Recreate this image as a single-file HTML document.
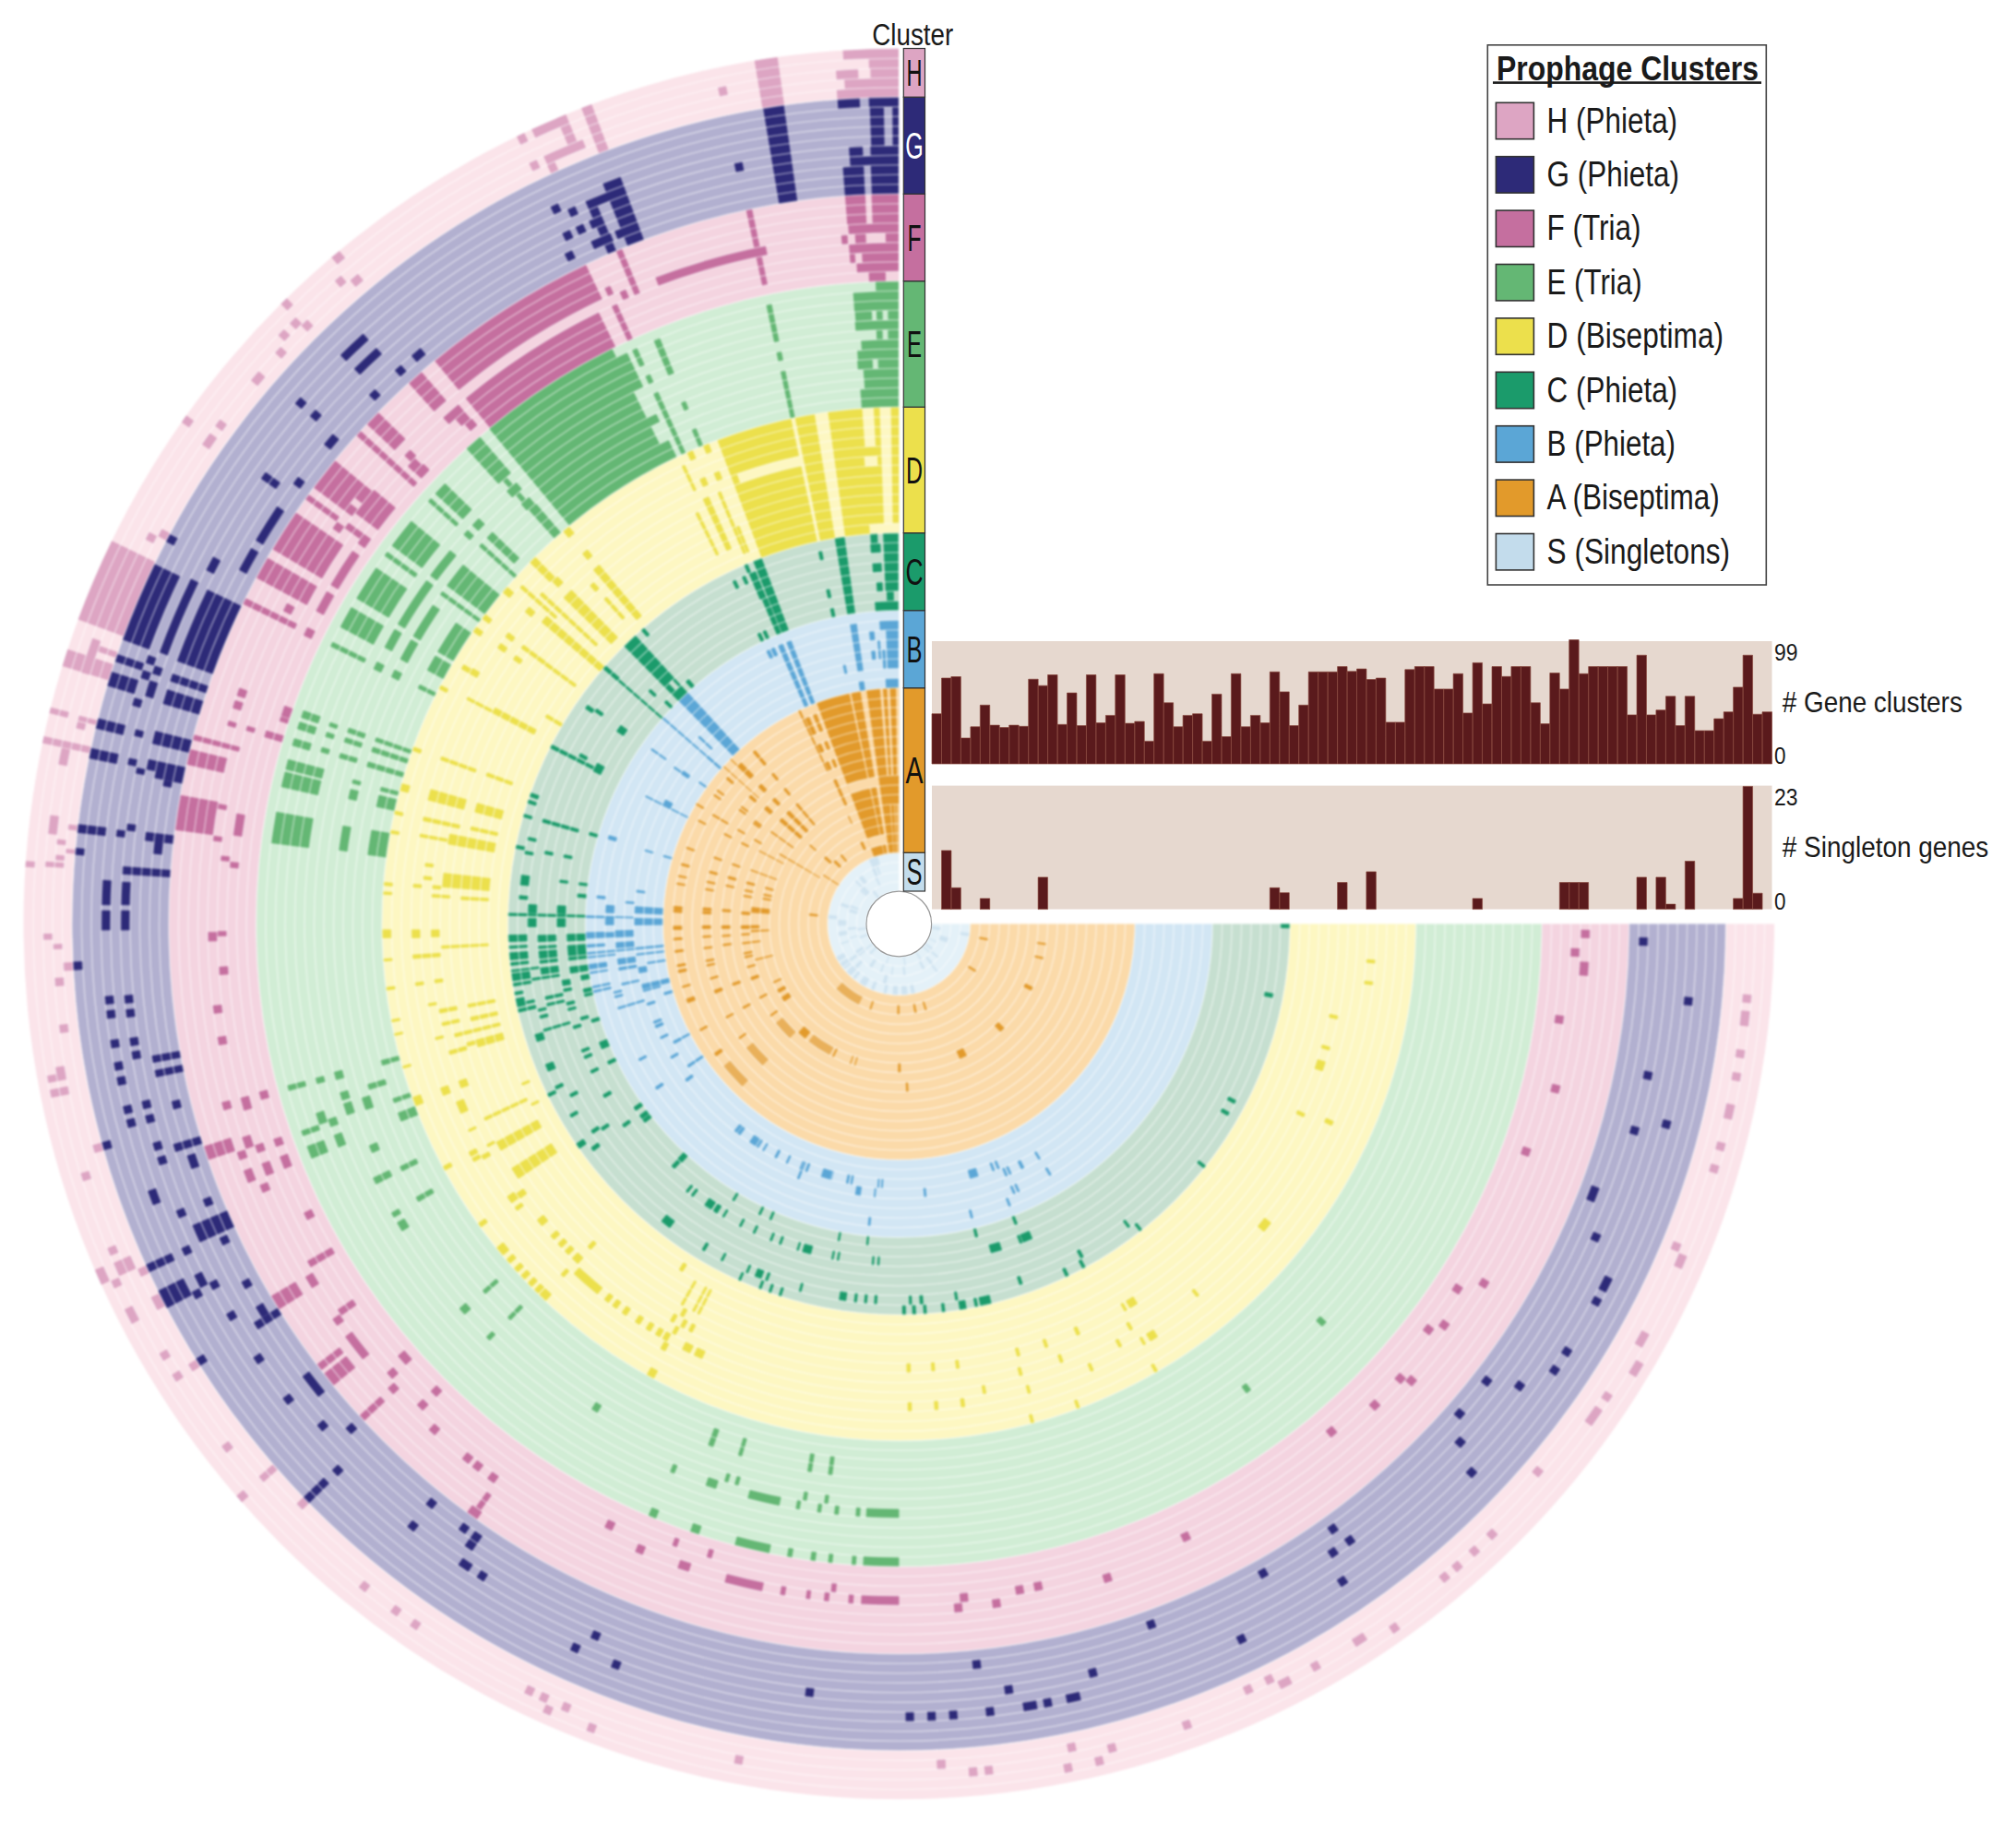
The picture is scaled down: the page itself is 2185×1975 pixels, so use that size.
<!DOCTYPE html>
<html><head><meta charset="utf-8"><title>Prophage Clusters</title>
<style>html,body{margin:0;padding:0;background:#fff}body{width:2185px;height:1975px;position:relative;overflow:hidden}svg text{font-family:"Liberation Sans",Arial,sans-serif}</style></head>
<body>
<svg width="2185" height="1975" viewBox="0 0 2185 1975" style="position:absolute;left:0;top:0">
<rect width="100%" height="100%" fill="#fff"/>
<defs><filter id="soft" x="0" y="0" width="100%" height="100%" filterUnits="userSpaceOnUse" color-interpolation-filters="sRGB"><feGaussianBlur stdDeviation="0.8"/></filter></defs>
<g filter="url(#soft)">
<rect width="100%" height="100%" fill="#fff"/>
<path d="M974.3 924.2A77.3 77.3 0 1 0 1051.6 1001.5L1009.6 1001.5A35.3 35.3 0 1 1 974.3 966.2Z" fill="#e4f1f8"/>
<path d="M974.3 745.7A255.8 255.8 0 1 0 1230.1 1001.5L1051.6 1001.5A77.3 77.3 0 1 1 974.3 924.2Z" fill="#fbdaa9"/>
<path d="M974.3 661.7A339.8 339.8 0 1 0 1314.1 1001.5L1230.1 1001.5A255.8 255.8 0 1 1 974.3 745.7Z" fill="#d2e6f4"/>
<path d="M974.3 577.7A423.8 423.8 0 1 0 1398.1 1001.5L1314.1 1001.5A339.8 339.8 0 1 1 974.3 661.7Z" fill="#c6dfd0"/>
<path d="M974.3 441.2A560.3 560.3 0 1 0 1534.6 1001.5L1398.1 1001.5A423.8 423.8 0 1 1 974.3 577.7Z" fill="#fdf7c2"/>
<path d="M974.3 304.7A696.8 696.8 0 1 0 1671.1 1001.5L1534.6 1001.5A560.3 560.3 0 1 1 974.3 441.2Z" fill="#d1edd5"/>
<path d="M974.3 210.2A791.3 791.3 0 1 0 1765.6 1001.5L1671.1 1001.5A696.8 696.8 0 1 1 974.3 304.7Z" fill="#f4d4e0"/>
<path d="M974.3 105.2A896.3 896.3 0 1 0 1870.6 1001.5L1765.6 1001.5A791.3 791.3 0 1 1 974.3 210.2Z" fill="#b2b0d0"/>
<path d="M974.3 52.7A948.8 948.8 0 1 0 1923.1 1001.5L1870.6 1001.5A896.3 896.3 0 1 1 974.3 105.2Z" fill="#fbe4ea"/>
<path d="M973.9 52.7A948.8 948.8 0 0 0 913.5 54.7L914.1 65.1A938.3 938.3 0 0 1 973.9 63.2ZM973.9 63.2A938.3 938.3 0 0 0 941.6 63.8L942.0 74.3A927.8 927.8 0 0 1 973.9 73.7ZM930.0 74.8A927.8 927.8 0 0 0 906.0 76.2L906.8 86.7A917.3 917.3 0 0 1 930.5 85.2ZM973.9 73.7A927.8 927.8 0 0 0 943.3 74.2L943.6 84.7A917.3 917.3 0 0 1 973.9 84.2ZM973.9 84.2A917.3 917.3 0 0 0 915.1 86.1L915.8 96.6A906.8 906.8 0 0 1 973.9 94.7ZM973.9 94.7A906.8 906.8 0 0 0 906.8 97.2L907.6 107.7A896.3 896.3 0 0 1 973.9 105.2ZM842.7 61.9A948.8 948.8 0 0 0 817.7 65.7L826.4 117.5A896.3 896.3 0 0 1 850.0 113.9Z" fill="#dda5c3"/>
<path d="M849.6 113.9A896.3 896.3 0 0 0 827.1 117.4L844.4 220.9A791.3 791.3 0 0 1 864.2 217.9Z" fill="#2d2a78"/>
<path d="M815.1 226.4A791.3 791.3 0 0 0 808.6 227.7L826.2 309.9A707.3 707.3 0 0 1 832.0 308.7ZM829.8 266.3A749.3 749.3 0 0 0 710.1 300.3L713.8 310.1A738.8 738.8 0 0 1 831.8 276.6Z" fill="#c56f9f"/>
<path d="M804.4 175.0A843.8 843.8 0 0 0 795.6 176.8L797.8 187.1A833.3 833.3 0 0 1 806.5 185.3Z" fill="#2d2a78"/>
<path d="M786.8 92.8A927.8 927.8 0 0 0 778.0 94.7L780.2 105.0A917.3 917.3 0 0 1 789.0 103.1Z" fill="#dda5c3"/>
<path d="M931.7 106.2A896.3 896.3 0 0 0 907.7 107.7L908.4 118.2A885.8 885.8 0 0 1 932.2 116.7ZM973.9 105.2A896.3 896.3 0 0 0 941.6 105.8L942.0 116.3A885.8 885.8 0 0 1 973.9 115.7ZM957.9 115.9A885.8 885.8 0 0 0 942.7 116.3L944.2 158.2A843.8 843.8 0 0 1 958.7 157.8ZM973.9 115.7A885.8 885.8 0 0 0 967.2 115.7L967.5 157.7A843.8 843.8 0 0 1 973.9 157.7ZM935.0 158.6A843.8 843.8 0 0 0 920.1 159.4L920.7 169.9A833.3 833.3 0 0 1 935.5 169.1ZM973.9 157.7A843.8 843.8 0 0 0 943.3 158.3L943.6 168.8A833.3 833.3 0 0 1 973.9 168.2ZM973.9 168.2A833.3 833.3 0 0 0 920.9 169.9L921.6 180.4A822.8 822.8 0 0 1 973.9 178.7ZM936.1 179.6A822.8 822.8 0 0 0 913.5 181.0L915.8 212.4A791.3 791.3 0 0 1 937.6 211.1ZM973.9 178.7A822.8 822.8 0 0 0 943.7 179.3L944.9 210.7A791.3 791.3 0 0 1 973.9 210.2Z" fill="#2d2a78"/>
<path d="M937.8 211.0A791.3 791.3 0 0 0 915.9 212.4L918.3 243.8A759.8 759.8 0 0 1 939.2 242.5ZM973.9 210.2A791.3 791.3 0 0 0 944.5 210.8L945.7 242.2A759.8 759.8 0 0 1 973.9 241.7ZM973.9 241.7A759.8 759.8 0 0 0 919.2 243.7L920.0 254.2A749.3 749.3 0 0 1 973.9 252.2ZM918.4 254.3A749.3 749.3 0 0 0 911.7 254.8L912.6 265.3A738.8 738.8 0 0 1 919.1 264.8ZM938.3 253.1A749.3 749.3 0 0 0 926.6 253.7L927.3 264.2A738.8 738.8 0 0 1 938.8 263.6ZM973.9 252.2A749.3 749.3 0 0 0 959.8 252.3L960.0 262.8A738.8 738.8 0 0 1 973.9 262.7ZM973.9 262.7A738.8 738.8 0 0 0 920.0 264.7L920.8 275.2A728.3 728.3 0 0 1 973.9 273.2ZM926.6 274.8A728.3 728.3 0 0 0 920.8 275.2L921.6 285.6A717.8 717.8 0 0 1 927.3 285.2ZM973.9 273.2A728.3 728.3 0 0 0 934.1 274.3L934.7 284.8A717.8 717.8 0 0 1 973.9 283.7ZM973.9 283.7A717.8 717.8 0 0 0 928.3 285.2L929.0 295.7A707.3 707.3 0 0 1 973.9 294.2ZM959.8 294.3A707.3 707.3 0 0 0 941.6 295.0L942.0 305.4A696.8 696.8 0 0 1 960.0 304.8Z" fill="#c56f9f"/>
<path d="M973.9 304.7A696.8 696.8 0 0 0 949.0 305.2L949.4 315.7A686.3 686.3 0 0 1 973.9 315.2ZM973.9 315.2A686.3 686.3 0 0 0 924.6 317.0L926.1 337.9A665.3 665.3 0 0 1 973.9 336.2ZM944.9 336.9A665.3 665.3 0 0 0 926.6 337.9L927.4 348.4A654.8 654.8 0 0 1 945.3 347.3ZM956.5 336.4A665.3 665.3 0 0 0 949.8 336.6L950.2 347.1A654.8 654.8 0 0 1 956.8 346.9ZM973.9 336.2A665.3 665.3 0 0 0 962.3 336.3L962.5 346.8A654.8 654.8 0 0 1 973.9 346.7ZM973.9 346.7A654.8 654.8 0 0 0 926.6 348.4L927.4 358.9A644.3 644.3 0 0 1 973.9 357.2ZM956.5 357.4A644.3 644.3 0 0 0 949.8 357.7L950.2 368.2A633.8 633.8 0 0 1 956.8 367.9ZM973.9 357.2A644.3 644.3 0 0 0 962.3 357.3L962.5 367.8A633.8 633.8 0 0 1 973.9 367.7ZM973.9 367.7A633.8 633.8 0 0 0 933.2 369.0L933.9 379.5A623.3 623.3 0 0 1 973.9 378.2ZM973.9 378.2A623.3 623.3 0 0 0 929.1 379.8L929.8 390.3A612.8 612.8 0 0 1 973.9 388.7ZM945.7 389.4A612.8 612.8 0 0 0 929.1 390.4L929.8 400.8A602.3 602.3 0 0 1 946.2 399.9ZM973.9 388.7A612.8 612.8 0 0 0 951.5 389.1L951.9 399.6A602.3 602.3 0 0 1 973.9 399.2ZM973.9 399.2A602.3 602.3 0 0 0 935.7 400.4L936.4 410.9A591.8 591.8 0 0 1 973.9 409.7ZM973.9 409.7A591.8 591.8 0 0 0 936.5 410.9L937.2 421.4A581.3 581.3 0 0 1 973.9 420.2ZM973.9 420.2A581.3 581.3 0 0 0 932.4 421.7L933.1 432.2A570.8 570.8 0 0 1 973.9 430.7ZM973.9 430.7A570.8 570.8 0 0 0 933.2 432.2L933.9 442.7A560.3 560.3 0 0 1 973.9 441.2ZM836.3 329.2A686.3 686.3 0 0 0 830.4 330.4L839.2 371.5A644.3 644.3 0 0 1 844.7 370.4ZM846.9 380.6A633.8 633.8 0 0 0 841.4 381.8L843.6 392.0A623.3 623.3 0 0 1 849.0 390.9ZM851.1 401.2A612.8 612.8 0 0 0 845.8 402.3L856.9 453.6A560.3 560.3 0 0 1 861.6 452.6Z" fill="#64b774"/>
<path d="M974.3 441.2A560.3 560.3 0 0 0 777.5 476.9L825.5 604.7A423.8 423.8 0 0 1 974.3 577.7Z" fill="#ece04c"/>
<path d="M897.3 446.5A560.3 560.3 0 0 0 882.8 448.7L905.1 583.4A423.8 423.8 0 0 1 916.1 581.7ZM861.6 452.6A560.3 560.3 0 0 0 857.3 453.5L885.8 587.0A423.8 423.8 0 0 1 889.1 586.4ZM867.4 494.3A518.3 518.3 0 0 0 798.7 513.8L802.3 523.7A507.8 507.8 0 0 1 869.6 504.6ZM946.9 441.9A560.3 560.3 0 0 0 934.4 442.6L937.4 484.5A518.3 518.3 0 0 1 949.0 483.8ZM951.0 494.2A507.8 507.8 0 0 0 936.6 495.1L937.4 505.6A497.3 497.3 0 0 1 951.5 504.7ZM965.6 441.3A560.3 560.3 0 0 0 953.3 441.6L958.0 567.5A434.3 434.3 0 0 1 967.6 567.3ZM974.3 567.2A434.3 434.3 0 0 0 942.1 568.4L942.8 578.9A423.8 423.8 0 0 1 974.3 577.7Z" fill="#fdf7c2"/>
<path d="M915.3 581.8A423.8 423.8 0 0 0 904.7 583.5L918.5 666.3A339.8 339.8 0 0 1 927.0 665.0ZM973.7 577.7A423.8 423.8 0 0 0 957.1 578.0L959.7 641.0A360.8 360.8 0 0 1 973.8 640.7ZM968.7 640.7A360.8 360.8 0 0 0 960.9 640.9L961.3 651.4A350.3 350.3 0 0 1 968.9 651.2ZM973.7 651.2A350.3 350.3 0 0 0 948.1 652.2L948.9 662.7A339.8 339.8 0 0 1 973.8 661.7ZM951.0 578.3A423.8 423.8 0 0 0 943.2 578.8L943.9 589.3A413.3 413.3 0 0 1 951.5 588.8ZM954.3 588.7A413.3 413.3 0 0 0 943.2 589.4L944.0 599.8A402.8 402.8 0 0 1 954.8 599.2ZM955.4 609.7A392.3 392.3 0 0 0 945.4 610.3L946.1 620.7A381.8 381.8 0 0 1 955.9 620.1ZM956.5 630.6A371.3 371.3 0 0 0 949.8 631.0L950.5 641.5A360.8 360.8 0 0 1 957.0 641.1ZM890.8 596.7A413.3 413.3 0 0 0 886.8 597.6L889.0 607.8A402.8 402.8 0 0 1 892.9 607.0ZM899.1 637.9A371.3 371.3 0 0 0 895.2 638.7L897.4 649.0A360.8 360.8 0 0 1 901.3 648.2ZM903.5 658.4A350.3 350.3 0 0 0 899.5 659.3L901.7 669.5A339.8 339.8 0 0 1 905.6 668.7ZM825.5 604.7A423.8 423.8 0 0 0 816.2 608.3L847.6 686.2A339.8 339.8 0 0 1 855.0 683.3ZM818.8 618.6A413.3 413.3 0 0 0 811.5 621.6L823.9 650.6A381.8 381.8 0 0 1 830.7 647.8ZM831.3 647.5A381.8 381.8 0 0 0 825.7 649.8L842.1 688.5A339.8 339.8 0 0 1 847.0 686.4ZM797.1 628.1A413.3 413.3 0 0 0 793.5 629.8L798.1 639.3A402.8 402.8 0 0 1 801.6 637.6ZM807.5 623.4A413.3 413.3 0 0 0 803.8 625.0L808.1 634.6A402.8 402.8 0 0 1 811.7 633.0ZM810.1 610.8A423.8 423.8 0 0 0 806.4 612.4L810.5 622.0A413.3 413.3 0 0 1 814.2 620.5ZM824.0 685.1A350.3 350.3 0 0 0 820.4 686.8L825.0 696.3A339.8 339.8 0 0 1 828.5 694.6ZM829.9 682.4A350.3 350.3 0 0 0 826.2 684.0L830.6 693.6A339.8 339.8 0 0 1 834.2 691.9Z" fill="#1b9b6b"/>
<path d="M928.5 675.4A329.3 329.3 0 0 0 921.1 676.5L929.6 728.3A276.8 276.8 0 0 1 935.8 727.4ZM973.7 672.2A329.3 329.3 0 0 0 953.1 672.9L953.8 683.4A318.8 318.8 0 0 1 973.8 682.7ZM973.7 682.7A318.8 318.8 0 0 0 960.2 683.0L962.0 725.0A276.8 276.8 0 0 1 973.8 724.7ZM947.5 683.8A318.8 318.8 0 0 0 941.9 684.3L943.0 694.8A308.3 308.3 0 0 1 948.4 694.3ZM948.6 704.8A297.8 297.8 0 0 0 944.1 705.2L945.2 715.7A287.3 287.3 0 0 1 949.5 715.3ZM953.8 693.9A308.3 308.3 0 0 0 951.0 694.1L952.6 715.0A287.3 287.3 0 0 1 955.2 714.8ZM959.5 704.1A297.8 297.8 0 0 0 956.1 704.3L957.4 725.2A276.8 276.8 0 0 1 960.5 725.0ZM936.2 737.9A266.3 266.3 0 0 0 930.6 738.8L932.3 749.2A255.8 255.8 0 0 1 937.7 748.3ZM973.7 735.2A266.3 266.3 0 0 0 959.7 735.6L960.3 746.1A255.8 255.8 0 0 1 973.8 745.7ZM857.4 693.7A329.3 329.3 0 0 0 852.0 695.7L875.4 754.2A266.3 266.3 0 0 1 879.7 752.6ZM848.3 697.3A329.3 329.3 0 0 0 843.0 699.5L868.1 757.3A266.3 266.3 0 0 1 872.4 755.5ZM833.8 703.7A329.3 329.3 0 0 0 830.2 705.4L834.8 714.8A318.8 318.8 0 0 1 838.3 713.2ZM838.8 701.4A329.3 329.3 0 0 0 835.1 703.1L839.6 712.6A318.8 318.8 0 0 1 843.1 710.9ZM916.4 720.1A287.3 287.3 0 0 0 913.4 720.7L915.6 731.0A276.8 276.8 0 0 1 918.5 730.4Z" fill="#5ba6d6"/>
<path d="M568.2 144.0A948.8 948.8 0 0 0 560.0 147.9L564.6 157.4A938.3 938.3 0 0 1 572.7 153.5ZM581.3 172.7A917.3 917.3 0 0 0 573.1 176.6L577.7 186.0A906.8 906.8 0 0 1 585.8 182.2ZM641.2 113.1A948.8 948.8 0 0 0 630.1 117.3L649.2 166.2A896.3 896.3 0 0 1 659.7 162.2ZM613.3 124.1A948.8 948.8 0 0 0 603.2 128.3L615.5 157.3A917.3 917.3 0 0 1 625.3 153.2ZM608.9 125.9A948.8 948.8 0 0 0 576.1 140.3L580.5 149.8A938.3 938.3 0 0 1 613.0 135.6ZM631.2 150.8A917.3 917.3 0 0 0 588.9 169.1L593.3 178.6A906.8 906.8 0 0 1 635.2 160.5ZM601.1 175.1A906.8 906.8 0 0 0 592.9 178.8L597.3 188.3A896.3 896.3 0 0 1 605.4 184.6Z" fill="#dda5c3"/>
<path d="M672.3 191.2A864.8 864.8 0 0 0 653.0 198.6L680.3 266.8A791.3 791.3 0 0 1 697.9 260.0ZM643.6 213.8A854.3 854.3 0 0 0 634.2 217.8L659.3 275.6A791.3 791.3 0 0 1 668.0 271.9ZM659.8 207.2A854.3 854.3 0 0 0 637.7 216.3L641.9 225.9A843.8 843.8 0 0 1 663.7 217.0ZM661.1 252.0A812.3 812.3 0 0 0 640.0 261.2L644.3 270.8A801.8 801.8 0 0 1 665.2 261.7ZM604.4 219.8A864.8 864.8 0 0 0 596.3 223.7L600.8 233.1A854.3 854.3 0 0 1 608.9 229.3ZM622.9 222.8A854.3 854.3 0 0 0 614.7 226.6L619.1 236.1A843.8 843.8 0 0 1 627.2 232.4ZM631.6 241.9A833.3 833.3 0 0 0 623.4 245.7L627.8 255.2A822.8 822.8 0 0 1 636.0 251.5ZM617.2 248.6A833.3 833.3 0 0 0 609.0 252.5L613.6 262.0A822.8 822.8 0 0 1 621.7 258.1ZM619.6 270.7A812.3 812.3 0 0 0 611.4 274.8L616.1 284.1A801.8 801.8 0 0 1 624.2 280.2ZM646.2 235.5A833.3 833.3 0 0 0 637.9 239.1L642.1 248.7A822.8 822.8 0 0 1 650.3 245.2ZM674.2 246.7A812.3 812.3 0 0 0 665.8 250.1L669.7 259.8A801.8 801.8 0 0 1 678.0 256.4Z" fill="#2d2a78"/>
<path d="M634.9 286.7A791.3 791.3 0 0 0 471.0 390.9L497.7 423.3A749.3 749.3 0 0 1 652.9 324.6ZM648.7 338.3A738.8 738.8 0 0 0 504.4 431.4L531.1 463.8A696.8 696.8 0 0 1 667.2 376.0Z" fill="#c56f9f"/>
<path d="M663.4 377.9A696.8 696.8 0 0 0 530.1 464.6L617.2 569.8A560.3 560.3 0 0 1 724.3 500.1ZM679.4 381.8A686.3 686.3 0 0 0 668.1 387.3L672.8 396.7A675.8 675.8 0 0 1 683.9 391.3ZM683.9 391.3A675.8 675.8 0 0 0 672.8 396.7L677.4 406.1A665.3 665.3 0 0 1 688.4 400.8ZM688.4 400.8A665.3 665.3 0 0 0 677.4 406.1L682.1 415.5A654.8 654.8 0 0 1 692.9 410.2ZM692.9 410.2A654.8 654.8 0 0 0 682.1 415.5L686.8 424.9A644.3 644.3 0 0 1 697.4 419.7ZM711.0 448.2A612.8 612.8 0 0 0 700.9 453.1L705.6 462.5A602.3 602.3 0 0 1 715.5 457.6ZM724.5 476.6A581.3 581.3 0 0 0 714.9 481.3L719.6 490.7A570.8 570.8 0 0 1 729.0 486.1ZM729.0 486.1A570.8 570.8 0 0 0 719.6 490.7L724.3 500.1A560.3 560.3 0 0 1 733.5 495.6ZM715.0 366.1A686.3 686.3 0 0 0 708.3 368.8L724.6 407.5A644.3 644.3 0 0 1 730.9 405.0ZM742.8 434.1A612.8 612.8 0 0 0 737.8 436.2L741.9 445.9A602.3 602.3 0 0 1 746.7 443.8ZM754.2 463.5A581.3 581.3 0 0 0 749.5 465.4L757.6 484.8A560.3 560.3 0 0 1 762.1 482.9ZM690.2 376.7A686.3 686.3 0 0 0 684.8 379.2L693.7 398.3A665.3 665.3 0 0 1 698.9 395.9ZM704.3 404.9A654.8 654.8 0 0 0 699.1 407.3L703.5 416.9A644.3 644.3 0 0 1 708.6 414.5ZM713.0 424.1A633.8 633.8 0 0 0 707.9 426.4L738.8 493.1A560.3 560.3 0 0 1 743.3 491.0Z" fill="#64b774"/>
<path d="M674.0 269.4A791.3 791.3 0 0 0 667.7 272.0L688.0 320.4A738.8 738.8 0 0 1 694.0 318.0ZM668.5 329.0A738.8 738.8 0 0 0 662.7 331.6L680.4 369.7A696.8 696.8 0 0 1 685.9 367.2ZM661.0 309.3A759.8 759.8 0 0 0 655.0 312.0L659.4 321.6A749.3 749.3 0 0 1 665.4 318.9ZM677.9 313.3A749.3 749.3 0 0 0 671.3 316.2L675.6 325.8A738.8 738.8 0 0 1 682.1 323.0ZM456.7 402.9A791.3 791.3 0 0 0 442.8 415.3L471.0 446.4A749.3 749.3 0 0 1 484.2 434.7ZM496.5 438.0A738.8 738.8 0 0 0 479.9 452.5L487.0 460.3A728.3 728.3 0 0 1 503.2 446.0ZM503.2 446.0A728.3 728.3 0 0 0 493.6 454.4L500.6 462.2A717.8 717.8 0 0 1 510.0 454.1ZM511.0 453.2A717.8 717.8 0 0 0 503.4 459.8L510.3 467.7A707.3 707.3 0 0 1 517.8 461.3ZM409.9 446.9A791.3 791.3 0 0 0 397.5 459.8L428.1 488.6A749.3 749.3 0 0 1 439.9 476.3ZM390.0 467.9A791.3 791.3 0 0 0 386.2 472.0L448.7 528.2A707.3 707.3 0 0 1 452.0 524.6ZM442.9 488.3A738.8 738.8 0 0 0 438.4 492.9L446.0 500.2A728.3 728.3 0 0 1 450.4 495.6ZM449.5 496.5A728.3 728.3 0 0 0 445.1 501.1L452.8 508.3A717.8 717.8 0 0 1 457.1 503.8ZM457.1 503.8A717.8 717.8 0 0 0 449.3 512.0L457.0 519.1A707.3 707.3 0 0 1 464.7 511.1Z" fill="#c56f9f"/>
<path d="M519.9 473.2A696.8 696.8 0 0 0 505.3 486.1L540.7 525.0A644.3 644.3 0 0 1 554.2 513.0ZM549.1 517.5A644.3 644.3 0 0 0 544.9 521.2L551.9 529.0A633.8 633.8 0 0 1 556.0 525.3ZM559.3 522.4A633.8 633.8 0 0 0 548.6 532.0L555.6 539.8A623.3 623.3 0 0 1 566.2 530.4ZM562.9 533.2A623.3 623.3 0 0 0 558.9 536.8L565.8 544.7A612.8 612.8 0 0 1 569.9 541.1ZM573.1 538.3A612.8 612.8 0 0 0 564.3 546.1L571.3 553.9A602.3 602.3 0 0 1 579.9 546.2ZM580.7 545.6A602.3 602.3 0 0 0 572.8 552.5L600.8 583.8A560.3 560.3 0 0 1 608.2 577.4ZM481.9 523.5A686.3 686.3 0 0 0 471.1 534.8L501.9 563.3A644.3 644.3 0 0 1 512.0 552.7ZM466.7 539.6A686.3 686.3 0 0 0 463.5 543.2L494.7 571.2A644.3 644.3 0 0 1 497.8 567.9Z" fill="#64b774"/>
<path d="M741.9 503.2A549.8 549.8 0 0 0 738.5 504.8L752.0 533.3A518.3 518.3 0 0 1 755.2 531.8ZM756.7 554.3A497.3 497.3 0 0 0 753.3 556.0L776.6 603.1A444.8 444.8 0 0 1 779.7 601.5ZM767.8 537.6A507.8 507.8 0 0 0 761.4 540.5L787.8 597.7A444.8 444.8 0 0 1 793.4 595.2ZM781.1 531.9A507.8 507.8 0 0 0 777.5 533.4L805.9 601.2A434.3 434.3 0 0 1 809.0 599.9ZM801.0 569.2A465.8 465.8 0 0 0 797.5 570.6L809.5 599.7A434.3 434.3 0 0 1 812.7 598.4ZM750.6 487.8A560.3 560.3 0 0 0 744.5 490.5L748.8 500.1A549.8 549.8 0 0 1 754.8 497.4ZM768.1 480.5A560.3 560.3 0 0 0 761.9 483.0L765.9 492.7A549.8 549.8 0 0 1 771.9 490.3ZM764.0 516.3A528.8 528.8 0 0 0 757.9 519.0L762.2 528.6A518.3 518.3 0 0 1 768.2 526.0ZM779.5 509.9A528.8 528.8 0 0 0 773.3 512.4L777.3 522.1A518.3 518.3 0 0 1 783.4 519.7ZM616.4 570.4A560.3 560.3 0 0 0 610.1 575.7L616.9 583.7A549.8 549.8 0 0 1 623.2 578.4ZM636.2 594.9A528.8 528.8 0 0 0 630.5 599.7L637.3 607.7A518.3 518.3 0 0 1 642.9 603.0ZM579.9 603.6A560.3 560.3 0 0 0 573.9 609.6L596.4 631.6A528.8 528.8 0 0 1 602.0 625.9ZM603.8 624.2A528.8 528.8 0 0 0 597.9 630.1L605.4 637.5A518.3 518.3 0 0 1 611.2 631.7ZM649.1 611.5A507.8 507.8 0 0 0 642.4 617.2L690.4 672.8A434.3 434.3 0 0 1 696.2 667.9ZM618.9 638.8A507.8 507.8 0 0 0 610.1 647.6L662.8 698.8A434.3 434.3 0 0 1 670.3 691.3ZM657.0 646.2A476.3 476.3 0 0 0 653.9 649.1L675.1 672.4A444.8 444.8 0 0 1 678.0 669.7ZM643.1 630.5A497.3 497.3 0 0 0 638.8 634.4L645.9 642.2A486.8 486.8 0 0 1 650.1 638.3ZM587.2 641.3A528.8 528.8 0 0 0 584.2 644.6L646.1 701.3A444.8 444.8 0 0 1 648.7 698.5ZM565.8 633.5A549.8 549.8 0 0 0 562.9 636.7L602.2 671.6A497.3 497.3 0 0 1 604.8 668.7ZM592.1 667.1A507.8 507.8 0 0 0 586.3 673.9L650.5 728.1A423.8 423.8 0 0 1 655.3 722.4ZM573.0 657.1A528.8 528.8 0 0 0 568.2 662.8L576.2 669.6A518.3 518.3 0 0 1 581.0 664.0ZM566.9 698.4A507.8 507.8 0 0 0 564.3 701.8L589.8 720.4A476.3 476.3 0 0 1 592.1 717.2Z" fill="#ece04c"/>
<path d="M697.8 680.4A423.8 423.8 0 0 0 694.6 683.1L701.6 691.0A413.3 413.3 0 0 1 704.6 688.3Z" fill="#1b9b6b"/>
<path d="M974.3 745.7A255.8 255.8 0 0 0 885.1 761.7L947.4 929.0A77.3 77.3 0 0 1 974.3 924.2Z" fill="#e29a2b"/>
<path d="M922.4 751.0A255.8 255.8 0 0 0 920.5 751.4L958.0 925.9A77.3 77.3 0 0 1 958.6 925.8ZM939.1 748.1A255.8 255.8 0 0 0 932.5 749.1L961.7 925.2A77.3 77.3 0 0 1 963.7 924.9ZM956.9 746.3A255.8 255.8 0 0 0 953.8 746.5L961.4 840.7A161.3 161.3 0 0 1 963.3 840.6ZM964.5 745.9A255.8 255.8 0 0 0 961.4 746.0L966.1 840.4A161.3 161.3 0 0 1 968.1 840.3ZM974.3 745.7A255.8 255.8 0 0 0 971.2 745.7L972.3 840.2A161.3 161.3 0 0 1 974.3 840.2ZM965.5 872.0A129.8 129.8 0 0 0 964.6 872.1L968.5 924.4A77.3 77.3 0 0 1 969.0 924.4ZM970.2 871.8A129.8 129.8 0 0 0 969.3 871.8L971.3 924.3A77.3 77.3 0 0 1 971.9 924.2ZM973.6 871.7A129.8 129.8 0 0 0 972.3 871.7L973.1 924.2A77.3 77.3 0 0 1 973.9 924.2ZM948.0 842.4A161.3 161.3 0 0 0 918.1 850.3L921.7 860.2A150.8 150.8 0 0 1 949.7 852.7ZM958.2 904.5A98.3 98.3 0 0 0 940.0 909.4L943.7 919.2A87.8 87.8 0 0 1 960.0 914.9Z" fill="#fbdaa9"/>
<path d="M867.2 769.2A255.8 255.8 0 0 0 865.0 770.2L896.4 836.7A182.3 182.3 0 0 1 898.0 835.9ZM876.9 776.4A245.3 245.3 0 0 0 872.2 778.5L876.6 788.0A234.8 234.8 0 0 1 881.0 786.0ZM881.0 786.0A234.8 234.8 0 0 0 876.6 788.0L880.9 797.6A224.3 224.3 0 0 1 885.2 795.6ZM889.4 805.3A213.8 213.8 0 0 0 885.3 807.1L889.7 816.7A203.3 203.3 0 0 1 893.6 814.9ZM897.7 824.6A192.8 192.8 0 0 0 894.0 826.2L898.4 835.7A182.3 182.3 0 0 1 901.9 834.2ZM906.1 843.8A171.8 171.8 0 0 0 902.8 845.3L907.2 854.8A161.3 161.3 0 0 1 910.2 853.5ZM910.2 853.5A161.3 161.3 0 0 0 907.2 854.8L911.5 864.4A150.8 150.8 0 0 1 914.4 863.1ZM914.4 863.1A150.8 150.8 0 0 0 911.5 864.4L915.9 873.9A140.3 140.3 0 0 1 918.6 872.7ZM884.8 773.1A245.3 245.3 0 0 0 880.8 774.7L884.8 784.4A234.8 234.8 0 0 1 888.6 782.9ZM888.6 782.9A234.8 234.8 0 0 0 884.8 784.4L888.8 794.1A224.3 224.3 0 0 1 892.5 792.7ZM896.3 802.4A213.8 213.8 0 0 0 892.8 803.8L896.8 813.5A203.3 203.3 0 0 1 900.1 812.2ZM904.0 822.0A192.8 192.8 0 0 0 900.8 823.2L904.8 833.0A182.3 182.3 0 0 1 907.8 831.8Z" fill="#e29a2b"/>
<path d="M745.4 750.4A339.8 339.8 0 0 0 735.5 759.8L794.5 819.5A255.8 255.8 0 0 1 802.0 812.5Z" fill="#5ba6d6"/>
<path d="M688.5 688.5A423.8 423.8 0 0 0 676.2 700.3L735.3 760.0A339.8 339.8 0 0 1 745.2 750.6Z" fill="#1b9b6b"/>
<path d="M728.8 737.1A360.8 360.8 0 0 0 724.9 740.8L732.1 748.4A350.3 350.3 0 0 1 736.0 744.8Z" fill="#c6dfd0"/>
<path d="M719.0 777.2A339.8 339.8 0 0 0 717.5 779.0L765.1 820.3A276.8 276.8 0 0 1 766.4 818.8ZM766.7 818.4A276.8 276.8 0 0 0 764.8 820.6L780.7 834.4A255.8 255.8 0 0 1 782.4 832.3Z" fill="#5ba6d6"/>
<path d="M655.4 722.3A423.8 423.8 0 0 0 653.5 724.6L717.1 779.5A339.8 339.8 0 0 1 718.6 777.7Z" fill="#1b9b6b"/>
<path d="M706.0 810.6A329.3 329.3 0 0 0 704.7 812.5L721.9 824.5A308.3 308.3 0 0 1 723.1 822.8ZM730.6 830.3A297.8 297.8 0 0 0 729.3 832.2L746.6 844.1A276.8 276.8 0 0 1 747.8 842.4ZM740.3 834.8A287.3 287.3 0 0 0 737.6 838.7L746.2 844.6A276.8 276.8 0 0 1 748.8 840.9ZM757.8 797.1A297.8 297.8 0 0 0 756.0 798.9L771.4 813.2A276.8 276.8 0 0 1 773.0 811.5ZM757.8 846.4A266.3 266.3 0 0 0 756.5 848.2L765.1 854.3A255.8 255.8 0 0 1 766.3 852.5ZM699.5 861.8A308.3 308.3 0 0 0 698.6 863.6L745.5 887.1A255.8 255.8 0 0 1 746.3 885.6ZM720.8 866.3A287.3 287.3 0 0 0 718.3 871.2L727.6 875.9A276.8 276.8 0 0 1 730.1 871.3ZM698.7 920.4A287.3 287.3 0 0 0 698.1 922.5L708.2 925.4A276.8 276.8 0 0 1 708.8 923.4ZM718.8 926.6A266.3 266.3 0 0 0 718.1 928.7L728.2 931.6A255.8 255.8 0 0 1 728.8 929.6ZM833.8 703.7A329.3 329.3 0 0 0 831.8 704.6L836.4 714.1A318.8 318.8 0 0 1 838.3 713.2ZM839.2 701.2A329.3 329.3 0 0 0 837.2 702.1L841.5 711.7A318.8 318.8 0 0 1 843.5 710.8ZM879.7 752.6A266.3 266.3 0 0 0 875.4 754.2L879.3 764.0A255.8 255.8 0 0 1 883.5 762.4ZM872.4 755.5A266.3 266.3 0 0 0 868.1 757.3L872.3 766.9A255.8 255.8 0 0 1 876.4 765.2ZM935.9 738.0A266.3 266.3 0 0 0 930.8 738.8L932.5 749.1A255.8 255.8 0 0 1 937.4 748.4Z" fill="#5ba6d6"/>
<path d="M704.1 746.9A371.3 371.3 0 0 0 702.2 748.9L709.9 756.0A360.8 360.8 0 0 1 711.7 754.1ZM722.0 758.5A350.3 350.3 0 0 0 720.0 760.5L727.7 767.8A339.8 339.8 0 0 1 729.5 765.8ZM745.2 736.5A350.3 350.3 0 0 0 742.8 738.6L749.8 746.4A339.8 339.8 0 0 1 752.0 744.5Z" fill="#1b9b6b"/>
<path d="M818.1 812.4A245.3 245.3 0 0 0 815.2 814.8L828.8 830.8A224.3 224.3 0 0 1 831.4 828.6ZM784.5 830.0A255.8 255.8 0 0 0 783.6 831.0L822.7 866.0A203.3 203.3 0 0 1 823.4 865.2ZM792.0 822.0A255.8 255.8 0 0 0 791.1 822.9L813.7 844.9A224.3 224.3 0 0 1 814.5 844.1ZM803.0 825.9A245.3 245.3 0 0 0 799.5 829.5L814.4 844.2A224.3 224.3 0 0 1 817.7 840.9ZM824.6 848.9A213.8 213.8 0 0 0 821.1 852.4L828.6 859.7A203.3 203.3 0 0 1 832.0 856.4ZM813.1 861.0A213.8 213.8 0 0 0 810.7 863.8L818.8 870.6A203.3 203.3 0 0 1 821.0 867.9ZM788.3 841.6A245.3 245.3 0 0 0 786.3 844.0L794.3 850.7A234.8 234.8 0 0 1 796.2 848.4ZM837.9 836.9A213.8 213.8 0 0 0 835.5 838.9L842.3 846.9A203.3 203.3 0 0 1 844.6 845.0ZM851.0 853.3A192.8 192.8 0 0 0 848.6 855.3L855.5 863.2A182.3 182.3 0 0 1 857.7 861.4ZM839.2 863.9A192.8 192.8 0 0 0 836.2 867.0L843.7 874.3A182.3 182.3 0 0 1 846.6 871.4ZM830.7 872.9A192.8 192.8 0 0 0 827.4 876.6L835.4 883.4A182.3 182.3 0 0 1 838.5 879.9ZM773.8 860.2A245.3 245.3 0 0 0 772.5 862.0L781.2 868.0A234.8 234.8 0 0 1 782.4 866.2ZM777.4 855.2A245.3 245.3 0 0 0 776.1 857.0L784.5 863.2A234.8 234.8 0 0 1 785.8 861.5ZM754.8 870.2A255.8 255.8 0 0 0 753.6 872.1L762.7 877.4A245.3 245.3 0 0 1 763.8 875.6ZM801.1 876.1A213.8 213.8 0 0 0 799.8 877.9L808.4 884.0A203.3 203.3 0 0 1 809.6 882.3ZM803.5 873.0A213.8 213.8 0 0 0 802.1 874.7L810.6 881.0A203.3 203.3 0 0 1 811.8 879.3ZM772.3 881.8A234.8 234.8 0 0 0 771.2 883.7L789.3 894.3A213.8 213.8 0 0 1 790.4 892.5ZM756.8 888.0A245.3 245.3 0 0 0 755.8 890.0L765.2 894.8A234.8 234.8 0 0 1 766.1 892.9ZM818.0 888.6A192.8 192.8 0 0 0 816.7 890.4L825.3 896.5A182.3 182.3 0 0 1 826.5 894.8ZM816.5 890.7A192.8 192.8 0 0 0 815.2 892.5L823.9 898.5A182.3 182.3 0 0 1 825.1 896.7ZM799.4 897.9A203.3 203.3 0 0 0 798.3 899.8L807.4 905.0A192.8 192.8 0 0 1 808.4 903.2ZM784.8 902.6A213.8 213.8 0 0 0 783.7 904.6L793.1 909.3A203.3 203.3 0 0 1 794.1 907.4ZM803.4 912.2A192.8 192.8 0 0 0 802.4 914.2L811.8 918.9A182.3 182.3 0 0 1 812.7 917.1ZM817.4 908.7A182.3 182.3 0 0 0 816.3 910.6L825.4 915.8A171.8 171.8 0 0 1 826.4 914.0ZM863.9 869.8A171.8 171.8 0 0 0 861.7 871.7L882.4 895.5A140.3 140.3 0 0 1 884.2 894.0ZM854.9 878.0A171.8 171.8 0 0 0 851.6 881.2L874.1 903.3A140.3 140.3 0 0 1 876.8 900.6ZM847.0 886.1A171.8 171.8 0 0 0 844.0 889.6L867.9 910.1A140.3 140.3 0 0 1 870.4 907.3ZM835.6 900.2A171.8 171.8 0 0 0 834.4 901.8L860.0 920.1A140.3 140.3 0 0 1 861.0 918.8ZM822.4 921.3A171.8 171.8 0 0 0 821.8 922.5L849.7 937.0A140.3 140.3 0 0 1 850.2 936.0ZM844.6 924.6A150.8 150.8 0 0 0 843.8 925.9L889.2 952.2A98.3 98.3 0 0 1 889.7 951.4ZM813.1 942.1A171.8 171.8 0 0 0 812.6 943.6L842.2 954.2A140.3 140.3 0 0 1 842.7 953.0ZM892.1 947.6A98.3 98.3 0 0 0 891.4 948.7L909.1 960.0A77.3 77.3 0 0 1 909.7 959.1ZM877.7 914.8A129.8 129.8 0 0 0 876.5 916.2L884.4 923.1A119.3 119.3 0 0 1 885.5 921.8ZM894.5 927.6A108.8 108.8 0 0 0 892.4 929.9L900.3 936.8A98.3 98.3 0 0 1 902.2 934.7ZM905.0 931.8A98.3 98.3 0 0 0 902.8 934.0L910.4 941.2A87.8 87.8 0 0 1 912.4 939.2ZM912.0 925.5A98.3 98.3 0 0 0 910.2 927.0L917.1 934.9A87.8 87.8 0 0 1 918.6 933.6ZM919.9 883.6A129.8 129.8 0 0 0 918.6 884.3L923.1 893.8A119.3 119.3 0 0 1 924.3 893.2ZM934.8 911.5A98.3 98.3 0 0 0 931.9 912.8L936.5 922.3A87.8 87.8 0 0 1 939.0 921.1ZM743.8 917.6A245.3 245.3 0 0 0 743.1 919.7L753.0 923.2A234.8 234.8 0 0 1 753.7 921.2ZM738.1 935.2A245.3 245.3 0 0 0 737.3 938.1L747.5 940.8A234.8 234.8 0 0 1 748.2 938.0ZM734.9 948.2A245.3 245.3 0 0 0 734.4 950.4L744.7 952.5A234.8 234.8 0 0 1 745.1 950.5ZM733.2 956.5A245.3 245.3 0 0 0 732.8 958.7L743.1 960.5A234.8 234.8 0 0 1 743.5 958.4ZM773.5 928.1A213.8 213.8 0 0 0 772.7 930.2L782.6 933.7A203.3 203.3 0 0 1 783.4 931.7ZM768.6 943.4A213.8 213.8 0 0 0 767.7 946.3L777.9 949.1A203.3 203.3 0 0 1 778.7 946.2ZM765.7 954.5A213.8 213.8 0 0 0 765.2 956.7L775.5 958.9A203.3 203.3 0 0 1 776.0 956.8ZM764.1 962.5A213.8 213.8 0 0 0 763.7 964.7L774.0 966.5A203.3 203.3 0 0 1 774.4 964.4ZM793.2 935.3A192.8 192.8 0 0 0 792.5 937.4L802.4 940.9A182.3 182.3 0 0 1 803.1 938.9ZM788.7 949.3A192.8 192.8 0 0 0 787.9 952.3L798.0 955.0A182.3 182.3 0 0 1 798.8 952.1ZM786.3 958.6A192.8 192.8 0 0 0 785.8 960.8L796.1 963.0A182.3 182.3 0 0 1 796.6 961.0ZM808.8 955.3A171.8 171.8 0 0 0 808.1 957.9L818.3 960.6A161.3 161.3 0 0 1 818.9 958.1ZM806.7 963.7A171.8 171.8 0 0 0 806.2 965.9L816.5 968.1A161.3 161.3 0 0 1 817.0 966.0ZM805.5 969.8A171.8 171.8 0 0 0 805.1 972.0L815.4 973.8A161.3 161.3 0 0 1 815.8 971.7ZM829.0 961.0A150.8 150.8 0 0 0 828.4 963.2L838.6 965.9A140.3 140.3 0 0 1 839.1 963.9ZM827.2 968.5A150.8 150.8 0 0 0 826.7 970.7L837.0 972.8A140.3 140.3 0 0 1 837.4 970.8ZM826.3 972.7A150.8 150.8 0 0 0 825.9 974.9L836.2 976.8A140.3 140.3 0 0 1 836.6 974.7ZM813.9 984.8A161.3 161.3 0 0 0 813.5 988.7L834.4 990.3A140.3 140.3 0 0 1 834.8 987.0ZM803.0 988.2A171.8 171.8 0 0 0 802.8 991.3L813.3 991.9A161.3 161.3 0 0 1 813.5 989.0ZM729.7 982.3A245.3 245.3 0 0 0 729.6 984.6L740.1 985.3A234.8 234.8 0 0 1 740.2 983.2ZM729.5 986.6A245.3 245.3 0 0 0 729.3 988.9L739.8 989.4A234.8 234.8 0 0 1 739.9 987.3ZM761.2 984.8A213.8 213.8 0 0 0 761.0 987.0L771.5 987.7A203.3 203.3 0 0 1 771.6 985.6ZM760.9 988.5A213.8 213.8 0 0 0 760.8 990.7L771.3 991.2A203.3 203.3 0 0 1 771.4 989.1ZM782.1 985.9A192.8 192.8 0 0 0 782.0 988.2L792.4 988.9A182.3 182.3 0 0 1 792.6 986.8ZM729.0 1004.4A245.3 245.3 0 0 0 729.1 1008.1L739.6 1007.8A234.8 234.8 0 0 1 739.5 1004.3ZM760.5 1003.8A213.8 213.8 0 0 0 760.6 1006.9L771.1 1006.6A203.3 203.3 0 0 1 771.0 1003.7ZM781.5 1003.8A192.8 192.8 0 0 0 781.6 1006.9L792.1 1006.6A182.3 182.3 0 0 1 792.0 1003.7ZM802.5 1003.9A171.8 171.8 0 0 0 802.6 1007.0L813.1 1006.7A161.3 161.3 0 0 1 813.0 1003.7ZM876.7 990.0A98.3 98.3 0 0 0 876.4 992.5L886.9 993.4A87.8 87.8 0 0 1 887.1 991.2Z" fill="#e29a2b"/>
<path d="M121.2 586.3A948.8 948.8 0 0 0 84.7 671.5L133.9 689.8A896.3 896.3 0 0 1 168.4 609.3ZM73.4 703.8A948.8 948.8 0 0 0 67.6 722.1L117.7 737.6A896.3 896.3 0 0 1 123.3 720.3ZM99.8 691.6A927.8 927.8 0 0 0 87.5 728.7L97.6 731.8A917.3 917.3 0 0 1 109.7 695.1ZM98.1 696.5A927.8 927.8 0 0 0 95.9 702.8L125.7 713.0A896.3 896.3 0 0 1 127.8 706.9ZM202.0 450.3A948.8 948.8 0 0 0 196.8 457.7L205.4 463.8A938.3 938.3 0 0 1 210.6 456.4ZM238.1 454.3A917.3 917.3 0 0 0 232.7 461.6L241.2 467.8A906.8 906.8 0 0 1 246.5 460.6ZM227.3 469.2A917.3 917.3 0 0 0 222.1 476.6L230.7 482.6A906.8 906.8 0 0 1 235.8 475.3ZM223.7 474.2A917.3 917.3 0 0 0 218.5 481.6L227.2 487.6A906.8 906.8 0 0 1 232.3 480.2ZM161.4 576.5A917.3 917.3 0 0 0 157.2 584.6L166.6 589.3A906.8 906.8 0 0 1 170.7 581.4ZM175.1 573.1A906.8 906.8 0 0 0 170.9 581.1L180.2 585.9A896.3 896.3 0 0 1 184.3 578.0Z" fill="#dda5c3"/>
<path d="M341.2 443.7A843.8 843.8 0 0 0 335.2 450.5L343.2 457.4A833.3 833.3 0 0 1 349.0 450.7ZM360.1 469.9A812.3 812.3 0 0 0 354.2 476.8L362.3 483.5A801.8 801.8 0 0 1 368.0 476.8ZM356.4 474.2A812.3 812.3 0 0 0 350.5 481.2L358.6 487.9A801.8 801.8 0 0 1 364.4 481.0ZM322.7 516.4A812.3 812.3 0 0 0 317.4 523.7L325.8 529.9A801.8 801.8 0 0 1 331.1 522.7ZM183.9 578.9A896.3 896.3 0 0 0 179.7 586.9L189.0 591.7A885.8 885.8 0 0 1 193.2 583.8ZM230.5 603.1A843.8 843.8 0 0 0 226.2 611.1L235.5 616.0A833.3 833.3 0 0 1 239.7 608.1ZM227.0 609.7A843.8 843.8 0 0 0 222.8 617.8L232.1 622.6A833.3 833.3 0 0 1 236.3 614.6ZM287.3 511.6A843.8 843.8 0 0 0 282.4 518.5L299.6 530.6A822.8 822.8 0 0 1 304.4 523.8ZM300.0 548.6A812.3 812.3 0 0 0 276.6 585.5L285.6 590.9A801.8 801.8 0 0 1 308.7 554.5ZM271.8 593.7A812.3 812.3 0 0 0 258.7 617.1L268.0 622.0A801.8 801.8 0 0 1 280.9 598.9ZM167.4 611.3A896.3 896.3 0 0 0 132.6 693.3L162.2 704.2A864.8 864.8 0 0 1 195.8 625.0ZM206.4 627.1A854.3 854.3 0 0 0 172.3 707.0L182.2 710.7A843.8 843.8 0 0 1 215.9 631.7ZM224.1 638.7A833.3 833.3 0 0 0 191.3 716.4L230.8 730.8A791.3 791.3 0 0 1 261.9 657.0ZM127.1 708.9A896.3 896.3 0 0 0 124.4 717.0L154.2 727.0A864.8 864.8 0 0 1 156.9 719.2ZM120.8 727.9A896.3 896.3 0 0 0 116.0 743.3L146.1 752.4A864.8 864.8 0 0 1 150.8 737.5ZM186.5 730.0A833.3 833.3 0 0 0 183.7 738.2L223.5 751.4A791.3 791.3 0 0 1 226.2 743.7ZM180.8 747.1A833.3 833.3 0 0 0 175.9 762.7L216.2 774.8A791.3 791.3 0 0 1 220.8 760.0ZM160.2 709.8A864.8 864.8 0 0 0 157.2 718.4L167.1 721.8A854.3 854.3 0 0 1 170.0 713.4ZM167.3 721.3A854.3 854.3 0 0 0 164.3 729.9L174.3 733.2A843.8 843.8 0 0 1 177.2 724.7ZM154.5 726.1A864.8 864.8 0 0 0 151.7 734.7L161.7 738.0A854.3 854.3 0 0 1 164.5 729.5ZM161.1 739.6A854.3 854.3 0 0 0 158.4 748.3L168.4 751.4A843.8 843.8 0 0 1 171.1 742.8ZM145.1 755.9A864.8 864.8 0 0 0 142.6 764.6L152.7 767.5A854.3 854.3 0 0 1 155.2 758.9Z" fill="#2d2a78"/>
<path d="M266.2 648.3A791.3 791.3 0 0 0 263.2 654.4L319.8 682.0A728.3 728.3 0 0 1 322.6 676.4ZM310.7 653.5A749.3 749.3 0 0 0 306.5 661.6L315.9 666.3A738.8 738.8 0 0 1 320.0 658.4ZM332.7 679.6A717.8 717.8 0 0 0 328.7 687.7L338.2 692.3A707.3 707.3 0 0 1 342.1 684.3ZM353.8 640.6A717.8 717.8 0 0 0 342.3 661.2L351.5 666.2A707.3 707.3 0 0 1 362.9 645.9ZM379.3 600.0A717.8 717.8 0 0 0 358.1 633.4L367.1 638.8A707.3 707.3 0 0 1 388.0 605.9ZM259.0 745.3A759.8 759.8 0 0 0 256.0 753.9L265.9 757.3A749.3 749.3 0 0 1 268.9 748.9ZM254.3 758.8A759.8 759.8 0 0 0 251.5 767.4L261.5 770.6A749.3 749.3 0 0 1 264.3 762.1ZM306.9 767.2A707.3 707.3 0 0 0 304.0 775.8L313.9 779.1A696.8 696.8 0 0 1 316.8 770.7ZM401.8 455.3A791.3 791.3 0 0 0 401.1 456.0L431.5 485.0A749.3 749.3 0 0 1 432.1 484.3ZM390.8 467.0A791.3 791.3 0 0 0 387.1 471.1L449.4 527.4A707.3 707.3 0 0 1 452.8 523.7ZM444.1 487.0A738.8 738.8 0 0 0 437.9 493.5L445.5 500.7A728.3 728.3 0 0 1 451.6 494.3ZM447.6 498.5A728.3 728.3 0 0 0 441.4 505.1L449.1 512.3A717.8 717.8 0 0 1 455.2 505.8ZM458.5 502.3A717.8 717.8 0 0 0 452.2 508.9L459.9 516.1A707.3 707.3 0 0 1 466.0 509.6ZM363.0 499.1A791.3 791.3 0 0 0 339.9 528.5L382.0 559.9A738.8 738.8 0 0 1 403.5 532.4Z" fill="#c56f9f"/>
<path d="M384.5 539.4A749.3 749.3 0 0 0 379.6 545.7L387.9 552.1A738.8 738.8 0 0 1 392.7 545.9Z" fill="#f4d4e0"/>
<path d="M405.0 530.6A738.8 738.8 0 0 0 384.8 556.1L410.0 575.1A707.3 707.3 0 0 1 429.3 550.7ZM334.5 535.9A791.3 791.3 0 0 0 330.8 541.0L364.9 565.5A749.3 749.3 0 0 1 368.4 560.6ZM365.1 565.2A749.3 749.3 0 0 0 359.9 572.6L368.5 578.6A738.8 738.8 0 0 1 373.7 571.3ZM377.3 566.3A738.8 738.8 0 0 0 373.1 572.1L398.7 590.4A707.3 707.3 0 0 1 402.8 584.8ZM392.4 581.2A717.8 717.8 0 0 0 387.1 588.6L395.7 594.7A707.3 707.3 0 0 1 400.9 587.4ZM320.6 555.6A791.3 791.3 0 0 0 295.3 595.2L349.4 627.5A728.3 728.3 0 0 1 372.6 591.1ZM381.6 596.6A717.8 717.8 0 0 0 357.8 633.8L366.8 639.2A707.3 707.3 0 0 1 390.3 602.5ZM289.8 604.5A791.3 791.3 0 0 0 277.6 626.3L333.1 656.2A728.3 728.3 0 0 1 344.3 636.1ZM353.3 641.4A717.8 717.8 0 0 0 341.8 662.1L351.0 667.1A707.3 707.3 0 0 1 362.4 646.7ZM266.0 648.7A791.3 791.3 0 0 0 263.1 654.5L319.8 682.1A728.3 728.3 0 0 1 322.4 676.8ZM310.5 653.8A749.3 749.3 0 0 0 306.4 661.9L315.7 666.7A738.8 738.8 0 0 1 319.8 658.7ZM332.4 680.3A717.8 717.8 0 0 0 328.4 688.4L337.8 693.0A707.3 707.3 0 0 1 341.8 685.0Z" fill="#c56f9f"/>
<path d="M405.8 421.3A812.3 812.3 0 0 0 399.4 427.7L406.8 435.1A801.8 801.8 0 0 1 413.1 428.8ZM325.2 430.0A864.8 864.8 0 0 0 319.3 436.9L327.2 443.7A854.3 854.3 0 0 1 333.1 437.0ZM341.3 443.5A843.8 843.8 0 0 0 335.4 450.3L343.3 457.2A833.3 833.3 0 0 1 349.2 450.4ZM360.1 469.9A812.3 812.3 0 0 0 354.2 476.8L362.2 483.6A801.8 801.8 0 0 1 368.0 476.8ZM357.0 473.5A812.3 812.3 0 0 0 351.2 480.4L359.2 487.2A801.8 801.8 0 0 1 365.0 480.3ZM322.5 516.7A812.3 812.3 0 0 0 317.2 524.0L325.7 530.2A801.8 801.8 0 0 1 331.0 523.0ZM287.3 511.6A843.8 843.8 0 0 0 282.6 518.2L299.9 530.2A822.8 822.8 0 0 1 304.4 523.8ZM299.8 548.8A812.3 812.3 0 0 0 277.7 583.7L286.7 589.1A801.8 801.8 0 0 1 308.5 554.7ZM271.7 593.9A812.3 812.3 0 0 0 258.5 617.4L267.8 622.4A801.8 801.8 0 0 1 280.8 599.1Z" fill="#2d2a78"/>
<path d="M518.5 561.2A633.8 633.8 0 0 0 511.1 568.9L518.8 576.0A623.3 623.3 0 0 1 526.0 568.5ZM506.5 573.9A633.8 633.8 0 0 0 501.8 579.1L509.6 586.1A623.3 623.3 0 0 1 514.3 580.9ZM533.2 576.1A612.8 612.8 0 0 0 527.0 582.7L557.6 611.4A570.8 570.8 0 0 1 563.5 605.2ZM521.8 588.3A612.8 612.8 0 0 0 518.7 591.7L557.7 626.8A560.3 560.3 0 0 1 560.6 623.7ZM445.4 564.2A686.3 686.3 0 0 0 424.2 591.2L457.8 616.3A644.3 644.3 0 0 1 477.7 591.0ZM419.4 597.7A686.3 686.3 0 0 0 416.2 602.1L450.3 626.6A644.3 644.3 0 0 1 453.3 622.4ZM487.3 595.9A633.8 633.8 0 0 0 465.6 623.5L474.0 629.7A623.3 623.3 0 0 1 495.3 602.6ZM407.2 614.9A686.3 686.3 0 0 0 385.8 648.4L421.8 670.0A644.3 644.3 0 0 1 441.9 638.6ZM461.8 628.6A633.8 633.8 0 0 0 430.3 676.3L439.3 681.7A623.3 623.3 0 0 1 470.3 634.8ZM501.5 611.6A612.8 612.8 0 0 0 483.6 634.4L525.7 665.9A560.3 560.3 0 0 1 542.0 645.0ZM479.1 640.5A612.8 612.8 0 0 0 476.4 644.2L519.1 674.8A560.3 560.3 0 0 1 521.5 671.4ZM468.7 655.2A612.8 612.8 0 0 0 447.0 689.3L456.0 694.7A602.3 602.3 0 0 1 477.4 661.1ZM493.8 674.4A581.3 581.3 0 0 0 473.6 706.2L491.7 716.8A560.3 560.3 0 0 1 511.1 686.2ZM471.3 710.2A581.3 581.3 0 0 0 462.3 726.3L480.8 736.2A560.3 560.3 0 0 1 489.4 720.7ZM380.3 657.7A686.3 686.3 0 0 0 368.2 679.6L405.2 699.3A644.3 644.3 0 0 1 416.7 678.8ZM427.3 681.4A633.8 633.8 0 0 0 416.0 701.5L425.3 706.5A623.3 623.3 0 0 1 436.3 686.7ZM445.0 692.7A612.8 612.8 0 0 0 433.0 714.3L442.2 719.2A602.3 602.3 0 0 1 454.0 698.0ZM360.0 695.5A686.3 686.3 0 0 0 357.6 700.4L395.3 718.8A644.3 644.3 0 0 1 397.6 714.3ZM408.1 716.8A633.8 633.8 0 0 0 404.0 724.9L413.5 729.5A623.3 623.3 0 0 1 417.4 721.5ZM427.2 725.5A612.8 612.8 0 0 0 423.2 733.6L432.6 738.2A602.3 602.3 0 0 1 436.6 730.2Z" fill="#64b774"/>
<path d="M549.5 636.1A560.3 560.3 0 0 0 545.5 640.8L553.6 647.6A549.8 549.8 0 0 1 557.5 642.9ZM525.8 665.6A560.3 560.3 0 0 0 522.1 670.6L530.6 676.8A549.8 549.8 0 0 1 534.2 671.9ZM516.0 679.2A560.3 560.3 0 0 0 512.5 684.3L521.1 690.2A549.8 549.8 0 0 1 524.6 685.2ZM550.6 685.1A528.8 528.8 0 0 0 546.9 690.1L555.4 696.3A518.3 518.3 0 0 1 559.0 691.4ZM542.2 696.6A528.8 528.8 0 0 0 538.7 701.7L547.3 707.7A518.3 518.3 0 0 1 550.8 702.7ZM512.0 723.8A539.3 539.3 0 0 0 508.9 729.1L517.9 734.4A528.8 528.8 0 0 1 521.0 729.2Z" fill="#ece04c"/>
<path d="M55.0 766.7A948.8 948.8 0 0 0 53.4 773.1L73.8 778.2A927.8 927.8 0 0 1 75.4 771.9ZM85.3 775.6A917.3 917.3 0 0 0 83.9 781.1L104.3 786.1A896.3 896.3 0 0 1 105.6 780.8ZM83.6 782.0A917.3 917.3 0 0 0 81.9 789.3L92.1 791.7A906.8 906.8 0 0 1 93.8 784.5ZM47.6 798.1A948.8 948.8 0 0 0 45.9 805.6L97.3 816.5A896.3 896.3 0 0 1 98.8 809.4ZM73.9 893.6A906.8 906.8 0 0 0 73.3 899.2L83.7 900.4A896.3 896.3 0 0 1 84.4 894.8ZM61.6 909.6A917.3 917.3 0 0 0 61.1 915.2L71.5 916.2A906.8 906.8 0 0 1 72.1 910.7ZM71.2 920.0A906.8 906.8 0 0 0 70.8 924.7L81.2 925.6A896.3 896.3 0 0 1 81.6 920.9ZM60.1 926.5A917.3 917.3 0 0 0 59.6 932.2L70.1 933.0A906.8 906.8 0 0 1 70.5 927.4ZM28.0 933.2A948.8 948.8 0 0 0 27.5 939.7L38.0 940.4A938.3 938.3 0 0 1 38.4 933.9ZM49.0 933.7A927.8 927.8 0 0 0 48.6 939.4L69.5 940.8A906.8 906.8 0 0 1 69.9 935.2ZM46.6 1012.1A927.8 927.8 0 0 0 46.7 1018.7L57.2 1018.5A917.3 917.3 0 0 1 57.1 1012.0ZM57.3 1023.4A917.3 917.3 0 0 0 57.4 1029.0L67.9 1028.7A906.8 906.8 0 0 1 67.8 1023.1ZM68.5 1044.1A906.8 906.8 0 0 0 68.8 1050.7L79.3 1050.1A896.3 896.3 0 0 1 79.0 1043.6ZM66.4 810.6A927.8 927.8 0 0 0 62.7 828.6L73.1 830.6A917.3 917.3 0 0 1 76.6 812.8ZM54.0 883.4A927.8 927.8 0 0 0 51.7 903.8L62.1 905.0A917.3 917.3 0 0 1 64.5 884.8Z" fill="#dda5c3"/>
<path d="M161.9 737.2A854.3 854.3 0 0 0 156.5 754.3L166.6 757.4A843.8 843.8 0 0 1 171.9 740.4ZM106.2 778.4A896.3 896.3 0 0 0 103.4 789.5L134.0 796.9A864.8 864.8 0 0 1 136.7 786.3ZM146.5 790.3A854.3 854.3 0 0 0 144.7 797.6L154.9 800.1A843.8 843.8 0 0 1 156.7 792.9ZM167.7 792.1A833.3 833.3 0 0 0 164.3 806.0L205.1 815.9A791.3 791.3 0 0 1 208.4 802.6ZM98.5 810.7A896.3 896.3 0 0 0 96.2 821.9L127.0 828.2A864.8 864.8 0 0 1 129.3 817.4ZM139.2 821.4A854.3 854.3 0 0 0 137.6 828.7L147.9 830.9A843.8 843.8 0 0 1 149.5 823.6ZM147.7 831.8A843.8 843.8 0 0 0 146.5 838.2L156.8 840.2A833.3 833.3 0 0 1 158.0 833.9ZM160.4 822.7A833.3 833.3 0 0 0 158.0 833.9L199.2 842.4A791.3 791.3 0 0 1 201.4 831.7ZM168.5 834.9A822.8 822.8 0 0 0 166.8 843.3L197.8 849.4A791.3 791.3 0 0 1 199.4 841.3ZM177.1 845.6A812.3 812.3 0 0 0 175.9 852.1L186.2 854.0A801.8 801.8 0 0 1 187.4 847.6ZM84.6 893.3A896.3 896.3 0 0 0 83.5 902.7L114.8 906.2A864.8 864.8 0 0 1 115.8 897.1ZM126.1 899.3A854.3 854.3 0 0 0 125.3 906.8L135.7 907.9A843.8 843.8 0 0 1 136.6 900.5ZM137.5 892.7A843.8 843.8 0 0 0 136.6 900.2L147.0 901.4A833.3 833.3 0 0 1 148.0 894.1ZM157.6 901.8A822.8 822.8 0 0 0 156.5 911.3L187.8 914.7A791.3 791.3 0 0 1 188.8 905.6ZM81.8 919.1A896.3 896.3 0 0 0 81.1 926.6L91.6 927.5A885.8 885.8 0 0 1 92.3 920.1ZM132.8 939.1A843.8 843.8 0 0 0 132.2 947.7L184.6 951.1A791.3 791.3 0 0 1 185.2 942.9ZM79.0 1044.1A896.3 896.3 0 0 0 79.4 1051.6L89.9 1051.0A885.8 885.8 0 0 1 89.5 1043.6ZM166.9 912.4A812.3 812.3 0 0 0 165.6 925.5L176.0 926.4A801.8 801.8 0 0 1 177.3 913.6ZM110.8 953.8A864.8 864.8 0 0 0 109.7 981.1L120.2 981.3A854.3 854.3 0 0 1 121.3 954.4ZM109.6 986.7A864.8 864.8 0 0 0 109.5 1008.4L120.0 1008.3A854.3 854.3 0 0 1 120.1 986.9ZM131.7 955.7A843.8 843.8 0 0 0 130.7 981.1L141.2 981.3A833.3 833.3 0 0 1 142.2 956.3ZM130.6 986.7A843.8 843.8 0 0 0 130.5 1008.4L141.0 1008.3A833.3 833.3 0 0 1 141.1 986.9Z" fill="#2d2a78"/>
<path d="M258.5 746.8A759.8 759.8 0 0 0 256.6 752.1L266.5 755.6A749.3 749.3 0 0 1 268.4 750.3ZM253.8 760.3A759.8 759.8 0 0 0 252.0 765.6L262.0 768.9A749.3 749.3 0 0 1 263.8 763.6ZM247.2 780.8A759.8 759.8 0 0 0 245.6 786.2L255.7 789.2A749.3 749.3 0 0 1 257.3 783.9ZM267.5 786.4A738.8 738.8 0 0 0 265.9 791.8L276.0 794.7A728.3 728.3 0 0 1 277.6 789.4ZM287.9 791.5A717.8 717.8 0 0 0 285.7 798.7L305.9 804.7A696.8 696.8 0 0 1 308.0 797.6ZM307.8 764.6A707.3 707.3 0 0 0 306.0 770.0L315.9 773.4A696.8 696.8 0 0 1 317.7 768.2ZM303.8 776.2A707.3 707.3 0 0 0 302.1 781.5L312.0 784.8A696.8 696.8 0 0 1 313.8 779.5ZM210.1 796.3A791.3 791.3 0 0 0 208.6 801.9L259.4 815.1A738.8 738.8 0 0 1 260.8 809.9ZM206.0 811.9A791.3 791.3 0 0 0 202.1 828.7L243.1 837.9A749.3 749.3 0 0 1 246.8 822.0ZM195.4 861.8A791.3 791.3 0 0 0 189.6 899.8L231.2 905.2A749.3 749.3 0 0 1 236.8 869.2ZM236.4 871.0A749.3 749.3 0 0 0 235.5 876.6L245.8 878.4A738.8 738.8 0 0 1 246.8 872.9ZM231.1 905.8A749.3 749.3 0 0 0 230.4 911.4L240.9 912.7A738.8 738.8 0 0 1 241.5 907.2ZM239.2 927.5A738.8 738.8 0 0 0 238.7 933.1L249.1 934.1A728.3 728.3 0 0 1 249.7 928.5ZM249.1 934.0A728.3 728.3 0 0 0 248.6 940.6L259.0 941.5A717.8 717.8 0 0 1 259.6 935.0ZM225.1 1010.3A749.3 749.3 0 0 0 225.2 1020.6L235.7 1020.3A738.8 738.8 0 0 1 235.6 1010.1ZM235.5 1009.3A738.8 738.8 0 0 0 235.6 1014.9L246.1 1014.8A728.3 728.3 0 0 1 246.0 1009.2ZM237.1 1049.8A738.8 738.8 0 0 0 237.5 1056.3L248.0 1055.6A728.3 728.3 0 0 1 247.6 1049.1ZM255.9 881.6A728.3 728.3 0 0 0 252.3 905.6L262.8 906.9A717.8 717.8 0 0 1 266.3 883.4Z" fill="#c56f9f"/>
<path d="M328.3 769.7A686.3 686.3 0 0 0 325.5 777.7L345.4 784.6A665.3 665.3 0 0 1 348.1 776.8ZM324.1 781.9A686.3 686.3 0 0 0 321.4 790.0L341.4 796.4A665.3 665.3 0 0 1 344.0 788.6ZM353.6 793.0A654.8 654.8 0 0 0 351.8 798.4L361.8 801.6A644.3 644.3 0 0 1 363.5 796.4ZM318.3 799.9A686.3 686.3 0 0 0 315.8 808.0L336.0 814.0A665.3 665.3 0 0 1 338.4 806.0ZM348.3 809.5A654.8 654.8 0 0 0 346.7 814.9L356.7 817.9A644.3 644.3 0 0 1 358.3 812.6ZM311.7 822.8A686.3 686.3 0 0 0 308.8 833.9L349.5 844.2A644.3 644.3 0 0 1 352.2 833.7ZM308.2 836.3A686.3 686.3 0 0 0 304.2 853.1L345.2 862.2A644.3 644.3 0 0 1 349.0 846.4ZM298.9 879.7A686.3 686.3 0 0 0 293.6 913.9L335.3 919.3A644.3 644.3 0 0 1 340.2 887.2ZM454.3 741.6A581.3 581.3 0 0 0 452.2 745.9L471.1 755.1A560.3 560.3 0 0 1 473.1 751.0ZM327.8 771.0A686.3 686.3 0 0 0 325.6 777.3L345.5 784.2A665.3 665.3 0 0 1 347.6 778.1ZM333.4 787.1A675.8 675.8 0 0 0 331.9 791.5L341.9 794.8A665.3 665.3 0 0 1 343.4 790.4ZM327.8 804.5A675.8 675.8 0 0 0 326.5 809.0L336.5 812.0A665.3 665.3 0 0 1 337.9 807.6ZM331.2 831.0A665.3 665.3 0 0 0 329.6 837.4L349.9 842.6A644.3 644.3 0 0 1 351.5 836.4ZM328.1 843.3A665.3 665.3 0 0 0 325.5 854.4L345.9 859.1A644.3 644.3 0 0 1 348.5 848.3ZM357.2 782.6A654.8 654.8 0 0 0 355.6 787.0L365.5 790.5A644.3 644.3 0 0 1 367.1 786.1ZM353.3 793.9A654.8 654.8 0 0 0 351.8 798.3L361.8 801.6A644.3 644.3 0 0 1 363.3 797.2ZM348.0 810.4A654.8 654.8 0 0 0 346.6 815.0L356.7 817.9A644.3 644.3 0 0 1 358.0 813.5ZM377.4 788.4A633.8 633.8 0 0 0 375.5 793.8L395.3 800.7A612.8 612.8 0 0 1 397.2 795.5ZM373.8 798.9A633.8 633.8 0 0 0 372.0 804.3L391.9 810.8A612.8 612.8 0 0 1 393.7 805.6ZM368.3 815.9A633.8 633.8 0 0 0 366.6 821.4L386.8 827.3A612.8 612.8 0 0 1 388.4 822.1ZM407.1 798.9A602.3 602.3 0 0 0 405.5 803.4L445.2 817.2A560.3 560.3 0 0 1 446.7 813.0ZM403.5 809.3A602.3 602.3 0 0 0 401.7 814.8L441.6 827.8A560.3 560.3 0 0 1 443.3 822.7ZM398.4 825.3A602.3 602.3 0 0 0 396.7 830.9L437.0 842.8A560.3 560.3 0 0 1 438.5 837.6ZM381.9 844.6A612.8 612.8 0 0 0 380.7 849.1L390.9 851.7A602.3 602.3 0 0 1 392.1 847.3ZM379.3 855.0A612.8 612.8 0 0 0 376.7 866.0L386.9 868.3A602.3 602.3 0 0 1 389.5 857.5ZM412.4 852.7A581.3 581.3 0 0 0 411.2 857.3L431.5 862.5A560.3 560.3 0 0 1 432.7 858.1ZM410.1 861.4A581.3 581.3 0 0 0 407.1 874.4L427.6 879.0A560.3 560.3 0 0 1 430.5 866.5ZM329.6 887.0A654.8 654.8 0 0 0 325.0 916.8L335.4 918.2A644.3 644.3 0 0 1 339.9 888.8ZM370.9 894.8A612.8 612.8 0 0 0 366.7 921.8L377.1 923.2A602.3 602.3 0 0 1 381.2 896.6ZM402.0 899.4A581.3 581.3 0 0 0 397.8 926.7L418.7 929.4A560.3 560.3 0 0 1 422.7 903.1Z" fill="#64b774"/>
<path d="M566.7 698.7A507.8 507.8 0 0 0 564.1 702.2L623.4 745.5A434.3 434.3 0 0 1 625.7 742.5ZM514.9 680.7A560.3 560.3 0 0 0 512.2 684.6L520.9 690.5A549.8 549.8 0 0 1 523.5 686.7ZM550.1 685.8A528.8 528.8 0 0 0 547.3 689.6L555.8 695.8A518.3 518.3 0 0 1 558.5 692.0ZM541.2 698.1A528.8 528.8 0 0 0 538.5 702.0L547.2 707.9A518.3 518.3 0 0 1 549.8 704.1ZM558.1 710.6A507.8 507.8 0 0 0 555.4 714.5L564.1 720.4A497.3 497.3 0 0 1 566.7 716.6ZM502.1 719.8A549.8 549.8 0 0 0 499.2 724.8L517.4 735.3A528.8 528.8 0 0 1 520.2 730.6ZM477.5 742.4A560.3 560.3 0 0 0 475.3 746.6L484.7 751.4A549.8 549.8 0 0 1 486.8 747.3ZM506.5 754.9A528.8 528.8 0 0 0 504.8 758.1L579.4 796.8A444.8 444.8 0 0 1 580.8 794.1ZM536.1 766.4A497.3 497.3 0 0 0 533.5 771.3L580.0 795.6A444.8 444.8 0 0 1 582.3 791.3ZM592.3 773.7A444.8 444.8 0 0 0 590.1 777.3L608.3 787.9A423.8 423.8 0 0 1 610.3 784.4ZM448.0 809.2A560.3 560.3 0 0 0 446.4 813.6L456.3 817.2A549.8 549.8 0 0 1 457.9 812.8ZM477.8 819.6A528.8 528.8 0 0 0 476.3 823.6L515.9 837.8A486.8 486.8 0 0 1 517.2 834.1ZM527.3 837.1A476.3 476.3 0 0 0 525.8 841.1L555.5 851.7A444.8 444.8 0 0 1 556.8 848.0ZM435.2 848.9A560.3 560.3 0 0 0 432.9 857.0L443.1 859.8A549.8 549.8 0 0 1 445.3 851.7ZM466.2 855.1A528.8 528.8 0 0 0 462.8 867.3L503.4 878.0A486.8 486.8 0 0 1 506.5 866.8ZM516.5 870.1A476.3 476.3 0 0 0 513.7 880.3L544.1 888.4A444.8 444.8 0 0 1 546.8 878.8ZM427.7 878.6A560.3 560.3 0 0 0 426.8 882.6L437.0 884.9A549.8 549.8 0 0 1 437.9 880.9ZM458.5 885.0A528.8 528.8 0 0 0 457.5 889.7L498.5 898.6A486.8 486.8 0 0 1 499.5 894.2ZM509.9 895.6A476.3 476.3 0 0 0 509.0 899.7L539.8 906.5A444.8 444.8 0 0 1 540.6 902.6ZM423.3 899.7A560.3 560.3 0 0 0 422.7 903.4L433.0 905.2A549.8 549.8 0 0 1 433.7 901.6ZM454.7 903.4A528.8 528.8 0 0 0 454.0 907.2L485.0 912.8A497.3 497.3 0 0 1 485.6 909.3ZM486.7 903.5A497.3 497.3 0 0 0 484.6 915.1L536.3 924.3A444.8 444.8 0 0 1 538.2 913.9ZM460.3 935.2A518.3 518.3 0 0 0 459.7 939.3L470.2 940.5A507.8 507.8 0 0 1 470.7 936.5ZM458.6 949.3A518.3 518.3 0 0 0 458.2 953.5L468.7 954.5A507.8 507.8 0 0 1 469.1 950.4ZM480.1 946.0A497.3 497.3 0 0 0 478.6 961.7L530.9 965.9A444.8 444.8 0 0 1 532.3 951.9ZM415.8 956.0A560.3 560.3 0 0 0 415.5 960.1L426.0 960.9A549.8 549.8 0 0 1 426.3 956.9ZM415.1 966.3A560.3 560.3 0 0 0 414.9 969.7L425.4 970.2A549.8 549.8 0 0 1 425.6 966.9ZM447.3 957.9A528.8 528.8 0 0 0 447.0 962.0L457.4 962.8A518.3 518.3 0 0 1 457.8 958.7ZM468.3 959.3A507.8 507.8 0 0 0 467.9 963.4L478.4 964.2A497.3 497.3 0 0 1 478.7 960.2ZM467.5 969.0A507.8 507.8 0 0 0 467.3 972.8L488.3 974.0A486.8 486.8 0 0 1 488.5 970.4ZM498.9 971.5A476.3 476.3 0 0 0 498.7 975.4L530.2 977.1A444.8 444.8 0 0 1 530.4 973.5ZM414.0 1007.5A560.3 560.3 0 0 0 414.2 1017.0L424.7 1016.7A549.8 549.8 0 0 1 424.5 1007.4ZM445.5 1007.6A528.8 528.8 0 0 0 445.7 1017.0L456.2 1016.7A518.3 518.3 0 0 1 456.0 1007.4ZM466.5 1007.7A507.8 507.8 0 0 0 466.7 1016.1L477.2 1015.8A497.3 497.3 0 0 1 477.0 1007.5Z" fill="#ece04c"/>
<path d="M656.4 721.2A423.8 423.8 0 0 0 653.3 724.8L669.2 738.5A402.8 402.8 0 0 1 672.2 735.1ZM636.4 763.6A413.3 413.3 0 0 0 634.0 767.0L642.6 772.9A402.8 402.8 0 0 1 644.9 769.6ZM646.4 767.6A402.8 402.8 0 0 0 644.0 771.0L652.6 777.0A392.3 392.3 0 0 1 654.9 773.7ZM597.8 806.8A423.8 423.8 0 0 0 595.8 810.8L652.1 839.1A360.8 360.8 0 0 1 653.8 835.8ZM628.4 816.5A392.3 392.3 0 0 0 626.6 819.8L635.9 824.7A381.8 381.8 0 0 1 637.6 821.4ZM646.9 826.4A371.3 371.3 0 0 0 642.1 835.7L651.5 840.4A360.8 360.8 0 0 1 656.1 831.4ZM575.2 859.0A423.8 423.8 0 0 0 573.6 863.4L583.5 866.9A413.3 413.3 0 0 1 585.1 862.5ZM572.5 866.6A423.8 423.8 0 0 0 571.2 870.5L581.2 873.8A413.3 413.3 0 0 1 582.5 869.9ZM567.7 881.9A423.8 423.8 0 0 0 566.7 885.5L576.8 888.4A413.3 413.3 0 0 1 577.8 884.9ZM588.1 887.2A402.8 402.8 0 0 0 586.9 891.3L627.3 902.8A360.8 360.8 0 0 1 628.3 899.1ZM638.6 901.6A350.3 350.3 0 0 0 637.5 905.2L647.6 908.1A339.8 339.8 0 0 1 648.6 904.6ZM572.0 906.9A413.3 413.3 0 0 0 571.1 910.6L581.4 912.9A402.8 402.8 0 0 1 582.2 909.3ZM559.3 915.7A423.8 423.8 0 0 0 558.5 919.7L568.8 921.8A413.3 413.3 0 0 1 569.6 917.8ZM568.7 922.0A413.3 413.3 0 0 0 568.0 925.7L578.3 927.6A402.8 402.8 0 0 1 579.0 924.0ZM590.1 922.0A392.3 392.3 0 0 0 589.4 925.7L599.7 927.8A381.8 381.8 0 0 1 600.4 924.1ZM610.8 925.9A371.3 371.3 0 0 0 610.0 929.6L620.3 931.6A360.8 360.8 0 0 1 621.1 928.0ZM564.5 948.1A413.3 413.3 0 0 0 563.2 959.4L573.6 960.4A402.8 402.8 0 0 1 574.9 949.4ZM606.1 953.4A371.3 371.3 0 0 0 605.7 956.7L616.1 958.0A360.8 360.8 0 0 1 616.5 954.7ZM626.9 956.2A350.3 350.3 0 0 0 626.5 959.6L636.9 960.8A339.8 339.8 0 0 1 637.4 957.5ZM562.2 970.5A413.3 413.3 0 0 0 561.9 974.7L572.3 975.4A402.8 402.8 0 0 1 572.6 971.3ZM625.6 968.6A350.3 350.3 0 0 0 625.2 972.7L635.6 973.6A339.8 339.8 0 0 1 636.0 969.5ZM572.1 980.2A402.8 402.8 0 0 0 571.7 987.7L582.2 988.1A392.3 392.3 0 0 1 582.6 980.7ZM603.5 982.0A371.3 371.3 0 0 0 603.2 989.6L613.7 989.9A360.8 360.8 0 0 1 614.0 982.6ZM550.7 989.4A423.8 423.8 0 0 0 550.6 992.3L634.6 994.1A339.8 339.8 0 0 1 634.6 991.8ZM571.5 995.3A402.8 402.8 0 0 0 571.5 1004.7L582.0 1004.7A392.3 392.3 0 0 1 582.0 995.4ZM603.1 995.3A371.3 371.3 0 0 0 603.0 1004.8L613.5 1004.7A360.8 360.8 0 0 1 613.6 995.4ZM550.7 1013.4A423.8 423.8 0 0 0 551.0 1021.1L571.9 1020.1A402.8 402.8 0 0 1 571.7 1012.8ZM582.2 1014.5A392.3 392.3 0 0 0 582.5 1021.2L603.5 1020.1A371.3 371.3 0 0 1 603.2 1013.8ZM613.7 1012.9A360.8 360.8 0 0 0 614.0 1020.5L635.0 1019.4A339.8 339.8 0 0 1 634.7 1012.2Z" fill="#1b9b6b"/>
<path d="M659.4 905.0A329.3 329.3 0 0 0 658.1 909.6L668.2 912.5A318.8 318.8 0 0 1 669.5 908.1ZM646.5 970.4A329.3 329.3 0 0 0 646.2 973.8L656.6 974.6A318.8 318.8 0 0 1 656.9 971.4ZM656.0 983.9A318.8 318.8 0 0 0 655.7 989.6L666.2 990.0A308.3 308.3 0 0 1 666.5 984.5ZM634.6 993.1A339.8 339.8 0 0 0 634.6 995.0L666.1 995.6A308.3 308.3 0 0 1 666.1 993.8ZM655.5 996.1A318.8 318.8 0 0 0 655.5 1002.8L666.0 1002.7A308.3 308.3 0 0 1 666.0 996.3ZM634.6 1011.3A339.8 339.8 0 0 0 634.8 1016.7L655.8 1015.8A318.8 318.8 0 0 1 655.6 1010.7ZM655.6 1010.6A318.8 318.8 0 0 0 655.9 1016.5L666.3 1016.0A308.3 308.3 0 0 1 666.1 1010.3Z" fill="#5ba6d6"/>
<path d="M549.5 636.1A560.3 560.3 0 0 0 544.5 642.0L552.6 648.8A549.8 549.8 0 0 1 557.5 643.0ZM550.4 685.3A528.8 528.8 0 0 0 547.2 689.7L555.7 695.9A518.3 518.3 0 0 1 558.9 691.6ZM541.7 697.4A528.8 528.8 0 0 0 538.6 701.8L547.3 707.8A518.3 518.3 0 0 1 550.3 703.4ZM558.7 709.7A507.8 507.8 0 0 0 555.6 714.2L564.3 720.1A497.3 497.3 0 0 1 567.3 715.8Z" fill="#ece04c"/>
<path d="M672.4 785.4A371.3 371.3 0 0 0 667.5 792.4L676.2 798.3A360.8 360.8 0 0 1 680.9 791.5ZM697.7 680.4A423.8 423.8 0 0 0 695.3 682.5L702.3 690.4A413.3 413.3 0 0 1 704.5 688.4ZM746.2 735.6A350.3 350.3 0 0 0 742.7 738.7L749.7 746.5A339.8 339.8 0 0 1 753.1 743.6ZM704.6 746.3A371.3 371.3 0 0 0 702.3 748.7L710.0 755.9A360.8 360.8 0 0 1 712.3 753.5ZM721.8 758.7A350.3 350.3 0 0 0 719.4 761.2L727.1 768.4A339.8 339.8 0 0 1 729.3 766.0ZM635.4 764.9A413.3 413.3 0 0 0 633.5 767.7L642.1 773.6A402.8 402.8 0 0 1 644.0 770.9ZM646.1 768.0A402.8 402.8 0 0 0 644.1 770.9L652.7 776.9A392.3 392.3 0 0 1 654.6 774.1ZM628.7 815.9A392.3 392.3 0 0 0 627.1 818.9L636.4 823.8A381.8 381.8 0 0 1 637.9 820.9Z" fill="#1b9b6b"/>
<path d="M78.9 1042.4A896.3 896.3 0 0 0 79.4 1051.5L89.9 1050.9A885.8 885.8 0 0 1 89.4 1041.9ZM113.1 1080.0A864.8 864.8 0 0 0 113.9 1089.0L124.4 1088.0A854.3 854.3 0 0 1 123.5 1079.1ZM134.1 1078.9A843.8 843.8 0 0 0 134.9 1087.9L145.4 1086.9A833.3 833.3 0 0 1 144.5 1077.9ZM114.6 1095.4A864.8 864.8 0 0 0 115.6 1104.4L126.1 1103.2A854.3 854.3 0 0 1 125.1 1094.3ZM135.6 1094.3A843.8 843.8 0 0 0 136.7 1103.3L147.1 1102.1A833.3 833.3 0 0 1 146.1 1093.2ZM118.7 1127.5A864.8 864.8 0 0 0 120.1 1136.5L130.5 1134.9A854.3 854.3 0 0 1 129.1 1126.0ZM139.6 1125.3A843.8 843.8 0 0 0 141.0 1134.3L151.4 1132.6A833.3 833.3 0 0 1 150.0 1123.8ZM141.9 1139.9A843.8 843.8 0 0 0 143.5 1148.8L153.8 1147.0A833.3 833.3 0 0 1 152.3 1138.2ZM122.7 1151.9A864.8 864.8 0 0 0 124.3 1160.9L134.6 1158.9A854.3 854.3 0 0 1 133.0 1150.1ZM125.7 1168.1A864.8 864.8 0 0 0 127.5 1177.0L137.8 1174.9A854.3 854.3 0 0 1 136.0 1166.1ZM132.5 1199.5A864.8 864.8 0 0 0 134.6 1208.3L144.8 1205.8A854.3 854.3 0 0 1 142.7 1197.1ZM152.7 1193.9A843.8 843.8 0 0 0 154.8 1202.7L165.0 1200.2A833.3 833.3 0 0 1 163.0 1191.5ZM185.2 1194.1A812.3 812.3 0 0 0 187.4 1202.9L197.5 1200.3A801.8 801.8 0 0 1 195.4 1191.6ZM136.0 1214.1A864.8 864.8 0 0 0 138.3 1222.9L148.5 1220.2A854.3 854.3 0 0 1 146.2 1211.5ZM156.5 1209.5A843.8 843.8 0 0 0 158.8 1218.3L169.0 1215.6A833.3 833.3 0 0 1 166.7 1207.0ZM109.9 1238.4A896.3 896.3 0 0 0 112.3 1247.1L122.4 1244.2A885.8 885.8 0 0 1 120.0 1235.6ZM164.7 1239.3A843.8 843.8 0 0 0 167.3 1248.0L177.3 1244.9A833.3 833.3 0 0 1 174.8 1236.3ZM169.5 1255.0A843.8 843.8 0 0 0 172.2 1263.6L182.2 1260.4A833.3 833.3 0 0 1 179.5 1251.8ZM219.0 1300.4A812.3 812.3 0 0 0 222.4 1308.8L232.1 1304.9A801.8 801.8 0 0 1 228.8 1296.6ZM190.0 1312.7A843.8 843.8 0 0 0 193.4 1321.1L203.1 1317.1A833.3 833.3 0 0 1 199.7 1308.8ZM237.0 1342.3A812.3 812.3 0 0 0 240.8 1350.5L250.3 1346.0A801.8 801.8 0 0 1 246.5 1337.9ZM195.9 1353.5A854.3 854.3 0 0 0 199.7 1361.7L209.2 1357.3A843.8 843.8 0 0 1 205.4 1349.1ZM225.8 1391.0A843.8 843.8 0 0 0 230.0 1399.0L239.3 1394.1A833.3 833.3 0 0 1 235.1 1386.2ZM260.9 1390.0A812.3 812.3 0 0 0 265.3 1398.0L274.5 1392.8A801.8 801.8 0 0 1 270.2 1385.0ZM207.2 1400.8A864.8 864.8 0 0 0 211.5 1408.9L220.7 1403.9A854.3 854.3 0 0 1 216.5 1396.0ZM244.4 1424.9A843.8 843.8 0 0 0 249.0 1432.7L258.0 1427.4A833.3 833.3 0 0 1 253.5 1419.6Z" fill="#2d2a78"/>
<path d="M68.5 1043.5A906.8 906.8 0 0 0 68.9 1052.5L79.4 1051.9A896.3 896.3 0 0 1 79.0 1043.0ZM58.9 1060.1A917.3 917.3 0 0 0 59.5 1069.2L70.0 1068.4A906.8 906.8 0 0 1 69.4 1059.4ZM63.6 1111.1A917.3 917.3 0 0 0 64.7 1120.1L75.1 1118.7A906.8 906.8 0 0 1 74.0 1109.8ZM99.8 1241.4A906.8 906.8 0 0 0 102.2 1250.1L112.3 1247.2A896.3 896.3 0 0 1 109.9 1238.6ZM86.9 1272.1A927.8 927.8 0 0 0 89.5 1280.8L99.6 1277.6A917.3 917.3 0 0 1 96.9 1269.1ZM115.8 1353.2A927.8 927.8 0 0 0 119.2 1361.6L128.9 1357.5A917.3 917.3 0 0 1 125.5 1349.2ZM119.7 1388.8A938.3 938.3 0 0 0 123.4 1397.0L133.0 1392.6A927.8 927.8 0 0 1 129.2 1384.5ZM148.5 1376.1A906.8 906.8 0 0 0 152.3 1384.3L161.8 1379.9A896.3 896.3 0 0 1 158.1 1371.8Z" fill="#dda5c3"/>
<path d="M237.0 1048.0A738.8 738.8 0 0 0 237.6 1057.0L248.1 1056.2A728.3 728.3 0 0 1 247.4 1047.3ZM230.3 1090.1A749.3 749.3 0 0 0 231.4 1099.1L241.8 1097.7A738.8 738.8 0 0 1 240.7 1088.9ZM235.1 1124.3A749.3 749.3 0 0 0 236.7 1133.3L247.0 1131.4A738.8 738.8 0 0 1 245.5 1122.6ZM239.6 1195.1A759.8 759.8 0 0 0 242.0 1203.9L252.1 1201.1A749.3 749.3 0 0 1 249.7 1192.5ZM280.0 1183.8A717.8 717.8 0 0 0 282.4 1192.5L292.5 1189.7A707.3 707.3 0 0 1 290.2 1181.1ZM256.1 1249.3A759.8 759.8 0 0 0 259.1 1257.9L269.0 1254.4A749.3 749.3 0 0 1 266.0 1245.9ZM275.6 1241.7A738.8 738.8 0 0 0 278.6 1250.3L288.5 1246.7A728.3 728.3 0 0 1 285.6 1238.3ZM295.6 1235.1A717.8 717.8 0 0 0 298.6 1243.6L308.5 1240.1A707.3 707.3 0 0 1 305.5 1231.7ZM280.7 1285.0A749.3 749.3 0 0 0 284.2 1293.4L293.9 1289.3A738.8 738.8 0 0 1 290.4 1281.1ZM328.5 1314.9A717.8 717.8 0 0 0 332.5 1323.0L341.9 1318.3A707.3 707.3 0 0 1 338.0 1310.3ZM359.8 1430.2A749.3 749.3 0 0 0 365.0 1437.6L373.6 1431.5A738.8 738.8 0 0 1 368.4 1424.2Z" fill="#c56f9f"/>
<path d="M361.2 1162.3A633.8 633.8 0 0 0 363.6 1171.0L373.7 1168.2A623.3 623.3 0 0 1 371.4 1159.6ZM367.5 1184.5A633.8 633.8 0 0 0 370.2 1193.2L380.2 1190.0A623.3 623.3 0 0 1 377.6 1181.5ZM354.8 1213.5A654.8 654.8 0 0 0 357.8 1222.1L367.7 1218.6A644.3 644.3 0 0 1 364.7 1210.1ZM399.2 1241.9A623.3 623.3 0 0 0 402.8 1250.2L412.4 1246.0A612.8 612.8 0 0 1 408.9 1237.8Z" fill="#64b774"/>
<path d="M201.9 1253.0A812.3 812.3 0 0 0 206.8 1267.6L216.8 1264.2A801.8 801.8 0 0 1 211.9 1249.7ZM159.5 1291.2A864.8 864.8 0 0 0 165.2 1306.8L175.0 1303.1A854.3 854.3 0 0 1 169.4 1287.7ZM209.8 1382.7A854.3 854.3 0 0 0 216.8 1396.5L226.1 1391.7A843.8 843.8 0 0 1 219.2 1378.0ZM276.4 1417.2A812.3 812.3 0 0 0 283.3 1428.6L292.3 1423.0A801.8 801.8 0 0 1 285.4 1411.8Z" fill="#2d2a78"/>
<path d="M59.6 1157.0A927.8 927.8 0 0 0 61.3 1166.8L71.7 1165.0A917.3 917.3 0 0 1 70.0 1155.3ZM102.8 1376.5A948.8 948.8 0 0 0 109.9 1392.7L119.5 1388.3A938.3 938.3 0 0 1 112.4 1372.4ZM163.0 1406.6A906.8 906.8 0 0 0 170.1 1420.4L179.4 1415.6A896.3 896.3 0 0 1 172.4 1402.0ZM134.4 1419.7A938.3 938.3 0 0 0 142.4 1435.5L151.7 1430.6A927.8 927.8 0 0 1 143.8 1415.1Z" fill="#dda5c3"/>
<path d="M260.0 1190.3A738.8 738.8 0 0 0 263.8 1204.2L273.9 1201.3A728.3 728.3 0 0 1 270.2 1187.6ZM261.7 1233.1A749.3 749.3 0 0 0 265.9 1245.7L275.8 1242.3A738.8 738.8 0 0 1 271.7 1229.8ZM302.4 1254.0A717.8 717.8 0 0 0 307.6 1267.4L317.3 1263.6A707.3 707.3 0 0 1 312.2 1250.3ZM282.8 1261.6A738.8 738.8 0 0 0 288.0 1275.1L297.8 1271.2A728.3 728.3 0 0 1 292.6 1257.9ZM263.2 1269.2A759.8 759.8 0 0 0 268.4 1282.7L278.2 1278.8A749.3 749.3 0 0 1 273.1 1265.5ZM330.3 1384.5A749.3 749.3 0 0 0 337.7 1396.7L346.6 1391.2A738.8 738.8 0 0 1 339.3 1379.1Z" fill="#c56f9f"/>
<path d="M341.2 1168.8A654.8 654.8 0 0 0 343.0 1175.2L353.1 1172.4A644.3 644.3 0 0 1 351.4 1166.1ZM371.3 1196.6A633.8 633.8 0 0 0 375.5 1209.2L385.4 1205.7A623.3 623.3 0 0 1 381.3 1193.3ZM391.3 1190.3A612.8 612.8 0 0 0 394.8 1200.8L404.7 1197.4A602.3 602.3 0 0 1 401.3 1187.1ZM341.5 1206.9A665.3 665.3 0 0 0 345.7 1219.5L355.6 1216.0A654.8 654.8 0 0 1 351.5 1203.6ZM361.0 1230.8A654.8 654.8 0 0 0 366.2 1244.2L375.9 1240.3A644.3 644.3 0 0 1 370.8 1227.1Z" fill="#64b774"/>
<path d="M164.0 1144.5A822.8 822.8 0 0 0 165.4 1152.3L196.4 1146.5A791.3 791.3 0 0 1 195.0 1139.1ZM167.0 1160.2A822.8 822.8 0 0 0 168.5 1167.9L199.4 1161.5A791.3 791.3 0 0 1 197.9 1154.1ZM187.0 1240.5A822.8 822.8 0 0 0 189.6 1249.1L219.7 1239.6A791.3 791.3 0 0 1 217.1 1231.4ZM207.8 1328.5A833.3 833.3 0 0 0 216.0 1347.1L254.3 1329.7A791.3 791.3 0 0 1 246.5 1312.0ZM157.8 1371.1A896.3 896.3 0 0 0 161.5 1379.2L190.1 1366.0A864.8 864.8 0 0 1 186.5 1358.1ZM171.1 1399.2A896.3 896.3 0 0 0 180.7 1418.2L208.6 1403.5A864.8 864.8 0 0 1 199.3 1385.3ZM274.4 1434.0A822.8 822.8 0 0 0 279.1 1441.6L305.7 1424.8A791.3 791.3 0 0 1 301.2 1417.5Z" fill="#2d2a78"/>
<path d="M50.6 1166.3A938.3 938.3 0 0 0 52.0 1173.9L72.6 1170.1A917.3 917.3 0 0 1 71.3 1162.6ZM53.4 1181.4A938.3 938.3 0 0 0 55.1 1190.1L75.7 1185.9A917.3 917.3 0 0 1 74.0 1177.3ZM122.5 1369.2A927.8 927.8 0 0 0 128.7 1383.4L147.9 1374.8A906.8 906.8 0 0 1 141.7 1360.8Z" fill="#dda5c3"/>
<path d="M220.7 1242.7A791.3 791.3 0 0 0 225.6 1257.6L255.4 1247.4A759.8 759.8 0 0 1 250.7 1233.1ZM332.4 1367.3A738.8 738.8 0 0 0 336.4 1374.1L363.6 1358.2A707.3 707.3 0 0 1 359.8 1351.7ZM293.6 1405.0A791.3 791.3 0 0 0 302.3 1419.4L329.1 1402.7A759.8 759.8 0 0 1 320.7 1388.9ZM365.4 1419.9A738.8 738.8 0 0 0 369.8 1426.3L387.0 1414.2A717.8 717.8 0 0 1 382.7 1408.0Z" fill="#c56f9f"/>
<path d="M310.8 1176.8A686.3 686.3 0 0 0 312.4 1182.8L332.6 1177.3A665.3 665.3 0 0 1 331.1 1171.4ZM397.7 1175.6A602.3 602.3 0 0 0 399.6 1181.6L419.6 1175.4A581.3 581.3 0 0 1 417.8 1169.6ZM412.3 1150.0A581.3 581.3 0 0 0 413.7 1155.3L423.8 1152.5A570.8 570.8 0 0 1 422.4 1147.3ZM325.7 1225.9A686.3 686.3 0 0 0 327.8 1231.8L347.6 1224.7A665.3 665.3 0 0 1 345.6 1219.0ZM331.8 1242.8A686.3 686.3 0 0 0 337.1 1256.3L356.6 1248.5A665.3 665.3 0 0 1 351.5 1235.4ZM403.5 1277.0A633.8 633.8 0 0 0 406.5 1283.0L425.3 1273.7A612.8 612.8 0 0 1 422.4 1267.9Z" fill="#64b774"/>
<path d="M562.2 970.5A413.3 413.3 0 0 0 561.9 974.3L572.4 975.0A402.8 402.8 0 0 1 572.6 971.3ZM625.5 968.9A350.3 350.3 0 0 0 625.2 972.6L635.7 973.5A339.8 339.8 0 0 1 636.0 969.8ZM572.1 980.2A402.8 402.8 0 0 0 571.7 989.7L582.2 990.0A392.3 392.3 0 0 1 582.5 980.8ZM603.6 981.2A371.3 371.3 0 0 0 603.2 990.6L613.7 990.9A360.8 360.8 0 0 1 614.0 981.7ZM550.6 990.3A423.8 423.8 0 0 0 550.6 992.8L634.6 994.5A339.8 339.8 0 0 1 634.6 992.6ZM571.5 995.4A402.8 402.8 0 0 0 571.5 1004.8L582.0 1004.7A392.3 392.3 0 0 1 582.0 995.5ZM603.1 995.4A371.3 371.3 0 0 0 603.0 1004.8L613.5 1004.7A360.8 360.8 0 0 1 613.5 995.5ZM550.7 1013.5A423.8 423.8 0 0 0 551.0 1021.1L571.9 1020.2A402.8 402.8 0 0 1 571.7 1012.9ZM582.2 1013.5A392.3 392.3 0 0 0 582.5 1021.2L603.5 1020.1A371.3 371.3 0 0 1 603.2 1012.9ZM613.7 1012.6A360.8 360.8 0 0 0 614.0 1020.2L635.0 1019.2A339.8 339.8 0 0 1 634.7 1011.9ZM551.2 1025.2A423.8 423.8 0 0 0 551.4 1028.6L572.3 1027.3A402.8 402.8 0 0 1 572.1 1024.0ZM582.7 1025.2A392.3 392.3 0 0 0 582.9 1028.7L603.9 1027.2A371.3 371.3 0 0 1 603.7 1023.9ZM614.2 1024.7A360.8 360.8 0 0 0 614.5 1028.1L635.4 1026.6A339.8 339.8 0 0 1 635.2 1023.3ZM551.6 1032.4A423.8 423.8 0 0 0 552.3 1041.0L573.3 1039.1A402.8 402.8 0 0 1 572.6 1030.9ZM583.1 1030.8A392.3 392.3 0 0 0 583.8 1039.4L604.7 1037.3A371.3 371.3 0 0 1 604.0 1029.2ZM614.5 1027.9A360.8 360.8 0 0 0 615.2 1036.5L636.1 1034.5A339.8 339.8 0 0 1 635.4 1026.4ZM552.6 1043.3A423.8 423.8 0 0 0 553.0 1047.1L573.8 1044.8A402.8 402.8 0 0 1 573.5 1041.2ZM584.0 1040.9A392.3 392.3 0 0 0 584.4 1044.7L605.3 1042.4A371.3 371.3 0 0 1 604.9 1038.8ZM615.3 1037.6A360.8 360.8 0 0 0 615.7 1041.4L636.6 1039.1A339.8 339.8 0 0 1 636.2 1035.5ZM553.4 1051.2A423.8 423.8 0 0 0 553.8 1053.9L585.0 1050.0A392.3 392.3 0 0 1 584.7 1047.5ZM584.9 1049.1A392.3 392.3 0 0 0 585.9 1056.7L606.7 1053.7A371.3 371.3 0 0 1 605.7 1046.5ZM616.5 1048.1A360.8 360.8 0 0 0 617.5 1055.4L638.3 1052.2A339.8 339.8 0 0 1 637.4 1045.4ZM553.9 1055.2A423.8 423.8 0 0 0 555.1 1063.7L575.9 1060.6A402.8 402.8 0 0 1 574.7 1052.5ZM575.8 1060.2A402.8 402.8 0 0 0 576.3 1063.2L607.4 1058.4A371.3 371.3 0 0 1 607.0 1055.6ZM608.1 1062.6A371.3 371.3 0 0 0 609.2 1069.1L619.5 1067.2A360.8 360.8 0 0 1 618.4 1060.9ZM628.5 1057.3A350.3 350.3 0 0 0 629.4 1062.9L639.8 1061.0A339.8 339.8 0 0 1 638.8 1055.6ZM555.4 1065.7A423.8 423.8 0 0 0 556.0 1069.5L576.7 1066.1A402.8 402.8 0 0 1 576.2 1062.5ZM609.7 1071.8A371.3 371.3 0 0 0 610.5 1075.6L620.7 1073.5A360.8 360.8 0 0 1 620.0 1069.9ZM631.1 1071.9A350.3 350.3 0 0 0 632.1 1076.6L642.4 1074.3A339.8 339.8 0 0 1 641.4 1069.8ZM632.3 1077.5A350.3 350.3 0 0 0 633.1 1080.8L643.3 1078.4A339.8 339.8 0 0 1 642.6 1075.2ZM557.0 1075.3A423.8 423.8 0 0 0 557.7 1079.0L568.0 1077.1A413.3 413.3 0 0 1 567.3 1073.5ZM590.0 1080.2A392.3 392.3 0 0 0 590.8 1083.9L611.3 1079.5A371.3 371.3 0 0 1 610.5 1076.0ZM558.3 1082.6A423.8 423.8 0 0 0 560.3 1091.9L570.5 1089.7A413.3 413.3 0 0 1 568.6 1080.6ZM569.6 1085.3A413.3 413.3 0 0 0 570.3 1088.6L580.5 1086.4A402.8 402.8 0 0 1 579.9 1083.1ZM591.6 1087.8A392.3 392.3 0 0 0 592.4 1091.1L612.8 1086.3A371.3 371.3 0 0 1 612.1 1083.2ZM612.9 1086.5A371.3 371.3 0 0 0 613.8 1090.2L624.0 1087.7A360.8 360.8 0 0 1 623.1 1084.1ZM560.6 1093.7A423.8 423.8 0 0 0 561.6 1097.8L582.0 1093.0A402.8 402.8 0 0 1 581.1 1089.1ZM582.2 1093.8A402.8 402.8 0 0 0 583.0 1097.1L593.2 1094.6A392.3 392.3 0 0 1 592.4 1091.4ZM614.4 1093.0A371.3 371.3 0 0 0 615.3 1096.3L625.5 1093.6A360.8 360.8 0 0 1 624.6 1090.4ZM584.0 1100.9A402.8 402.8 0 0 0 584.9 1104.6L595.1 1101.9A392.3 392.3 0 0 1 594.1 1098.3ZM628.0 1102.8A360.8 360.8 0 0 0 629.1 1106.4L639.1 1103.4A350.3 350.3 0 0 1 638.1 1099.9ZM639.7 1105.2A350.3 350.3 0 0 0 641.0 1109.1L650.9 1105.9A339.8 339.8 0 0 1 649.7 1102.1ZM588.0 1115.7A402.8 402.8 0 0 0 588.9 1118.7L619.1 1109.5A371.3 371.3 0 0 1 618.2 1106.8ZM619.9 1112.3A371.3 371.3 0 0 0 621.1 1115.9L631.1 1112.7A360.8 360.8 0 0 1 629.9 1109.2ZM578.8 1121.6A413.3 413.3 0 0 0 581.4 1129.7L591.4 1126.5A402.8 402.8 0 0 1 588.9 1118.6ZM648.4 1129.9A350.3 350.3 0 0 0 651.6 1137.8L661.3 1133.7A339.8 339.8 0 0 1 658.1 1126.0ZM629.0 1138.1A371.3 371.3 0 0 0 630.4 1141.6L640.2 1137.6A360.8 360.8 0 0 1 638.8 1134.2ZM631.8 1144.9A371.3 371.3 0 0 0 633.3 1148.4L642.9 1144.2A360.8 360.8 0 0 1 641.5 1140.8ZM657.4 1150.8A350.3 350.3 0 0 0 659.2 1154.6L668.7 1150.0A339.8 339.8 0 0 1 666.9 1146.3ZM590.2 1154.1A413.3 413.3 0 0 0 593.4 1162.0L603.1 1157.9A402.8 402.8 0 0 1 600.0 1150.2ZM638.9 1160.8A371.3 371.3 0 0 0 640.6 1164.2L650.0 1159.6A360.8 360.8 0 0 1 648.4 1156.3ZM592.7 1185.8A423.8 423.8 0 0 0 594.5 1189.5L603.9 1184.8A413.3 413.3 0 0 1 602.1 1181.2ZM600.5 1177.8A413.3 413.3 0 0 0 602.3 1181.6L611.7 1177.0A402.8 402.8 0 0 1 610.0 1173.3ZM616.4 1186.4A402.8 402.8 0 0 0 618.4 1190.1L627.7 1185.2A392.3 392.3 0 0 1 625.8 1181.6ZM652.6 1187.0A371.3 371.3 0 0 0 654.7 1190.6L663.8 1185.2A360.8 360.8 0 0 1 661.7 1181.7ZM616.6 1208.5A413.3 413.3 0 0 0 618.7 1212.1L627.7 1206.8A402.8 402.8 0 0 1 625.7 1203.3ZM686.1 1200.6A350.3 350.3 0 0 0 688.8 1204.5L697.4 1198.4A339.8 339.8 0 0 1 694.7 1194.6ZM692.7 1209.8A350.3 350.3 0 0 0 695.5 1213.6L703.9 1207.2A339.8 339.8 0 0 1 701.1 1203.6ZM695.7 1213.9A350.3 350.3 0 0 0 698.6 1217.6L706.9 1211.2A339.8 339.8 0 0 1 704.1 1207.5ZM673.6 1219.3A371.3 371.3 0 0 0 676.1 1222.7L684.5 1216.4A360.8 360.8 0 0 1 682.1 1213.2ZM639.8 1225.8A402.8 402.8 0 0 0 642.1 1229.3L650.7 1223.3A392.3 392.3 0 0 1 648.5 1220.0ZM650.4 1222.8A392.3 392.3 0 0 0 652.8 1226.3L661.4 1220.2A381.8 381.8 0 0 1 659.1 1216.9ZM624.0 1240.0A423.8 423.8 0 0 0 626.6 1243.8L635.2 1237.8A413.3 413.3 0 0 1 632.6 1234.1ZM639.9 1244.4A413.3 413.3 0 0 0 642.4 1247.8L650.8 1241.5A402.8 402.8 0 0 1 648.4 1238.3ZM727.1 1264.3A360.8 360.8 0 0 0 730.7 1267.6L737.8 1259.9A350.3 350.3 0 0 1 734.3 1256.7Z" fill="#1b9b6b"/>
<path d="M689.4 964.6A287.3 287.3 0 0 0 689.1 967.2L699.5 968.5A276.8 276.8 0 0 1 699.8 965.9ZM646.4 971.1A329.3 329.3 0 0 0 646.2 973.8L656.6 974.7A318.8 318.8 0 0 1 656.9 972.1ZM677.5 976.7A297.8 297.8 0 0 0 677.3 979.3L687.8 980.1A287.3 287.3 0 0 1 688.0 977.6ZM656.2 980.7A318.8 318.8 0 0 0 655.7 989.2L666.2 989.6A308.3 308.3 0 0 1 666.7 981.4ZM687.6 982.3A287.3 287.3 0 0 0 687.2 990.1L718.7 991.4A255.8 255.8 0 0 1 719.1 984.4ZM634.6 992.3A339.8 339.8 0 0 0 634.6 994.3L687.1 995.4A287.3 287.3 0 0 1 687.1 993.7ZM655.6 993.9A318.8 318.8 0 0 0 655.5 1002.5L666.0 1002.4A308.3 308.3 0 0 1 666.1 994.2ZM687.1 995.1A287.3 287.3 0 0 0 687.0 1003.0L718.5 1002.8A255.8 255.8 0 0 1 718.6 995.8ZM634.6 1010.6A339.8 339.8 0 0 0 634.9 1017.4L655.8 1016.4A318.8 318.8 0 0 1 655.6 1010.1ZM666.1 1008.6A308.3 308.3 0 0 0 666.4 1016.3L687.3 1015.3A287.3 287.3 0 0 1 687.1 1008.1ZM635.2 1023.8A339.8 339.8 0 0 0 635.5 1027.3L656.4 1025.7A318.8 318.8 0 0 1 656.2 1022.4ZM666.6 1021.4A308.3 308.3 0 0 0 667.1 1028.1L688.1 1026.3A287.3 287.3 0 0 1 687.6 1020.0ZM688.1 1026.9A287.3 287.3 0 0 0 688.3 1029.3L719.7 1026.2A255.8 255.8 0 0 1 719.5 1024.1ZM635.9 1032.3A339.8 339.8 0 0 0 636.1 1034.8L719.7 1026.6A255.8 255.8 0 0 1 719.6 1024.7ZM636.3 1036.7A339.8 339.8 0 0 0 636.6 1039.0L667.9 1035.5A308.3 308.3 0 0 1 667.7 1033.4ZM668.3 1039.3A308.3 308.3 0 0 0 669.2 1046.0L690.0 1042.9A287.3 287.3 0 0 1 689.2 1036.7ZM688.8 1033.8A287.3 287.3 0 0 0 689.1 1036.1L720.4 1032.3A255.8 255.8 0 0 1 720.1 1030.2ZM637.3 1045.2A339.8 339.8 0 0 0 638.1 1051.0L658.9 1047.9A318.8 318.8 0 0 1 658.2 1042.5ZM669.6 1048.8A308.3 308.3 0 0 0 670.2 1052.2L690.9 1048.8A287.3 287.3 0 0 1 690.4 1045.6ZM690.9 1048.6A287.3 287.3 0 0 0 692.1 1055.2L702.4 1053.2A276.8 276.8 0 0 1 701.2 1046.9ZM700.6 1043.0A276.8 276.8 0 0 0 701.0 1045.3L721.7 1042.0A255.8 255.8 0 0 1 721.4 1039.8ZM638.5 1053.6A339.8 339.8 0 0 0 638.9 1055.9L659.6 1052.6A318.8 318.8 0 0 1 659.3 1050.4ZM641.2 1068.9A339.8 339.8 0 0 0 641.8 1071.5L662.3 1067.2A318.8 318.8 0 0 1 661.8 1064.7ZM642.3 1073.8A339.8 339.8 0 0 0 642.9 1076.4L663.3 1071.7A318.8 318.8 0 0 1 662.8 1069.3ZM672.8 1065.8A308.3 308.3 0 0 0 673.3 1068.4L693.8 1063.8A287.3 287.3 0 0 1 693.3 1061.4ZM694.6 1067.1A287.3 287.3 0 0 0 696.0 1072.8L726.5 1065.0A255.8 255.8 0 0 1 725.3 1059.9ZM696.1 1073.2A287.3 287.3 0 0 0 696.7 1075.4L717.0 1070.0A266.3 266.3 0 0 1 716.4 1068.0ZM664.1 1074.9A318.8 318.8 0 0 0 664.7 1077.5L674.9 1075.0A308.3 308.3 0 0 1 674.3 1072.5ZM665.2 1079.6A318.8 318.8 0 0 0 665.9 1082.2L676.0 1079.5A308.3 308.3 0 0 1 675.4 1077.1ZM718.7 1076.2A266.3 266.3 0 0 0 719.6 1079.1L729.6 1076.1A255.8 255.8 0 0 1 728.8 1073.3ZM668.6 1091.9A318.8 318.8 0 0 0 669.4 1094.5L699.5 1085.3A287.3 287.3 0 0 1 698.8 1083.0ZM700.1 1087.4A287.3 287.3 0 0 0 701.1 1090.3L711.0 1087.0A276.8 276.8 0 0 1 710.1 1084.2ZM707.2 1107.2A287.3 287.3 0 0 0 708.3 1110.0L718.0 1106.1A276.8 276.8 0 0 1 716.9 1103.4ZM708.9 1111.6A287.3 287.3 0 0 0 710.1 1114.4L719.8 1110.3A276.8 276.8 0 0 1 718.6 1107.6ZM714.5 1124.2A287.3 287.3 0 0 0 715.7 1126.6L725.1 1122.0A276.8 276.8 0 0 1 724.0 1119.7ZM728.8 1129.3A276.8 276.8 0 0 0 730.2 1132.0L739.5 1127.1A266.3 266.3 0 0 1 738.1 1124.5ZM691.2 1148.0A318.8 318.8 0 0 0 692.6 1150.7L701.9 1145.8A308.3 308.3 0 0 1 700.5 1143.2ZM725.8 1145.6A287.3 287.3 0 0 0 727.3 1148.3L736.3 1142.9A276.8 276.8 0 0 1 734.9 1140.4ZM709.3 1178.7A318.8 318.8 0 0 0 711.2 1181.5L719.9 1175.6A308.3 308.3 0 0 1 718.0 1172.9Z" fill="#5ba6d6"/>
<path d="M729.8 982.0A245.3 245.3 0 0 0 729.5 985.8L740.0 986.5A234.8 234.8 0 0 1 740.2 982.8ZM729.5 986.4A245.3 245.3 0 0 0 729.3 989.0L739.8 989.6A234.8 234.8 0 0 1 739.9 987.0ZM729.0 1003.7A245.3 245.3 0 0 0 729.1 1007.9L739.6 1007.6A234.8 234.8 0 0 1 739.5 1003.6ZM729.5 1016.7A245.3 245.3 0 0 0 729.6 1019.3L740.1 1018.6A234.8 234.8 0 0 1 739.9 1016.0ZM730.7 1029.9A245.3 245.3 0 0 0 731.0 1032.6L741.4 1031.2A234.8 234.8 0 0 1 741.1 1028.7ZM733.1 1045.9A245.3 245.3 0 0 0 733.5 1048.5L743.9 1046.5A234.8 234.8 0 0 1 743.4 1044.0ZM734.3 1052.4A245.3 245.3 0 0 0 734.9 1054.9L745.1 1052.7A234.8 234.8 0 0 1 744.6 1050.2Z" fill="#e29a2b"/>
<path d="M477.6 1024.9A497.3 497.3 0 0 0 477.7 1028.5L530.2 1025.6A444.8 444.8 0 0 1 530.0 1022.5ZM446.5 1034.7A528.8 528.8 0 0 0 446.9 1039.5L478.3 1037.3A497.3 497.3 0 0 1 478.0 1032.7ZM415.3 1039.2A560.3 560.3 0 0 0 415.5 1042.2L426.0 1041.4A549.8 549.8 0 0 1 425.7 1038.5ZM449.3 1065.1A528.8 528.8 0 0 0 449.8 1068.9L460.2 1067.5A518.3 518.3 0 0 1 459.8 1063.8ZM470.1 1061.8A507.8 507.8 0 0 0 470.6 1065.9L481.0 1064.6A497.3 497.3 0 0 1 480.5 1060.6ZM418.2 1070.0A560.3 560.3 0 0 0 418.7 1073.7L429.1 1072.3A549.8 549.8 0 0 1 428.6 1068.7ZM463.2 1087.7A518.3 518.3 0 0 0 463.8 1091.0L474.1 1089.2A507.8 507.8 0 0 1 473.6 1086.0ZM475.0 1094.1A507.8 507.8 0 0 0 475.9 1098.8L496.5 1094.8A486.8 486.8 0 0 1 495.7 1090.3ZM506.0 1088.6A476.3 476.3 0 0 0 506.8 1092.4L537.7 1086.4A444.8 444.8 0 0 1 537.0 1082.8ZM423.7 1105.3A560.3 560.3 0 0 0 424.3 1108.2L434.6 1106.2A549.8 549.8 0 0 1 434.0 1103.3ZM477.9 1108.4A507.8 507.8 0 0 0 478.8 1112.5L499.3 1107.9A486.8 486.8 0 0 1 498.4 1104.0ZM508.9 1102.6A476.3 476.3 0 0 0 509.9 1107.3L540.6 1100.3A444.8 444.8 0 0 1 539.6 1095.9ZM426.7 1120.2A560.3 560.3 0 0 0 427.4 1123.1L437.6 1120.8A549.8 549.8 0 0 1 437.0 1117.9ZM470.8 1124.4A518.3 518.3 0 0 0 471.6 1127.7L481.8 1125.1A507.8 507.8 0 0 1 481.0 1121.9ZM491.5 1120.5A497.3 497.3 0 0 0 492.5 1124.7L543.4 1111.7A444.8 444.8 0 0 1 542.4 1108.0ZM485.5 1139.2A507.8 507.8 0 0 0 486.8 1143.8L507.0 1137.9A486.8 486.8 0 0 1 505.7 1133.5ZM504.8 1130.2A486.8 486.8 0 0 0 506.1 1134.8L516.2 1131.9A476.3 476.3 0 0 1 515.0 1127.5ZM514.9 1127.2A476.3 476.3 0 0 0 517.3 1135.6L547.5 1126.7A444.8 444.8 0 0 1 545.3 1118.9ZM435.6 1155.7A560.3 560.3 0 0 0 436.5 1158.6L446.6 1155.7A549.8 549.8 0 0 1 445.7 1152.8ZM476.3 1179.4A528.8 528.8 0 0 0 479.6 1188.3L489.4 1184.5A518.3 518.3 0 0 1 486.2 1175.9ZM496.0 1172.1A507.8 507.8 0 0 0 498.9 1180.1L508.8 1176.4A497.3 497.3 0 0 1 505.9 1168.6ZM446.5 1189.5A560.3 560.3 0 0 0 450.1 1199.2L459.9 1195.5A549.8 549.8 0 0 1 456.4 1185.9ZM493.3 1194.7A518.3 518.3 0 0 0 498.8 1207.7L508.4 1203.6A507.8 507.8 0 0 1 503.1 1190.8ZM564.4 1174.3A444.8 444.8 0 0 0 565.6 1177.1L575.3 1173.0A434.3 434.3 0 0 1 574.1 1170.2ZM574.6 1196.6A444.8 444.8 0 0 0 575.9 1199.3L585.3 1194.7A434.3 434.3 0 0 1 584.0 1192.0ZM523.6 1211.7A497.3 497.3 0 0 0 525.3 1215.2L572.7 1192.7A444.8 444.8 0 0 1 571.2 1189.5ZM506.5 1224.7A518.3 518.3 0 0 0 507.8 1227.5L517.3 1222.9A507.8 507.8 0 0 1 516.0 1220.2ZM537.0 1238.3A497.3 497.3 0 0 0 542.3 1247.8L587.9 1221.8A444.8 444.8 0 0 1 583.2 1213.3ZM526.6 1241.1A507.8 507.8 0 0 0 528.2 1244.1L537.4 1239.1A497.3 497.3 0 0 1 535.8 1236.1ZM553.7 1266.8A497.3 497.3 0 0 0 561.2 1278.3L604.8 1249.1A444.8 444.8 0 0 1 598.1 1238.8ZM508.2 1251.3A528.8 528.8 0 0 0 509.9 1254.3L519.1 1249.3A518.3 518.3 0 0 1 517.5 1246.4ZM522.0 1254.6A518.3 518.3 0 0 0 523.7 1257.5L532.8 1252.3A507.8 507.8 0 0 1 531.1 1249.4ZM480.3 1266.0A560.3 560.3 0 0 0 482.0 1268.9L491.2 1263.9A549.8 549.8 0 0 1 489.6 1261.0ZM550.7 1300.1A518.3 518.3 0 0 0 554.0 1304.8L571.0 1292.5A497.3 497.3 0 0 1 567.8 1288.0Z" fill="#ece04c"/>
<path d="M412.2 1149.6A581.3 581.3 0 0 0 413.6 1154.8L433.8 1149.2A560.3 560.3 0 0 1 432.5 1144.3ZM398.0 1176.7A602.3 602.3 0 0 0 399.4 1181.2L419.5 1175.0A581.3 581.3 0 0 1 418.1 1170.6ZM424.8 1191.1A581.3 581.3 0 0 0 426.5 1196.1L446.3 1189.1A560.3 560.3 0 0 1 444.6 1184.2ZM392.2 1192.9A612.8 612.8 0 0 0 395.8 1203.6L405.7 1200.2A602.3 602.3 0 0 1 402.1 1189.6ZM430.3 1206.4A581.3 581.3 0 0 0 434.1 1216.1L453.6 1208.4A560.3 560.3 0 0 1 449.9 1199.0ZM399.7 1243.1A623.3 623.3 0 0 0 401.6 1247.4L411.2 1243.2A612.8 612.8 0 0 1 409.4 1239.0ZM432.8 1265.3A602.3 602.3 0 0 0 435.2 1270.0L454.0 1260.7A581.3 581.3 0 0 1 451.7 1256.1ZM404.5 1279.0A633.8 633.8 0 0 0 407.0 1284.1L425.8 1274.7A612.8 612.8 0 0 1 423.4 1269.8ZM450.1 1298.1A602.3 602.3 0 0 0 452.4 1302.2L470.6 1291.7A581.3 581.3 0 0 1 468.4 1287.7Z" fill="#64b774"/>
<path d="M729.7 982.6A245.3 245.3 0 0 0 729.6 984.9L740.0 985.6A234.8 234.8 0 0 1 740.2 983.4ZM729.5 985.9A245.3 245.3 0 0 0 729.4 988.3L739.8 988.8A234.8 234.8 0 0 1 740.0 986.6ZM761.3 983.4A213.8 213.8 0 0 0 761.1 985.7L771.6 986.5A203.3 203.3 0 0 1 771.7 984.3ZM761.0 987.6A213.8 213.8 0 0 0 760.8 989.9L771.3 990.5A203.3 203.3 0 0 1 771.4 988.3ZM782.2 985.3A192.8 192.8 0 0 0 782.0 987.3L792.5 988.0A182.3 182.3 0 0 1 792.6 986.1ZM803.0 987.9A171.8 171.8 0 0 0 802.8 990.9L813.3 991.5A161.3 161.3 0 0 1 813.5 988.7ZM814.1 983.1A161.3 161.3 0 0 0 813.5 989.2L834.4 990.8A140.3 140.3 0 0 1 834.9 985.5ZM729.0 1003.8A245.3 245.3 0 0 0 729.1 1008.0L739.6 1007.8A234.8 234.8 0 0 1 739.5 1003.7ZM760.5 1003.1A213.8 213.8 0 0 0 760.6 1006.8L771.1 1006.5A203.3 203.3 0 0 1 771.0 1003.0ZM781.5 1003.1A192.8 192.8 0 0 0 781.6 1006.8L792.1 1006.5A182.3 182.3 0 0 1 792.0 1003.0ZM802.5 1003.0A171.8 171.8 0 0 0 802.6 1006.8L823.6 1006.2A150.8 150.8 0 0 1 823.5 1002.8ZM813.1 1008.3A161.3 161.3 0 0 0 813.2 1010.4L834.2 1009.2A140.3 140.3 0 0 1 834.1 1007.4ZM729.5 1017.0A245.3 245.3 0 0 0 729.7 1019.4L740.1 1018.6A234.8 234.8 0 0 1 740.0 1016.3ZM760.9 1014.3A213.8 213.8 0 0 0 761.0 1016.7L771.5 1015.9A203.3 203.3 0 0 1 771.4 1013.7ZM781.9 1013.5A192.8 192.8 0 0 0 782.0 1015.8L792.5 1015.0A182.3 182.3 0 0 1 792.4 1012.8ZM802.8 1011.9A171.8 171.8 0 0 0 803.0 1014.2L813.4 1013.5A161.3 161.3 0 0 1 813.3 1011.2ZM762.0 1026.7A213.8 213.8 0 0 0 762.3 1029.0L772.7 1027.7A203.3 203.3 0 0 1 772.4 1025.4ZM782.7 1023.3A192.8 192.8 0 0 0 783.0 1025.7L793.4 1024.3A182.3 182.3 0 0 1 793.2 1022.1ZM803.7 1021.6A171.8 171.8 0 0 0 803.9 1023.7L824.8 1021.0A150.8 150.8 0 0 1 824.5 1019.2ZM730.7 1030.7A245.3 245.3 0 0 0 731.0 1033.0L741.4 1031.6A234.8 234.8 0 0 1 741.2 1029.4ZM805.3 1032.5A171.8 171.8 0 0 0 805.8 1034.9L816.1 1032.8A161.3 161.3 0 0 1 815.7 1030.6ZM806.1 1036.6A171.8 171.8 0 0 0 806.6 1038.9L816.9 1036.6A161.3 161.3 0 0 1 816.4 1034.4ZM817.6 1039.8A161.3 161.3 0 0 0 818.1 1041.6L838.4 1036.3A140.3 140.3 0 0 1 838.0 1034.8ZM764.1 1040.6A213.8 213.8 0 0 0 764.6 1042.9L774.9 1040.9A203.3 203.3 0 0 1 774.4 1038.7ZM765.1 1045.6A213.8 213.8 0 0 0 765.6 1047.9L775.9 1045.6A203.3 203.3 0 0 1 775.4 1043.5ZM733.0 1045.7A245.3 245.3 0 0 0 733.4 1048.0L743.8 1046.0A234.8 234.8 0 0 1 743.3 1043.8ZM734.2 1051.6A245.3 245.3 0 0 0 734.7 1053.9L744.9 1051.6A234.8 234.8 0 0 1 744.4 1049.4ZM808.8 1047.5A171.8 171.8 0 0 0 809.4 1049.8L819.5 1046.8A161.3 161.3 0 0 1 818.9 1044.7ZM768.6 1059.9A213.8 213.8 0 0 0 769.3 1062.2L779.4 1059.2A203.3 203.3 0 0 1 778.7 1057.1ZM812.6 1059.5A171.8 171.8 0 0 0 813.9 1063.0L823.7 1059.3A161.3 161.3 0 0 1 822.5 1056.0ZM837.2 1064.3A150.8 150.8 0 0 0 838.1 1066.2L847.6 1061.7A140.3 140.3 0 0 1 846.8 1060.0ZM738.4 1068.9A245.3 245.3 0 0 0 739.1 1071.2L749.2 1068.2A234.8 234.8 0 0 1 748.5 1066.0ZM792.6 1065.9A192.8 192.8 0 0 0 793.7 1069.1L803.6 1065.4A182.3 182.3 0 0 1 802.5 1062.4ZM773.0 1073.4A213.8 213.8 0 0 0 774.4 1077.4L784.2 1073.6A203.3 203.3 0 0 1 782.8 1069.9ZM841.5 1073.0A150.8 150.8 0 0 0 843.6 1076.7L852.7 1071.5A140.3 140.3 0 0 1 850.8 1068.0ZM822.0 1081.1A171.8 171.8 0 0 0 823.1 1083.2L832.4 1078.2A161.3 161.3 0 0 1 831.3 1076.2ZM846.3 1081.2A150.8 150.8 0 0 0 849.5 1086.1L858.2 1080.2A140.3 140.3 0 0 1 855.2 1075.6ZM742.9 1083.0A245.3 245.3 0 0 0 744.6 1087.7L754.5 1084.0A234.8 234.8 0 0 1 752.8 1079.5ZM803.9 1091.8A192.8 192.8 0 0 0 805.2 1094.2L814.4 1089.1A182.3 182.3 0 0 1 813.2 1086.9ZM785.8 1102.3A213.8 213.8 0 0 0 786.9 1104.4L796.1 1099.3A203.3 203.3 0 0 1 795.0 1097.4ZM833.9 1100.5A171.8 171.8 0 0 0 835.2 1102.4L843.7 1096.2A161.3 161.3 0 0 1 842.4 1094.4ZM757.3 1115.9A245.3 245.3 0 0 0 758.6 1118.2L767.8 1113.2A234.8 234.8 0 0 1 766.6 1111.0ZM799.8 1125.1A213.8 213.8 0 0 0 801.2 1127.0L809.7 1120.8A203.3 203.3 0 0 1 808.4 1119.0ZM773.3 1142.1A245.3 245.3 0 0 0 775.7 1145.5L784.2 1139.3A234.8 234.8 0 0 1 781.9 1136.1ZM901.6 1145.5A161.3 161.3 0 0 0 903.4 1146.4L908.1 1137.0A150.8 150.8 0 0 1 906.3 1136.1ZM920.7 1153.6A161.3 161.3 0 0 0 922.0 1154.1L925.4 1144.2A150.8 150.8 0 0 1 924.2 1143.7ZM925.6 1155.3A161.3 161.3 0 0 0 926.9 1155.7L930.0 1145.6A150.8 150.8 0 0 1 928.7 1145.3ZM942.1 1094.4A98.3 98.3 0 0 0 944.0 1095.0L947.3 1085.0A87.8 87.8 0 0 1 945.5 1084.4ZM973.1 1099.8A98.3 98.3 0 0 0 974.5 1099.8L974.5 1089.3A87.8 87.8 0 0 1 973.2 1089.3ZM991.4 1098.3A98.3 98.3 0 0 0 992.8 1098.0L990.8 1087.7A87.8 87.8 0 0 1 989.6 1088.0ZM973.3 1162.8A161.3 161.3 0 0 0 974.7 1162.8L974.6 1152.3A150.8 150.8 0 0 1 973.4 1152.3ZM982.7 1183.6A182.3 182.3 0 0 0 984.1 1183.5L983.5 1173.1A171.8 171.8 0 0 1 982.3 1173.1Z" fill="#e29a2b"/>
<path d="M718.7 1076.1A266.3 266.3 0 0 0 719.3 1078.4L729.4 1075.3A255.8 255.8 0 0 1 728.7 1073.2ZM700.3 1087.9A287.3 287.3 0 0 0 701.0 1090.2L711.0 1086.9A276.8 276.8 0 0 1 710.3 1084.8ZM707.4 1107.8A287.3 287.3 0 0 0 708.3 1110.0L718.0 1106.1A276.8 276.8 0 0 1 717.2 1104.0ZM709.4 1112.7A287.3 287.3 0 0 0 710.3 1114.9L720.0 1110.8A276.8 276.8 0 0 1 719.1 1108.7ZM714.8 1124.7A287.3 287.3 0 0 0 715.8 1126.8L725.2 1122.3A276.8 276.8 0 0 1 724.3 1120.2ZM728.6 1129.0A276.8 276.8 0 0 0 729.9 1131.4L748.4 1121.6A255.8 255.8 0 0 1 747.3 1119.4ZM725.9 1145.8A287.3 287.3 0 0 0 727.1 1147.8L736.1 1142.5A276.8 276.8 0 0 1 735.0 1140.5ZM744.0 1155.1A276.8 276.8 0 0 0 745.8 1157.7L763.1 1145.8A255.8 255.8 0 0 1 761.5 1143.5ZM741.8 1170.3A287.3 287.3 0 0 0 743.4 1172.5L751.9 1166.2A276.8 276.8 0 0 1 750.3 1164.1ZM709.8 1179.4A318.8 318.8 0 0 0 711.3 1181.6L719.9 1175.7A308.3 308.3 0 0 1 718.5 1173.5ZM796.7 1227.4A287.3 287.3 0 0 0 798.3 1228.6L804.8 1220.3A276.8 276.8 0 0 1 803.2 1219.1ZM800.2 1230.0A287.3 287.3 0 0 0 801.8 1231.2L808.1 1222.8A276.8 276.8 0 0 1 806.5 1221.7ZM825.9 1247.5A287.3 287.3 0 0 0 827.4 1248.4L832.7 1239.4A276.8 276.8 0 0 1 831.3 1238.5ZM840.1 1255.6A287.3 287.3 0 0 0 841.6 1256.3L846.5 1247.0A276.8 276.8 0 0 1 845.0 1246.3ZM851.9 1261.4A287.3 287.3 0 0 0 853.4 1262.1L857.8 1252.6A276.8 276.8 0 0 1 856.4 1251.9ZM864.6 1278.3A297.8 297.8 0 0 0 866.1 1279.0L873.8 1259.4A276.8 276.8 0 0 1 872.3 1258.8ZM873.4 1270.5A287.3 287.3 0 0 0 874.9 1271.1L878.6 1261.2A276.8 276.8 0 0 1 877.1 1260.7ZM917.5 1283.1A287.3 287.3 0 0 0 919.5 1283.5L921.5 1273.2A276.8 276.8 0 0 1 919.6 1272.8ZM921.4 1283.9A287.3 287.3 0 0 0 923.4 1284.3L925.2 1273.9A276.8 276.8 0 0 1 923.3 1273.6Z" fill="#5ba6d6"/>
<path d="M733.9 1256.3A350.3 350.3 0 0 0 737.0 1259.2L744.1 1251.5A339.8 339.8 0 0 1 741.1 1248.7Z" fill="#1b9b6b"/>
<path d="M840.4 1109.2A171.8 171.8 0 0 0 855.7 1125.8L862.9 1118.2A161.3 161.3 0 0 1 848.6 1102.6Z" fill="#e9b05a"/>
<path d="M864.7 1119.8A161.3 161.3 0 0 0 872.3 1126.5L878.9 1118.3A150.8 150.8 0 0 1 871.8 1112.1Z" fill="#e29a2b"/>
<path d="M875.9 1129.3A161.3 161.3 0 0 0 898.9 1144.1L903.8 1134.8A150.8 150.8 0 0 1 882.3 1121.0ZM808.4 1136.3A213.8 213.8 0 0 0 826.0 1155.5L833.3 1147.9A203.3 203.3 0 0 1 816.5 1129.7ZM783.8 1156.0A245.3 245.3 0 0 0 804.1 1178.2L811.4 1170.6A234.8 234.8 0 0 1 791.9 1149.4ZM906.0 1072.2A98.3 98.3 0 0 0 930.5 1089.5L935.2 1080.1A87.8 87.8 0 0 1 913.3 1064.6Z" fill="#e9b05a"/>
<path d="M811.5 1238.2A287.3 287.3 0 0 0 821.4 1244.7L826.9 1235.8A276.8 276.8 0 0 1 817.5 1229.6ZM889.3 1276.0A287.3 287.3 0 0 0 901.5 1279.4L904.2 1269.3A276.8 276.8 0 0 1 892.5 1265.9Z" fill="#8fc2e3"/>
<path d="M212.0 1473.0A896.3 896.3 0 0 0 216.8 1480.7L225.7 1475.1A885.8 885.8 0 0 1 221.0 1467.5ZM273.8 1472.0A843.8 843.8 0 0 0 278.9 1479.5L287.6 1473.5A833.3 833.3 0 0 1 282.5 1466.1ZM305.7 1516.3A843.8 843.8 0 0 0 311.3 1523.5L319.6 1517.0A833.3 833.3 0 0 1 314.1 1509.9ZM343.0 1545.4A833.3 833.3 0 0 0 348.9 1552.2L356.8 1545.3A822.8 822.8 0 0 1 350.9 1538.5ZM373.9 1548.7A812.3 812.3 0 0 0 380.1 1555.3L387.8 1548.2A801.8 801.8 0 0 1 381.7 1541.6ZM359.2 1594.3A854.3 854.3 0 0 0 365.5 1600.8L373.0 1593.5A843.8 843.8 0 0 1 366.7 1587.1ZM460.8 1630.9A812.3 812.3 0 0 0 467.9 1636.6L474.4 1628.4A801.8 801.8 0 0 1 467.5 1622.8ZM440.9 1655.3A843.8 843.8 0 0 0 447.9 1661.0L454.5 1652.8A833.3 833.3 0 0 1 447.5 1647.2ZM496.4 1658.3A812.3 812.3 0 0 0 503.7 1663.6L509.8 1655.1A801.8 801.8 0 0 1 502.6 1649.8Z" fill="#2d2a78"/>
<path d="M172.1 1467.6A927.8 927.8 0 0 0 176.7 1475.4L185.7 1470.0A917.3 917.3 0 0 1 181.1 1462.3ZM203.5 1479.2A906.8 906.8 0 0 0 208.3 1486.9L217.2 1481.2A896.3 896.3 0 0 1 212.4 1473.7ZM185.8 1490.5A927.8 927.8 0 0 0 190.6 1498.2L199.5 1492.6A917.3 917.3 0 0 1 194.7 1485.0ZM239.6 1568.1A927.8 927.8 0 0 0 245.2 1575.3L253.4 1568.8A917.3 917.3 0 0 1 247.9 1561.7ZM256.2 1621.6A948.8 948.8 0 0 0 262.1 1628.4L270.0 1621.5A938.3 938.3 0 0 1 264.1 1614.7ZM321.0 1630.4A906.8 906.8 0 0 0 327.3 1636.9L334.8 1629.5A896.3 896.3 0 0 1 328.6 1623.1Z" fill="#dda5c3"/>
<path d="M418.7 1488.5A738.8 738.8 0 0 0 424.7 1495.2L432.5 1488.2A728.3 728.3 0 0 1 426.6 1481.6ZM419.6 1505.2A749.3 749.3 0 0 0 425.7 1511.9L433.4 1504.8A738.8 738.8 0 0 1 427.4 1498.2ZM466.1 1508.4A717.8 717.8 0 0 0 472.6 1514.8L479.9 1507.3A707.3 707.3 0 0 1 473.5 1501.0ZM451.3 1523.3A738.8 738.8 0 0 0 457.7 1529.7L465.0 1522.2A728.3 728.3 0 0 1 458.7 1515.9ZM464.1 1550.3A749.3 749.3 0 0 0 470.8 1556.4L477.8 1548.6A738.8 738.8 0 0 1 471.3 1542.6ZM500.2 1581.7A749.3 749.3 0 0 0 507.2 1587.4L513.8 1579.2A738.8 738.8 0 0 1 506.8 1573.6ZM511.1 1590.5A749.3 749.3 0 0 0 518.2 1596.0L524.6 1587.7A738.8 738.8 0 0 1 517.6 1582.2Z" fill="#c56f9f"/>
<path d="M497.2 1418.7A633.8 633.8 0 0 0 503.2 1425.5L511.0 1418.5A623.3 623.3 0 0 1 505.1 1411.8Z" fill="#64b774"/>
<path d="M496.2 1696.8A843.8 843.8 0 0 0 507.2 1704.2L513.0 1695.5A833.3 833.3 0 0 1 502.1 1688.1Z" fill="#2d2a78"/>
<path d="M430.6 1470.2A717.8 717.8 0 0 0 439.4 1480.1L447.2 1473.1A707.3 707.3 0 0 1 438.6 1463.3ZM506.0 1639.4A791.3 791.3 0 0 0 516.8 1647.2L522.9 1638.6A780.8 780.8 0 0 1 512.3 1630.9Z" fill="#c56f9f"/>
<path d="M423.8 1315.5A633.8 633.8 0 0 0 426.5 1320.3L435.6 1315.0A623.3 623.3 0 0 1 432.9 1310.3ZM429.6 1325.6A633.8 633.8 0 0 0 435.4 1335.1L444.3 1329.5A623.3 623.3 0 0 1 438.6 1320.2Z" fill="#64b774"/>
<path d="M327.1 1492.4A812.3 812.3 0 0 0 344.6 1514.7L352.8 1508.0A801.8 801.8 0 0 1 335.5 1486.1ZM503.2 1676.1A822.8 822.8 0 0 0 511.4 1681.8L523.3 1664.4A801.8 801.8 0 0 1 515.2 1658.9Z" fill="#2d2a78"/>
<path d="M373.5 1449.3A749.3 749.3 0 0 0 392.8 1474.1L401.0 1467.5A738.8 738.8 0 0 1 381.9 1443.0Z" fill="#c56f9f"/>
<path d="M328.6 1623.2A896.3 896.3 0 0 0 334.9 1629.6L357.4 1607.5A864.8 864.8 0 0 1 351.3 1601.3Z" fill="#2d2a78"/>
<path d="M280.1 1601.0A917.3 917.3 0 0 0 285.2 1606.9L300.9 1593.1A896.3 896.3 0 0 1 295.9 1587.3Z" fill="#dda5c3"/>
<path d="M343.4 1479.1A791.3 791.3 0 0 0 348.2 1485.4L373.1 1466.1A759.8 759.8 0 0 1 368.5 1460.1ZM351.0 1488.9A791.3 791.3 0 0 0 361.4 1502.1L385.8 1482.1A759.8 759.8 0 0 1 375.8 1469.5ZM389.5 1534.5A791.3 791.3 0 0 0 394.8 1540.3L417.8 1518.8A759.8 759.8 0 0 1 412.7 1513.3Z" fill="#c56f9f"/>
<path d="M432.6 1264.8A602.3 602.3 0 0 0 435.1 1269.8L453.9 1260.5A581.3 581.3 0 0 1 451.5 1255.6ZM404.4 1278.9A633.8 633.8 0 0 0 406.9 1283.9L425.7 1274.6A612.8 612.8 0 0 1 423.3 1269.7ZM450.6 1299.0A602.3 602.3 0 0 0 453.1 1303.3L471.2 1292.8A581.3 581.3 0 0 1 468.9 1288.6ZM522.3 1399.5A602.3 602.3 0 0 0 525.6 1403.2L541.2 1389.2A581.3 581.3 0 0 1 538.0 1385.7ZM549.4 1428.4A602.3 602.3 0 0 0 552.9 1431.8L567.6 1416.8A581.3 581.3 0 0 1 564.2 1413.5ZM767.1 1567.0A602.3 602.3 0 0 0 772.3 1568.9L779.4 1549.1A581.3 581.3 0 0 1 774.3 1547.3ZM726.0 1596.0A644.3 644.3 0 0 0 730.5 1597.9L734.5 1588.2A633.8 633.8 0 0 1 730.1 1586.3Z" fill="#64b774"/>
<path d="M737.2 1414.6A476.3 476.3 0 0 0 740.0 1416.2L755.5 1388.8A444.8 444.8 0 0 1 752.9 1387.3ZM749.7 1421.5A476.3 476.3 0 0 0 752.5 1423.0L767.2 1395.1A444.8 444.8 0 0 1 764.6 1393.7ZM755.1 1424.4A476.3 476.3 0 0 0 757.9 1425.8L772.2 1397.7A444.8 444.8 0 0 1 769.6 1396.4Z" fill="#ece04c"/>
<path d="M736.4 1258.7A350.3 350.3 0 0 0 738.7 1260.8L745.8 1253.0A339.8 339.8 0 0 1 743.6 1251.0ZM742.7 1291.7A371.3 371.3 0 0 0 744.8 1293.4L751.3 1285.1A360.8 360.8 0 0 1 749.3 1283.5ZM748.4 1296.1A371.3 371.3 0 0 0 750.5 1297.8L756.8 1289.4A360.8 360.8 0 0 1 754.7 1287.8ZM760.3 1355.1A413.3 413.3 0 0 0 763.3 1356.9L768.7 1347.9A402.8 402.8 0 0 1 765.7 1346.1Z" fill="#1b9b6b"/>
<path d="M628.6 1387.7A518.3 518.3 0 0 0 636.1 1394.3L643.0 1386.3A507.8 507.8 0 0 1 635.6 1379.9Z" fill="#ece04c"/>
<path d="M399.9 1243.6A623.3 623.3 0 0 0 401.7 1247.7L411.3 1243.5A612.8 612.8 0 0 1 409.6 1239.5ZM423.4 1314.9A633.8 633.8 0 0 0 426.2 1319.7L435.2 1314.4A623.3 623.3 0 0 1 432.5 1309.7ZM430.0 1326.3A633.8 633.8 0 0 0 435.2 1334.8L444.1 1329.3A623.3 623.3 0 0 1 439.0 1320.9ZM498.5 1420.2A633.8 633.8 0 0 0 502.1 1424.3L510.0 1417.3A623.3 623.3 0 0 1 506.4 1413.2ZM526.3 1449.8A633.8 633.8 0 0 0 530.3 1453.7L537.6 1446.3A623.3 623.3 0 0 1 533.7 1442.4ZM640.6 1527.9A623.3 623.3 0 0 0 647.2 1532.0L652.7 1523.1A612.8 612.8 0 0 1 646.2 1519.1ZM765.4 1611.0A644.3 644.3 0 0 0 775.8 1614.5L779.0 1604.5A633.8 633.8 0 0 1 768.8 1601.1ZM702.6 1643.1A696.8 696.8 0 0 0 710.8 1646.5L714.7 1636.8A686.3 686.3 0 0 1 706.7 1633.5Z" fill="#64b774"/>
<path d="M507.1 1249.1A528.8 528.8 0 0 0 509.4 1253.4L518.6 1248.4A518.3 518.3 0 0 1 516.3 1244.2ZM510.7 1255.8A528.8 528.8 0 0 0 513.1 1260.1L522.2 1255.0A518.3 518.3 0 0 1 519.9 1250.8ZM521.0 1252.8A518.3 518.3 0 0 0 523.4 1257.1L532.5 1251.9A507.8 507.8 0 0 1 530.2 1247.7ZM479.6 1264.5A560.3 560.3 0 0 0 481.9 1268.8L491.1 1263.8A549.8 549.8 0 0 1 488.8 1259.6ZM548.8 1297.4A518.3 518.3 0 0 0 551.6 1301.4L560.1 1295.3A507.8 507.8 0 0 1 557.4 1291.4ZM559.2 1294.0A507.8 507.8 0 0 0 562.0 1298.0L570.6 1291.9A497.3 497.3 0 0 1 567.8 1288.0ZM560.4 1295.7A507.8 507.8 0 0 0 563.3 1299.7L571.8 1293.5A497.3 497.3 0 0 1 569.0 1289.6ZM557.1 1309.1A518.3 518.3 0 0 0 560.0 1313.0L568.4 1306.7A507.8 507.8 0 0 1 565.6 1302.9ZM517.7 1326.3A560.3 560.3 0 0 0 521.0 1330.8L529.5 1324.6A549.8 549.8 0 0 1 526.3 1320.2ZM581.2 1322.9A507.8 507.8 0 0 0 586.8 1329.7L594.8 1322.9A497.3 497.3 0 0 1 589.3 1316.3ZM595.8 1340.0A507.8 507.8 0 0 0 599.9 1344.6L607.7 1337.5A497.3 497.3 0 0 1 603.6 1333.0ZM603.7 1348.7A507.8 507.8 0 0 0 608.0 1353.2L615.6 1345.9A497.3 497.3 0 0 1 611.4 1341.5ZM611.3 1356.6A507.8 507.8 0 0 0 615.7 1361.0L623.1 1353.6A497.3 497.3 0 0 1 618.8 1349.3ZM619.3 1364.6A507.8 507.8 0 0 0 625.7 1370.7L632.9 1363.1A497.3 497.3 0 0 1 626.6 1357.0ZM606.9 1381.9A528.8 528.8 0 0 0 610.5 1385.2L617.7 1377.6A518.3 518.3 0 0 1 614.2 1374.3ZM636.1 1351.7A486.8 486.8 0 0 0 639.7 1355.0L646.9 1347.4A476.3 476.3 0 0 1 643.4 1344.1ZM654.2 1409.1A518.3 518.3 0 0 0 659.1 1412.9L665.5 1404.6A507.8 507.8 0 0 1 660.7 1400.9ZM662.8 1415.8A518.3 518.3 0 0 0 667.8 1419.5L674.0 1411.0A507.8 507.8 0 0 1 669.1 1407.4ZM673.2 1423.4A518.3 518.3 0 0 0 678.3 1426.9L684.3 1418.3A507.8 507.8 0 0 1 679.3 1414.8ZM687.6 1433.3A518.3 518.3 0 0 0 692.8 1436.7L698.5 1427.9A507.8 507.8 0 0 1 693.4 1424.6ZM699.3 1440.8A518.3 518.3 0 0 0 704.6 1444.1L710.0 1435.1A507.8 507.8 0 0 1 704.8 1431.9ZM709.5 1447.1A518.3 518.3 0 0 0 714.9 1450.2L720.1 1441.1A507.8 507.8 0 0 1 714.9 1438.0ZM717.3 1451.6A518.3 518.3 0 0 0 722.7 1454.7L727.8 1445.5A507.8 507.8 0 0 1 722.6 1442.5ZM715.1 1462.4A528.8 528.8 0 0 0 720.6 1465.4L725.6 1456.2A518.3 518.3 0 0 1 720.3 1453.3ZM537.7 1352.7A560.3 560.3 0 0 0 544.7 1361.2L552.8 1354.5A549.8 549.8 0 0 1 545.9 1346.1ZM548.3 1365.5A560.3 560.3 0 0 0 552.4 1370.2L560.3 1363.2A549.8 549.8 0 0 1 556.3 1358.6ZM556.5 1374.9A560.3 560.3 0 0 0 560.7 1379.5L568.4 1372.4A549.8 549.8 0 0 1 564.4 1367.9ZM563.9 1383.0A560.3 560.3 0 0 0 568.2 1387.5L575.8 1380.3A549.8 549.8 0 0 1 571.6 1375.8ZM571.5 1390.9A560.3 560.3 0 0 0 575.8 1395.4L583.3 1388.0A549.8 549.8 0 0 1 579.0 1383.6ZM578.6 1398.2A560.3 560.3 0 0 0 583.0 1402.6L590.4 1395.0A549.8 549.8 0 0 1 586.0 1390.8ZM584.0 1403.5A560.3 560.3 0 0 0 591.2 1410.4L598.4 1402.7A549.8 549.8 0 0 1 591.3 1395.9ZM725.6 1432.2A497.3 497.3 0 0 0 729.8 1434.6L735.0 1425.4A486.8 486.8 0 0 1 730.9 1423.1ZM736.3 1426.2A486.8 486.8 0 0 0 740.6 1428.5L745.6 1419.3A476.3 476.3 0 0 1 741.4 1417.0ZM727.8 1445.5A507.8 507.8 0 0 0 732.0 1447.8L737.1 1438.6A497.3 497.3 0 0 1 732.9 1436.3ZM736.7 1438.4A497.3 497.3 0 0 0 741.0 1440.7L745.9 1431.4A486.8 486.8 0 0 1 741.7 1429.1ZM745.5 1443.0A497.3 497.3 0 0 0 749.9 1445.3L754.6 1435.9A486.8 486.8 0 0 1 750.3 1433.7ZM738.7 1463.2A518.3 518.3 0 0 0 747.6 1467.6L752.2 1458.2A507.8 507.8 0 0 1 743.5 1453.8ZM751.6 1469.5A518.3 518.3 0 0 0 760.7 1473.7L765.0 1464.2A507.8 507.8 0 0 1 756.1 1460.0ZM700.7 1490.5A560.3 560.3 0 0 0 708.5 1494.7L713.5 1485.5A549.8 549.8 0 0 1 705.9 1481.3ZM735.4 1376.7A444.8 444.8 0 0 0 739.5 1379.3L745.1 1370.4A434.3 434.3 0 0 1 741.0 1367.8Z" fill="#ece04c"/>
<path d="M624.9 1241.4A423.8 423.8 0 0 0 627.7 1245.4L636.3 1239.4A413.3 413.3 0 0 1 633.6 1235.5ZM639.9 1244.4A413.3 413.3 0 0 0 642.8 1248.4L651.3 1242.1A402.8 402.8 0 0 1 648.4 1238.3ZM762.9 1306.8A371.3 371.3 0 0 0 770.3 1311.8L776.1 1303.0A360.8 360.8 0 0 1 768.9 1298.1ZM772.3 1313.0A371.3 371.3 0 0 0 777.0 1316.0L782.6 1307.1A360.8 360.8 0 0 1 778.0 1304.2ZM716.1 1324.2A413.3 413.3 0 0 0 725.7 1331.7L732.0 1323.3A402.8 402.8 0 0 1 722.7 1316.0Z" fill="#1b9b6b"/>
<path d="M621.2 1380.9A518.3 518.3 0 0 0 647.2 1403.5L653.8 1395.4A507.8 507.8 0 0 1 628.3 1373.2Z" fill="#ece04c"/>
<path d="M515.6 1633.4A780.8 780.8 0 0 0 521.0 1637.3L533.2 1620.2A759.8 759.8 0 0 1 528.0 1616.4ZM527.7 1603.1A749.3 749.3 0 0 0 535.0 1608.5L541.2 1600.0A738.8 738.8 0 0 1 533.9 1594.7Z" fill="#c56f9f"/>
<path d="M653.4 1188.2A371.3 371.3 0 0 0 654.8 1190.6L663.8 1185.3A360.8 360.8 0 0 1 662.4 1182.9ZM687.0 1201.9A350.3 350.3 0 0 0 688.6 1204.2L697.2 1198.1A339.8 339.8 0 0 1 695.6 1195.9ZM692.3 1209.4A350.3 350.3 0 0 0 694.0 1211.6L702.4 1205.3A339.8 339.8 0 0 1 700.8 1203.1ZM696.6 1215.0A350.3 350.3 0 0 0 698.3 1217.2L706.6 1210.7A339.8 339.8 0 0 1 704.9 1208.6ZM674.0 1219.9A371.3 371.3 0 0 0 675.7 1222.1L684.1 1215.9A360.8 360.8 0 0 1 682.5 1213.7ZM651.1 1223.8A392.3 392.3 0 0 0 652.7 1226.1L661.3 1220.1A381.8 381.8 0 0 1 659.7 1217.9ZM640.6 1227.1A402.8 402.8 0 0 0 642.2 1229.4L650.9 1223.5A392.3 392.3 0 0 1 649.3 1221.2ZM640.2 1244.8A413.3 413.3 0 0 0 641.8 1247.0L650.3 1240.8A402.8 402.8 0 0 1 648.7 1238.6ZM736.3 1258.6A350.3 350.3 0 0 0 738.4 1260.5L745.5 1252.7A339.8 339.8 0 0 1 743.5 1250.9ZM742.9 1291.9A371.3 371.3 0 0 0 745.1 1293.6L751.6 1285.4A360.8 360.8 0 0 1 749.5 1283.7ZM748.6 1296.3A371.3 371.3 0 0 0 750.8 1298.0L757.2 1289.6A360.8 360.8 0 0 1 755.0 1288.0ZM793.1 1301.3A350.3 350.3 0 0 0 795.5 1302.7L800.8 1293.7A339.8 339.8 0 0 1 798.5 1292.3ZM763.8 1307.4A371.3 371.3 0 0 0 770.5 1311.8L776.2 1303.1A360.8 360.8 0 0 1 769.8 1298.7ZM774.1 1314.2A371.3 371.3 0 0 0 776.5 1315.7L782.1 1306.8A360.8 360.8 0 0 1 779.7 1305.4ZM782.1 1319.2A371.3 371.3 0 0 0 784.5 1320.6L789.9 1311.6A360.8 360.8 0 0 1 787.6 1310.2ZM821.5 1316.7A350.3 350.3 0 0 0 824.0 1317.9L828.5 1308.4A339.8 339.8 0 0 1 826.1 1307.3ZM833.3 1322.2A350.3 350.3 0 0 0 835.9 1323.3L840.0 1313.6A339.8 339.8 0 0 1 837.5 1312.6ZM716.6 1324.6A413.3 413.3 0 0 0 725.2 1331.3L731.6 1323.0A402.8 402.8 0 0 1 723.1 1316.4ZM800.5 1329.6A371.3 371.3 0 0 0 803.0 1330.9L807.8 1321.6A360.8 360.8 0 0 1 805.4 1320.3ZM815.3 1337.0A371.3 371.3 0 0 0 817.9 1338.2L822.3 1328.7A360.8 360.8 0 0 1 819.8 1327.6ZM833.7 1345.2A371.3 371.3 0 0 0 836.3 1346.2L840.2 1336.5A360.8 360.8 0 0 1 837.7 1335.4ZM843.7 1349.1A371.3 371.3 0 0 0 846.4 1350.1L850.0 1340.2A360.8 360.8 0 0 1 847.4 1339.3ZM760.7 1355.3A413.3 413.3 0 0 0 763.1 1356.7L768.4 1347.7A402.8 402.8 0 0 1 766.1 1346.3ZM780.5 1366.6A413.3 413.3 0 0 0 783.0 1367.9L787.9 1358.6A402.8 402.8 0 0 1 785.5 1357.3ZM863.0 1355.7A371.3 371.3 0 0 0 865.3 1356.4L868.4 1346.4A360.8 360.8 0 0 1 866.2 1345.7ZM869.1 1357.6A371.3 371.3 0 0 0 878.7 1360.3L881.4 1350.1A360.8 360.8 0 0 1 872.1 1347.5ZM900.8 1365.5A371.3 371.3 0 0 0 903.1 1365.9L905.2 1355.6A360.8 360.8 0 0 1 902.9 1355.2ZM906.8 1366.6A371.3 371.3 0 0 0 909.1 1367.0L911.0 1356.7A360.8 360.8 0 0 1 908.7 1356.3ZM907.6 1345.4A350.3 350.3 0 0 0 910.0 1345.8L911.9 1335.5A339.8 339.8 0 0 1 909.6 1335.1ZM938.7 1350.0A350.3 350.3 0 0 0 941.1 1350.2L942.1 1339.8A339.8 339.8 0 0 1 939.8 1339.5ZM944.7 1371.6A371.3 371.3 0 0 0 947.1 1371.8L947.9 1361.3A360.8 360.8 0 0 1 945.6 1361.2ZM950.7 1372.0A371.3 371.3 0 0 0 953.1 1372.2L953.7 1361.7A360.8 360.8 0 0 1 951.4 1361.6ZM807.9 1379.8A413.3 413.3 0 0 0 810.4 1380.9L814.6 1371.3A402.8 402.8 0 0 1 812.1 1370.2ZM799.9 1387.8A423.8 423.8 0 0 0 802.5 1388.9L806.7 1379.3A413.3 413.3 0 0 1 804.2 1378.2ZM817.4 1383.9A413.3 413.3 0 0 0 824.9 1386.8L828.7 1377.0A402.8 402.8 0 0 1 821.4 1374.2ZM828.8 1388.3A413.3 413.3 0 0 0 831.8 1389.5L835.4 1379.6A402.8 402.8 0 0 1 832.5 1378.5ZM822.0 1397.0A423.8 423.8 0 0 0 824.9 1398.1L828.6 1388.3A413.3 413.3 0 0 1 825.7 1387.2ZM832.6 1400.9A423.8 423.8 0 0 0 835.6 1402.0L839.0 1392.0A413.3 413.3 0 0 1 836.1 1391.0ZM843.6 1404.7A423.8 423.8 0 0 0 846.7 1405.6L849.9 1395.6A413.3 413.3 0 0 1 846.9 1394.7ZM865.6 1400.3A413.3 413.3 0 0 0 868.3 1401.0L871.0 1390.8A402.8 402.8 0 0 1 868.4 1390.1ZM909.1 1409.6A413.3 413.3 0 0 0 917.0 1410.8L918.4 1400.4A402.8 402.8 0 0 1 910.7 1399.3ZM925.4 1411.9A413.3 413.3 0 0 0 928.6 1412.3L929.8 1401.8A402.8 402.8 0 0 1 926.7 1401.5ZM936.4 1413.1A413.3 413.3 0 0 0 939.6 1413.3L940.5 1402.9A402.8 402.8 0 0 1 937.4 1402.6ZM947.3 1413.9A413.3 413.3 0 0 0 950.5 1414.1L951.1 1403.6A402.8 402.8 0 0 1 948.0 1403.4ZM977.9 1425.3A423.8 423.8 0 0 0 981.9 1425.2L981.7 1414.7A413.3 413.3 0 0 1 977.8 1414.8ZM988.9 1425.0A423.8 423.8 0 0 0 992.9 1424.9L992.4 1414.4A413.3 413.3 0 0 1 988.5 1414.6ZM985.3 1414.7A413.3 413.3 0 0 0 988.5 1414.6L988.1 1404.1A402.8 402.8 0 0 1 985.0 1404.2ZM996.9 1414.2A413.3 413.3 0 0 0 1000.9 1413.9L1000.2 1403.5A402.8 402.8 0 0 1 996.3 1403.7Z" fill="#1b9b6b"/>
<path d="M742.5 1171.2A287.3 287.3 0 0 0 743.9 1173.2L752.3 1166.9A276.8 276.8 0 0 1 751.0 1165.0ZM710.0 1179.8A318.8 318.8 0 0 0 711.4 1181.8L720.0 1175.8A308.3 308.3 0 0 1 718.7 1173.9ZM795.2 1226.2A287.3 287.3 0 0 0 796.8 1227.4L803.3 1219.2A276.8 276.8 0 0 1 801.8 1218.0ZM798.7 1228.9A287.3 287.3 0 0 0 800.3 1230.1L806.6 1221.7A276.8 276.8 0 0 1 805.1 1220.6ZM812.0 1238.5A287.3 287.3 0 0 0 817.8 1242.4L823.5 1233.6A276.8 276.8 0 0 1 817.9 1229.9ZM819.9 1243.8A287.3 287.3 0 0 0 821.6 1244.9L827.2 1236.0A276.8 276.8 0 0 1 825.6 1234.9ZM825.8 1247.5A287.3 287.3 0 0 0 827.6 1248.5L832.9 1239.5A276.8 276.8 0 0 1 831.3 1238.5ZM838.8 1254.9A287.3 287.3 0 0 0 840.6 1255.8L845.5 1246.5A276.8 276.8 0 0 1 843.8 1245.6ZM851.2 1261.1A287.3 287.3 0 0 0 853.1 1262.0L857.5 1252.5A276.8 276.8 0 0 1 855.7 1251.6ZM866.1 1267.7A287.3 287.3 0 0 0 868.0 1268.4L871.9 1258.7A276.8 276.8 0 0 1 870.1 1257.9ZM872.2 1270.0A287.3 287.3 0 0 0 874.1 1270.7L877.7 1260.9A276.8 276.8 0 0 1 875.9 1260.2ZM863.5 1277.9A297.8 297.8 0 0 0 865.3 1278.6L869.2 1268.9A287.3 287.3 0 0 1 867.4 1268.2ZM889.9 1276.1A287.3 287.3 0 0 0 899.6 1278.9L902.3 1268.8A276.8 276.8 0 0 1 893.0 1266.1ZM916.7 1283.0A287.3 287.3 0 0 0 918.7 1283.4L920.7 1273.1A276.8 276.8 0 0 1 918.8 1272.7ZM921.7 1283.9A287.3 287.3 0 0 0 923.7 1284.3L925.5 1274.0A276.8 276.8 0 0 1 923.6 1273.6ZM926.6 1295.5A297.8 297.8 0 0 0 932.6 1296.4L934.1 1286.0A287.3 287.3 0 0 1 928.3 1285.1ZM950.8 1287.8A287.3 287.3 0 0 0 952.8 1288.0L953.5 1277.5A276.8 276.8 0 0 1 951.6 1277.4ZM954.8 1288.1A287.3 287.3 0 0 0 956.8 1288.3L957.5 1277.8A276.8 276.8 0 0 1 955.5 1277.7ZM946.9 1298.0A297.8 297.8 0 0 0 948.9 1298.2L949.8 1287.8A287.3 287.3 0 0 1 947.9 1287.6ZM940.5 1329.1A329.3 329.3 0 0 0 943.3 1329.3L944.3 1318.9A318.8 318.8 0 0 1 941.6 1318.6Z" fill="#5ba6d6"/>
<path d="M982.2 1183.6A182.3 182.3 0 0 0 983.8 1183.6L983.3 1173.1A171.8 171.8 0 0 1 981.7 1173.1Z" fill="#e29a2b"/>
<path d="M736.4 1377.3A444.8 444.8 0 0 0 739.1 1379.0L744.7 1370.1A434.3 434.3 0 0 1 742.0 1368.5ZM637.6 1353.0A486.8 486.8 0 0 0 639.9 1355.2L647.1 1347.6A476.3 476.3 0 0 1 644.8 1345.5ZM982.7 1488.2A486.8 486.8 0 0 0 987.1 1488.1L986.8 1477.6A476.3 476.3 0 0 1 982.5 1477.7Z" fill="#ece04c"/>
<path d="M516.2 1710.1A843.8 843.8 0 0 0 523.8 1715.0L529.5 1706.1A833.3 833.3 0 0 1 521.9 1701.3ZM639.5 1776.1A843.8 843.8 0 0 0 647.9 1779.6L651.9 1769.9A833.3 833.3 0 0 1 643.7 1766.4ZM617.5 1789.2A864.8 864.8 0 0 0 625.7 1792.9L630.0 1783.3A854.3 854.3 0 0 1 621.8 1779.7ZM661.7 1807.8A864.8 864.8 0 0 0 670.2 1811.1L673.9 1801.2A854.3 854.3 0 0 1 665.5 1798.0Z" fill="#2d2a78"/>
<path d="M388.3 1720.8A927.8 927.8 0 0 0 395.4 1726.5L401.9 1718.3A917.3 917.3 0 0 1 395.0 1712.7ZM422.5 1747.4A927.8 927.8 0 0 0 429.8 1752.7L436.0 1744.2A917.3 917.3 0 0 1 428.8 1739.0ZM443.7 1762.6A927.8 927.8 0 0 0 451.1 1767.7L457.1 1759.1A917.3 917.3 0 0 1 449.7 1754.0ZM567.8 1835.5A927.8 927.8 0 0 0 576.0 1839.4L580.5 1830.0A917.3 917.3 0 0 1 572.4 1826.1ZM583.4 1842.9A927.8 927.8 0 0 0 591.7 1846.7L596.0 1837.2A917.3 917.3 0 0 1 587.8 1833.4ZM587.7 1856.5A938.3 938.3 0 0 0 596.0 1860.2L600.2 1850.5A927.8 927.8 0 0 1 592.0 1846.9ZM607.4 1853.7A927.8 927.8 0 0 0 615.7 1857.2L619.8 1847.5A917.3 917.3 0 0 1 611.5 1844.0ZM635.2 1876.4A938.3 938.3 0 0 0 643.6 1879.6L647.3 1869.8A927.8 927.8 0 0 1 639.0 1866.6Z" fill="#dda5c3"/>
<path d="M654.8 1656.0A728.3 728.3 0 0 0 663.0 1659.9L667.5 1650.4A717.8 717.8 0 0 1 659.4 1646.6ZM688.0 1682.6A738.8 738.8 0 0 0 696.3 1686.0L700.3 1676.3A728.3 728.3 0 0 1 692.0 1672.9Z" fill="#c56f9f"/>
<path d="M768.7 1567.6A602.3 602.3 0 0 0 772.9 1569.1L779.9 1549.3A581.3 581.3 0 0 1 775.9 1547.9ZM799.7 1577.9A602.3 602.3 0 0 0 804.0 1579.2L809.9 1559.1A581.3 581.3 0 0 1 805.8 1557.8ZM874.9 1595.5A602.3 602.3 0 0 0 879.7 1596.3L883.0 1575.6A581.3 581.3 0 0 1 878.3 1574.8ZM897.3 1598.9A602.3 602.3 0 0 0 902.1 1599.5L904.7 1578.6A581.3 581.3 0 0 1 900.0 1578.0ZM726.0 1596.0A644.3 644.3 0 0 0 730.5 1597.9L734.5 1588.2A633.8 633.8 0 0 1 730.0 1586.3ZM764.5 1610.7A644.3 644.3 0 0 0 774.0 1613.9L777.2 1603.9A633.8 633.8 0 0 1 767.9 1600.8ZM784.8 1606.3A633.8 633.8 0 0 0 789.0 1607.6L792.1 1597.6A623.3 623.3 0 0 1 787.9 1596.3ZM795.8 1609.7A633.8 633.8 0 0 0 800.1 1610.9L803.0 1600.8A623.3 623.3 0 0 1 798.8 1599.6ZM869.9 1626.6A633.8 633.8 0 0 0 874.3 1627.4L875.9 1617.0A623.3 623.3 0 0 1 871.6 1616.3ZM862.3 1636.0A644.3 644.3 0 0 0 866.6 1636.7L868.4 1626.4A633.8 633.8 0 0 1 864.1 1625.6ZM893.1 1630.1A633.8 633.8 0 0 0 897.5 1630.6L898.8 1620.2A623.3 623.3 0 0 1 894.5 1619.7ZM885.4 1639.6A644.3 644.3 0 0 0 889.8 1640.2L891.2 1629.8A633.8 633.8 0 0 1 886.9 1629.2ZM904.0 1642.0A644.3 644.3 0 0 0 908.9 1642.5L909.9 1632.0A633.8 633.8 0 0 1 905.2 1631.5ZM927.3 1644.1A644.3 644.3 0 0 0 932.1 1644.4L932.8 1633.9A633.8 633.8 0 0 1 928.0 1633.6ZM704.9 1644.1A696.8 696.8 0 0 0 710.0 1646.2L714.0 1636.5A686.3 686.3 0 0 1 708.9 1634.4ZM747.9 1660.5A696.8 696.8 0 0 0 757.4 1663.7L760.6 1653.7A686.3 686.3 0 0 1 751.3 1650.6ZM852.9 1687.6A696.8 696.8 0 0 0 858.4 1688.6L860.1 1678.2A686.3 686.3 0 0 1 854.7 1677.3ZM878.2 1691.6A696.8 696.8 0 0 0 883.7 1692.4L885.1 1682.0A686.3 686.3 0 0 1 879.7 1681.2ZM897.4 1694.0A696.8 696.8 0 0 0 902.2 1694.6L903.3 1684.1A686.3 686.3 0 0 1 898.5 1683.6ZM922.9 1696.4A696.8 696.8 0 0 0 927.7 1696.7L928.4 1686.3A686.3 686.3 0 0 1 923.6 1685.9Z" fill="#64b774"/>
<path d="M657.4 1657.2A728.3 728.3 0 0 0 662.4 1659.6L666.9 1650.1A717.8 717.8 0 0 1 661.9 1647.8ZM689.7 1683.3A738.8 738.8 0 0 0 694.8 1685.4L698.7 1675.7A728.3 728.3 0 0 1 693.7 1673.6ZM728.2 1675.8A717.8 717.8 0 0 0 733.4 1677.7L736.9 1667.8A707.3 707.3 0 0 1 731.8 1665.9ZM765.7 1688.3A717.8 717.8 0 0 0 771.0 1689.9L774.0 1679.8A707.3 707.3 0 0 1 768.7 1678.3ZM845.3 1729.0A738.8 738.8 0 0 0 850.7 1729.9L852.5 1719.5A728.3 728.3 0 0 1 847.1 1718.6ZM873.2 1733.3A738.8 738.8 0 0 0 878.0 1734.0L879.3 1723.6A728.3 728.3 0 0 1 874.6 1722.9ZM900.5 1726.0A728.3 728.3 0 0 0 906.0 1726.6L907.0 1716.1A717.8 717.8 0 0 1 901.5 1715.6ZM892.8 1735.8A738.8 738.8 0 0 0 898.3 1736.4L899.3 1725.9A728.3 728.3 0 0 1 893.9 1725.4ZM919.3 1738.2A738.8 738.8 0 0 0 924.8 1738.6L925.5 1728.2A728.3 728.3 0 0 1 920.0 1727.8ZM1043.1 1737.1A738.8 738.8 0 0 0 1048.6 1736.6L1047.5 1726.1A728.3 728.3 0 0 1 1042.1 1726.6ZM1036.3 1748.2A749.3 749.3 0 0 0 1041.8 1747.8L1040.9 1737.3A738.8 738.8 0 0 1 1035.5 1737.8Z" fill="#c56f9f"/>
<path d="M983.0 1488.2A486.8 486.8 0 0 0 987.0 1488.1L986.7 1477.6A476.3 476.3 0 0 1 982.8 1477.7ZM1009.6 1487.0A486.8 486.8 0 0 0 1013.6 1486.7L1012.8 1476.2A476.3 476.3 0 0 1 1008.9 1476.5ZM1036.3 1484.3A486.8 486.8 0 0 0 1040.3 1483.8L1038.8 1473.4A476.3 476.3 0 0 1 1035.0 1473.9ZM983.9 1530.2A528.8 528.8 0 0 0 988.3 1530.1L988.1 1519.6A518.3 518.3 0 0 1 983.7 1519.7ZM1012.9 1528.9A528.8 528.8 0 0 0 1016.9 1528.6L1016.1 1518.1A518.3 518.3 0 0 1 1012.2 1518.4ZM1041.8 1526.0A528.8 528.8 0 0 0 1045.7 1525.5L1044.3 1515.0A518.3 518.3 0 0 1 1040.4 1515.6Z" fill="#ece04c"/>
<path d="M1001.0 1424.5A423.8 423.8 0 0 0 1004.6 1424.2L1003.8 1413.7A413.3 413.3 0 0 1 1000.4 1414.0ZM1021.0 1422.7A423.8 423.8 0 0 0 1024.6 1422.3L1023.3 1411.9A413.3 413.3 0 0 1 1019.9 1412.3ZM1040.1 1420.2A423.8 423.8 0 0 0 1047.8 1418.9L1046.0 1408.5A413.3 413.3 0 0 1 1038.5 1409.8ZM1056.8 1417.2A423.8 423.8 0 0 0 1060.3 1416.5L1058.2 1406.2A413.3 413.3 0 0 1 1054.8 1406.9ZM1035.5 1410.2A413.3 413.3 0 0 0 1038.6 1409.8L1036.9 1399.4A402.8 402.8 0 0 1 1033.9 1399.9Z" fill="#1b9b6b"/>
<path d="M810.2 1624.5A644.3 644.3 0 0 0 844.6 1632.6L846.7 1622.3A633.8 633.8 0 0 1 812.8 1614.4ZM938.6 1644.8A644.3 644.3 0 0 0 974.4 1645.8L974.4 1635.3A633.8 633.8 0 0 1 939.2 1634.3ZM796.2 1675.1A696.8 696.8 0 0 0 833.7 1684.0L835.8 1673.7A686.3 686.3 0 0 1 798.8 1665.0ZM935.3 1697.2A696.8 696.8 0 0 0 974.4 1698.3L974.4 1687.8A686.3 686.3 0 0 1 935.9 1686.7Z" fill="#64b774"/>
<path d="M734.1 1700.2A738.8 738.8 0 0 0 746.3 1704.2L749.6 1694.3A728.3 728.3 0 0 1 737.5 1690.2ZM785.2 1715.7A738.8 738.8 0 0 0 825.9 1725.2L828.0 1715.0A728.3 728.3 0 0 1 787.9 1705.5ZM933.1 1739.2A738.8 738.8 0 0 0 974.4 1740.3L974.4 1729.8A728.3 728.3 0 0 1 933.7 1728.7Z" fill="#c56f9f"/>
<path d="M872.4 1839.1A843.8 843.8 0 0 0 881.4 1840.2L882.6 1829.7A833.3 833.3 0 0 1 873.7 1828.7ZM981.6 1866.3A864.8 864.8 0 0 0 990.7 1866.1L990.5 1855.6A854.3 854.3 0 0 1 981.5 1855.8ZM1005.3 1865.7A864.8 864.8 0 0 0 1014.4 1865.4L1013.9 1854.9A854.3 854.3 0 0 1 1005.0 1855.2ZM1029.0 1864.6A864.8 864.8 0 0 0 1038.1 1863.9L1037.3 1853.5A854.3 854.3 0 0 1 1028.4 1854.1ZM1054.6 1809.8A812.3 812.3 0 0 0 1063.6 1808.9L1062.4 1798.4A801.8 801.8 0 0 1 1053.5 1799.4Z" fill="#2d2a78"/>
<path d="M795.4 1911.9A927.8 927.8 0 0 0 804.3 1913.6L806.2 1903.3A917.3 917.3 0 0 1 797.4 1901.6ZM1015.8 1917.9A917.3 917.3 0 0 0 1024.8 1917.4L1024.2 1906.9A906.8 906.8 0 0 1 1015.3 1907.4ZM1050.7 1926.2A927.8 927.8 0 0 0 1059.7 1925.4L1058.7 1914.9A917.3 917.3 0 0 1 1049.8 1915.7Z" fill="#dda5c3"/>
<path d="M1069.1 1861.1A864.8 864.8 0 0 0 1078.1 1860.0L1076.8 1849.6A854.3 854.3 0 0 1 1068.0 1850.7ZM1089.5 1837.4A843.8 843.8 0 0 0 1098.5 1836.1L1097.0 1825.7A833.3 833.3 0 0 1 1088.1 1827.0ZM1132.0 1851.8A864.8 864.8 0 0 0 1140.9 1850.1L1138.9 1839.8A854.3 854.3 0 0 1 1130.1 1841.5ZM1181.4 1819.5A843.8 843.8 0 0 0 1190.1 1817.2L1187.4 1807.1A833.3 833.3 0 0 1 1178.8 1809.3ZM1245.2 1767.3A812.3 812.3 0 0 0 1253.7 1764.2L1250.1 1754.4A801.8 801.8 0 0 1 1241.7 1757.4ZM1343.8 1783.4A864.8 864.8 0 0 0 1351.9 1779.5L1347.4 1770.0A854.3 854.3 0 0 1 1339.3 1773.9ZM1367.6 1712.2A812.3 812.3 0 0 0 1375.5 1707.8L1370.4 1698.7A801.8 801.8 0 0 1 1362.6 1703.0ZM1444.1 1664.2A812.3 812.3 0 0 0 1451.5 1658.9L1445.3 1650.4A801.8 801.8 0 0 1 1438.0 1655.6ZM1462.5 1676.8A833.3 833.3 0 0 0 1469.8 1671.5L1463.6 1663.0A822.8 822.8 0 0 1 1456.3 1668.3ZM1444.0 1689.8A833.3 833.3 0 0 0 1451.5 1684.6L1445.5 1676.0A822.8 822.8 0 0 1 1438.1 1681.1ZM1454.2 1720.9A864.8 864.8 0 0 0 1461.8 1715.8L1455.8 1707.2A854.3 854.3 0 0 1 1448.4 1712.2Z" fill="#2d2a78"/>
<path d="M1040.8 1737.3A738.8 738.8 0 0 0 1049.8 1736.4L1048.7 1726.0A728.3 728.3 0 0 1 1039.9 1726.8ZM1034.5 1748.4A749.3 749.3 0 0 0 1043.5 1747.6L1042.6 1737.1A738.8 738.8 0 0 1 1033.7 1737.9ZM1076.2 1743.8A749.3 749.3 0 0 0 1085.2 1742.6L1083.6 1732.2A738.8 738.8 0 0 1 1074.8 1733.4ZM1101.5 1729.3A738.8 738.8 0 0 0 1110.4 1727.7L1108.4 1717.3A728.3 728.3 0 0 1 1099.7 1718.9ZM1121.7 1725.4A738.8 738.8 0 0 0 1130.6 1723.6L1128.4 1713.3A728.3 728.3 0 0 1 1119.7 1715.1ZM1197.4 1716.8A749.3 749.3 0 0 0 1206.1 1714.1L1202.8 1704.1A738.8 738.8 0 0 1 1194.3 1706.8ZM1283.2 1672.6A738.8 738.8 0 0 0 1291.4 1668.8L1286.9 1659.3A728.3 728.3 0 0 1 1278.8 1663.1ZM1443.1 1558.9A728.3 728.3 0 0 0 1450.0 1553.0L1443.1 1545.0A717.8 717.8 0 0 1 1436.3 1550.8ZM1490.5 1530.1A738.8 738.8 0 0 0 1496.9 1523.7L1489.5 1516.3A728.3 728.3 0 0 1 1483.2 1522.5Z" fill="#c56f9f"/>
<path d="M1016.0 1917.9A917.3 917.3 0 0 0 1025.0 1917.4L1024.5 1906.9A906.8 906.8 0 0 1 1015.5 1907.4ZM1050.6 1926.2A927.8 927.8 0 0 0 1059.6 1925.4L1058.7 1914.9A917.3 917.3 0 0 1 1049.7 1915.7ZM1067.7 1924.6A927.8 927.8 0 0 0 1076.7 1923.6L1075.5 1913.2A917.3 917.3 0 0 1 1066.6 1914.1ZM1158.1 1900.2A917.3 917.3 0 0 0 1167.0 1898.3L1164.8 1888.1A906.8 906.8 0 0 1 1156.0 1889.9ZM1154.2 1922.4A938.3 938.3 0 0 0 1163.0 1920.6L1160.9 1910.3A927.8 927.8 0 0 1 1152.2 1912.1ZM1188.2 1915.1A938.3 938.3 0 0 0 1197.0 1913.0L1194.5 1902.8A927.8 927.8 0 0 1 1185.8 1904.9ZM1202.1 1900.9A927.8 927.8 0 0 0 1210.8 1898.6L1208.2 1888.5A917.3 917.3 0 0 1 1199.5 1890.7ZM1283.8 1876.1A927.8 927.8 0 0 0 1292.4 1873.1L1288.8 1863.2A917.3 917.3 0 0 1 1280.3 1866.2ZM1350.9 1837.9A917.3 917.3 0 0 0 1359.1 1834.2L1354.7 1824.7A906.8 906.8 0 0 1 1346.6 1828.4ZM1373.8 1827.2A917.3 917.3 0 0 0 1382.0 1823.2L1377.3 1813.8A906.8 906.8 0 0 1 1369.3 1817.8ZM1424.4 1812.8A927.8 927.8 0 0 0 1432.3 1808.4L1427.1 1799.3A917.3 917.3 0 0 1 1419.3 1803.7Z" fill="#dda5c3"/>
<path d="M1109.8 1855.6A864.8 864.8 0 0 0 1124.7 1853.1L1122.9 1842.8A854.3 854.3 0 0 1 1108.1 1845.3ZM1156.8 1846.8A864.8 864.8 0 0 0 1171.9 1843.4L1169.5 1833.2A854.3 854.3 0 0 1 1154.6 1836.6Z" fill="#2d2a78"/>
<path d="M1388.7 1831.6A927.8 927.8 0 0 0 1401.0 1825.3L1396.2 1816.0A917.3 917.3 0 0 1 1384.0 1822.2ZM1470.1 1785.7A927.8 927.8 0 0 0 1482.4 1777.8L1476.6 1769.0A917.3 917.3 0 0 1 1464.5 1776.8Z" fill="#dda5c3"/>
<path d="M1013.6 1528.8A528.8 528.8 0 0 0 1017.3 1528.6L1016.4 1518.1A518.3 518.3 0 0 1 1012.8 1518.4ZM1042.5 1525.9A528.8 528.8 0 0 0 1046.2 1525.4L1044.8 1515.0A518.3 518.3 0 0 1 1041.2 1515.5ZM1065.5 1511.7A518.3 518.3 0 0 0 1069.2 1511.0L1067.3 1500.7A507.8 507.8 0 0 1 1063.7 1501.4ZM1114.2 1511.5A528.8 528.8 0 0 0 1117.7 1510.5L1114.9 1500.4A518.3 518.3 0 0 1 1111.4 1501.3ZM1167.3 1527.5A560.3 560.3 0 0 0 1170.8 1526.2L1167.1 1516.4A549.8 549.8 0 0 1 1163.7 1517.6ZM1117.5 1543.2A560.3 560.3 0 0 0 1121.1 1542.2L1118.3 1532.1A549.8 549.8 0 0 1 1114.8 1533.0Z" fill="#ece04c"/>
<path d="M1351.3 1511.0A633.8 633.8 0 0 0 1356.5 1507.1L1350.2 1498.7A623.3 623.3 0 0 1 1345.0 1502.6Z" fill="#64b774"/>
<path d="M1786.3 1025.3A812.3 812.3 0 0 0 1786.5 1016.2L1776.0 1016.0A801.8 801.8 0 0 1 1775.8 1025.0ZM1834.5 1090.3A864.8 864.8 0 0 0 1835.4 1081.3L1825.0 1080.3A854.3 854.3 0 0 1 1824.1 1089.2ZM1790.1 1171.3A833.3 833.3 0 0 0 1791.9 1162.4L1781.6 1160.3A822.8 822.8 0 0 1 1779.8 1169.1ZM1809.9 1224.4A864.8 864.8 0 0 0 1812.2 1215.6L1802.0 1213.0A854.3 854.3 0 0 1 1799.7 1221.6ZM1775.3 1231.2A833.3 833.3 0 0 0 1777.8 1222.5L1767.6 1219.7A822.8 822.8 0 0 1 1765.2 1228.3ZM1732.5 1347.2A833.3 833.3 0 0 0 1736.2 1338.9L1726.6 1334.7A822.8 822.8 0 0 1 1722.9 1342.9ZM1732.7 1417.1A864.8 864.8 0 0 0 1737.0 1409.2L1727.7 1404.2A854.3 854.3 0 0 1 1723.5 1412.1ZM1700.0 1471.8A864.8 864.8 0 0 0 1704.9 1464.2L1696.0 1458.6A854.3 854.3 0 0 1 1691.2 1466.1ZM1686.6 1491.9A864.8 864.8 0 0 0 1691.7 1484.4L1683.0 1478.5A854.3 854.3 0 0 1 1678.0 1485.9ZM1612.6 1503.8A812.3 812.3 0 0 0 1618.2 1496.7L1609.9 1490.3A801.8 801.8 0 0 1 1604.4 1497.4ZM1648.4 1509.1A843.8 843.8 0 0 0 1653.8 1501.8L1645.4 1495.5A833.3 833.3 0 0 1 1640.0 1502.8Z" fill="#2d2a78"/>
<path d="M1723.4 1017.0A749.3 749.3 0 0 0 1723.6 1007.9L1713.1 1007.8A738.8 738.8 0 0 1 1712.9 1016.8ZM1712.2 1037.2A738.8 738.8 0 0 0 1712.6 1028.1L1702.1 1027.8A728.3 728.3 0 0 1 1701.7 1036.7ZM1694.4 1110.3A728.3 728.3 0 0 0 1695.7 1101.3L1685.3 1099.9A717.8 717.8 0 0 1 1684.0 1108.7ZM1689.7 1185.8A738.8 738.8 0 0 0 1692.0 1177.0L1681.8 1174.5A728.3 728.3 0 0 1 1679.6 1183.2ZM1657.3 1254.3A728.3 728.3 0 0 0 1660.4 1245.8L1650.5 1242.3A717.8 717.8 0 0 1 1647.5 1250.7ZM1610.3 1397.6A749.3 749.3 0 0 0 1615.1 1389.9L1606.1 1384.5A738.8 738.8 0 0 1 1601.4 1392.1ZM1581.4 1403.8A728.3 728.3 0 0 0 1586.4 1396.2L1577.5 1390.5A717.8 717.8 0 0 1 1572.6 1398.0ZM1566.6 1443.1A738.8 738.8 0 0 0 1572.0 1435.7L1563.5 1429.6A728.3 728.3 0 0 1 1558.2 1436.8ZM1549.6 1448.1A728.3 728.3 0 0 0 1555.1 1440.9L1546.8 1434.5A717.8 717.8 0 0 1 1541.3 1441.6ZM1518.5 1501.1A738.8 738.8 0 0 0 1524.6 1494.4L1516.8 1487.4A728.3 728.3 0 0 1 1510.8 1494.0ZM1530.6 1503.5A749.3 749.3 0 0 0 1536.6 1496.7L1528.7 1489.8A738.8 738.8 0 0 1 1522.8 1496.5Z" fill="#c56f9f"/>
<path d="M1898.1 1087.5A927.8 927.8 0 0 0 1898.9 1078.4L1888.4 1077.6A917.3 917.3 0 0 1 1887.7 1086.5ZM1890.5 1147.5A927.8 927.8 0 0 0 1891.9 1138.5L1881.5 1137.0A917.3 917.3 0 0 1 1880.2 1145.8ZM1886.2 1172.5A927.8 927.8 0 0 0 1887.8 1163.6L1877.5 1161.7A917.3 917.3 0 0 1 1875.9 1170.6ZM1868.7 1248.4A927.8 927.8 0 0 0 1871.0 1239.6L1860.9 1236.9A917.3 917.3 0 0 1 1858.5 1245.6ZM1861.6 1272.7A927.8 927.8 0 0 0 1864.2 1264.0L1854.1 1261.0A917.3 917.3 0 0 1 1851.5 1269.6ZM1819.7 1357.5A917.3 917.3 0 0 0 1823.2 1349.1L1813.5 1345.1A906.8 906.8 0 0 1 1810.0 1353.4Z" fill="#dda5c3"/>
<path d="M1728.3 1303.7A812.3 812.3 0 0 0 1734.3 1288.2L1724.5 1284.5A801.8 801.8 0 0 1 1718.6 1299.8ZM1741.0 1401.6A864.8 864.8 0 0 0 1748.5 1386.8L1739.1 1382.1A854.3 854.3 0 0 1 1731.7 1396.7Z" fill="#2d2a78"/>
<path d="M1721.5 1058.0A749.3 749.3 0 0 0 1722.5 1042.8L1712.0 1042.2A738.8 738.8 0 0 1 1711.0 1057.2Z" fill="#c56f9f"/>
<path d="M1895.4 1112.8A927.8 927.8 0 0 0 1897.2 1096.3L1886.8 1095.3A917.3 917.3 0 0 1 1885.0 1111.6ZM1877.4 1214.1A927.8 927.8 0 0 0 1881.1 1197.9L1870.8 1195.7A917.3 917.3 0 0 1 1867.2 1211.7ZM1823.2 1376.0A927.8 927.8 0 0 0 1829.2 1362.0L1819.5 1357.9A917.3 917.3 0 0 1 1813.6 1371.7ZM1780.2 1461.2A927.8 927.8 0 0 0 1788.3 1446.7L1779.1 1441.7A917.3 917.3 0 0 1 1771.1 1456.0ZM1773.5 1493.2A938.3 938.3 0 0 0 1782.0 1479.0L1772.9 1473.7A927.8 927.8 0 0 1 1764.5 1487.7Z" fill="#dda5c3"/>
<path d="M1490.8 1044.4A518.3 518.3 0 0 0 1491.1 1040.5L1480.7 1039.7A507.8 507.8 0 0 1 1480.4 1043.5ZM1488.3 1068.0A518.3 518.3 0 0 0 1488.8 1064.1L1478.4 1062.9A507.8 507.8 0 0 1 1477.9 1066.7ZM1450.0 1105.0A486.8 486.8 0 0 0 1450.8 1101.2L1440.5 1099.1A476.3 476.3 0 0 1 1439.7 1102.8ZM1441.6 1137.7A486.8 486.8 0 0 0 1442.4 1135.1L1432.3 1132.2A476.3 476.3 0 0 1 1431.6 1134.8ZM1444.8 1218.8A518.3 518.3 0 0 0 1446.2 1215.8L1436.7 1211.5A507.8 507.8 0 0 1 1435.3 1214.4Z" fill="#ece04c"/>
<path d="M1583.0 1539.4A812.3 812.3 0 0 0 1589.0 1532.6L1581.0 1525.7A801.8 801.8 0 0 1 1575.1 1532.4ZM1583.4 1570.2A833.3 833.3 0 0 0 1589.6 1563.5L1581.8 1556.4A822.8 822.8 0 0 1 1575.7 1563.0ZM1595.7 1603.0A864.8 864.8 0 0 0 1601.9 1596.4L1594.3 1589.2A854.3 854.3 0 0 1 1588.1 1595.7Z" fill="#2d2a78"/>
<path d="M1743.3 1520.5A927.8 927.8 0 0 0 1748.4 1513.0L1739.6 1507.2A917.3 917.3 0 0 1 1734.6 1514.7ZM1667.7 1602.0A917.3 917.3 0 0 0 1673.6 1595.1L1665.6 1588.4A906.8 906.8 0 0 1 1659.8 1595.2ZM1617.5 1670.2A927.8 927.8 0 0 0 1624.0 1663.8L1616.7 1656.3A917.3 917.3 0 0 1 1610.2 1662.6ZM1598.1 1688.3A927.8 927.8 0 0 0 1604.8 1682.2L1597.7 1674.5A917.3 917.3 0 0 1 1591.1 1680.5ZM1579.3 1704.9A927.8 927.8 0 0 0 1586.2 1698.9L1579.3 1691.0A917.3 917.3 0 0 1 1572.5 1696.9ZM1565.6 1716.5A927.8 927.8 0 0 0 1572.5 1710.7L1565.7 1702.7A917.3 917.3 0 0 1 1558.9 1708.4ZM1510.6 1771.4A938.3 938.3 0 0 0 1518.0 1766.2L1511.9 1757.7A927.8 927.8 0 0 1 1504.6 1762.8ZM1725.4 1546.2A927.8 927.8 0 0 0 1737.4 1529.2L1728.8 1523.2A917.3 917.3 0 0 1 1716.9 1540.0Z" fill="#dda5c3"/>
<path d="M1434.6 1437.2A633.8 633.8 0 0 0 1438.0 1433.6L1430.3 1426.5A623.3 623.3 0 0 1 1427.0 1430.0Z" fill="#64b774"/>
<path d="M1398.1 1006.3A423.8 423.8 0 0 0 1398.1 1001.5L1387.6 1001.5A413.3 413.3 0 0 1 1387.6 1006.1ZM1379.7 1081.8A413.3 413.3 0 0 0 1380.7 1076.9L1370.3 1075.0A402.8 402.8 0 0 1 1369.4 1079.8ZM1338.4 1197.1A413.3 413.3 0 0 0 1340.5 1193.1L1331.2 1188.3A402.8 402.8 0 0 1 1329.2 1192.1ZM1331.2 1210.0A413.3 413.3 0 0 0 1333.4 1206.1L1324.3 1200.9A402.8 402.8 0 0 1 1322.1 1204.7ZM1304.9 1266.7A423.8 423.8 0 0 0 1307.3 1263.7L1299.0 1257.2A413.3 413.3 0 0 1 1296.7 1260.1ZM1222.8 1331.7A413.3 413.3 0 0 0 1225.5 1329.7L1219.1 1321.4A402.8 402.8 0 0 1 1216.5 1323.3ZM1235.6 1335.2A423.8 423.8 0 0 0 1238.2 1333.1L1231.7 1324.9A413.3 413.3 0 0 1 1229.1 1326.9ZM1100.1 1328.4A350.3 350.3 0 0 0 1103.2 1327.2L1099.4 1317.4A339.8 339.8 0 0 1 1096.3 1318.6ZM1057.1 1341.9A350.3 350.3 0 0 0 1060.3 1341.1L1057.7 1330.9A339.8 339.8 0 0 1 1054.6 1331.7ZM1109.1 1347.5A371.3 371.3 0 0 0 1119.4 1343.3L1115.3 1333.6A360.8 360.8 0 0 1 1105.2 1337.7ZM1105.5 1348.8A371.3 371.3 0 0 0 1108.6 1347.7L1104.8 1337.9A360.8 360.8 0 0 1 1101.8 1339.0ZM1074.2 1359.1A371.3 371.3 0 0 0 1086.2 1355.5L1083.0 1345.5A360.8 360.8 0 0 1 1071.4 1349.0ZM1171.6 1364.7A413.3 413.3 0 0 0 1175.0 1362.8L1169.9 1353.6A402.8 402.8 0 0 1 1166.6 1355.4ZM1173.4 1375.6A423.8 423.8 0 0 0 1176.9 1373.8L1171.8 1364.5A413.3 413.3 0 0 1 1168.5 1366.3ZM1155.3 1384.7A423.8 423.8 0 0 0 1158.8 1383.0L1154.3 1373.6A413.3 413.3 0 0 1 1150.9 1375.2ZM1105.1 1393.6A413.3 413.3 0 0 0 1108.8 1392.3L1105.4 1382.4A402.8 402.8 0 0 1 1101.8 1383.6ZM1062.6 1416.0A423.8 423.8 0 0 0 1074.7 1413.2L1072.3 1403.0A413.3 413.3 0 0 1 1060.4 1405.7Z" fill="#1b9b6b"/>
<path d="M1051.4 1278.3A287.3 287.3 0 0 0 1060.8 1275.5L1057.6 1265.5A276.8 276.8 0 0 1 1048.6 1268.1ZM1076.0 1270.2A287.3 287.3 0 0 0 1078.6 1269.2L1074.8 1259.4A276.8 276.8 0 0 1 1072.3 1260.4ZM1081.3 1268.1A287.3 287.3 0 0 0 1083.9 1267.1L1079.9 1257.4A276.8 276.8 0 0 1 1077.4 1258.4ZM1090.0 1275.9A297.8 297.8 0 0 0 1092.6 1274.8L1088.4 1265.2A287.3 287.3 0 0 1 1085.9 1266.2ZM1094.3 1274.1A297.8 297.8 0 0 0 1096.8 1272.9L1092.5 1263.4A287.3 287.3 0 0 1 1090.0 1264.5ZM1107.1 1268.0A297.8 297.8 0 0 0 1110.6 1266.3L1105.8 1256.9A287.3 287.3 0 0 1 1102.5 1258.6ZM1126.0 1257.8A297.8 297.8 0 0 0 1128.3 1256.4L1122.9 1247.4A287.3 287.3 0 0 1 1120.6 1248.8ZM1137.7 1275.2A318.8 318.8 0 0 0 1140.1 1273.8L1134.6 1264.8A308.3 308.3 0 0 1 1132.3 1266.2ZM1098.5 1295.1A318.8 318.8 0 0 0 1101.1 1294.0L1096.9 1284.4A308.3 308.3 0 0 1 1094.4 1285.4ZM1103.2 1293.1A318.8 318.8 0 0 0 1105.7 1291.9L1101.4 1282.4A308.3 308.3 0 0 1 1098.9 1283.5ZM1093.5 1308.5A329.3 329.3 0 0 0 1096.1 1307.5L1092.2 1297.7A318.8 318.8 0 0 1 1089.7 1298.7ZM1001.6 1298.0A297.8 297.8 0 0 0 1004.4 1297.8L1003.3 1287.3A287.3 287.3 0 0 1 1000.6 1287.6ZM1052.3 1321.4A329.3 329.3 0 0 0 1055.0 1320.8L1052.4 1310.6A318.8 318.8 0 0 1 1049.8 1311.2Z" fill="#5ba6d6"/>
<path d="M1070.9 1019.5A98.3 98.3 0 0 0 1071.3 1017.3L1061.0 1015.6A87.8 87.8 0 0 1 1060.6 1017.6ZM1133.9 1024.6A161.3 161.3 0 0 0 1134.2 1022.4L1123.8 1021.0A150.8 150.8 0 0 1 1123.5 1023.1ZM1130.9 1040.0A161.3 161.3 0 0 0 1131.5 1037.8L1121.2 1035.5A150.8 150.8 0 0 1 1120.7 1037.5ZM1057.4 1054.0A98.3 98.3 0 0 0 1058.6 1052.0L1049.6 1046.6A87.8 87.8 0 0 1 1048.6 1048.4ZM1118.3 1074.2A161.3 161.3 0 0 0 1120.3 1070.2L1110.8 1065.7A150.8 150.8 0 0 1 1108.9 1069.5ZM972.5 1099.8A98.3 98.3 0 0 0 974.8 1099.8L974.8 1089.3A87.8 87.8 0 0 1 972.7 1089.3ZM991.4 1098.3A98.3 98.3 0 0 0 993.7 1097.9L991.6 1087.6A87.8 87.8 0 0 1 989.6 1088.0ZM1002.6 1095.6A98.3 98.3 0 0 0 1004.8 1094.9L1001.5 1085.0A87.8 87.8 0 0 1 999.6 1085.6ZM1084.7 1119.1A161.3 161.3 0 0 0 1089.1 1114.8L1081.6 1107.4A150.8 150.8 0 0 1 1077.5 1111.5ZM1040.6 1148.5A161.3 161.3 0 0 0 1048.3 1144.8L1043.5 1135.5A150.8 150.8 0 0 1 1036.3 1139.0ZM974.0 1162.8A161.3 161.3 0 0 0 976.3 1162.8L976.1 1152.3A150.8 150.8 0 0 1 974.0 1152.3ZM982.4 1183.6A182.3 182.3 0 0 0 984.7 1183.5L984.1 1173.0A171.8 171.8 0 0 1 981.9 1173.1Z" fill="#e29a2b"/>
<path d="M1450.0 1105.0A486.8 486.8 0 0 0 1450.8 1101.2L1440.5 1099.0A476.3 476.3 0 0 1 1439.7 1102.7ZM1441.3 1139.0A486.8 486.8 0 0 0 1442.4 1135.2L1432.3 1132.3A476.3 476.3 0 0 1 1431.2 1136.0ZM1434.0 1161.6A486.8 486.8 0 0 0 1437.5 1151.1L1427.5 1147.9A476.3 476.3 0 0 1 1424.1 1158.2ZM1413.5 1211.4A486.8 486.8 0 0 0 1415.4 1207.4L1405.9 1203.0A476.3 476.3 0 0 1 1404.0 1206.9ZM1444.0 1220.7A518.3 518.3 0 0 0 1446.1 1216.1L1436.5 1211.8A507.8 507.8 0 0 1 1434.5 1216.2ZM1370.4 1335.8A518.3 518.3 0 0 0 1378.4 1326.1L1370.2 1319.5A507.8 507.8 0 0 1 1362.4 1329.0ZM1297.4 1406.8A518.3 518.3 0 0 0 1300.4 1404.3L1293.8 1396.2A507.8 507.8 0 0 1 1290.9 1398.5ZM1225.1 1418.7A486.8 486.8 0 0 0 1233.4 1413.6L1227.8 1404.7A476.3 476.3 0 0 1 1219.7 1409.7ZM1219.2 1422.2A486.8 486.8 0 0 0 1222.1 1420.5L1216.8 1411.5A476.3 476.3 0 0 1 1214.0 1413.1ZM1225.1 1443.1A507.8 507.8 0 0 0 1228.4 1441.1L1223.2 1432.0A497.3 497.3 0 0 1 1219.9 1433.9ZM1167.2 1448.4A486.8 486.8 0 0 0 1171.3 1446.7L1167.0 1437.1A476.3 476.3 0 0 1 1163.1 1438.8ZM1247.1 1454.5A528.8 528.8 0 0 0 1255.4 1449.4L1249.8 1440.5A518.3 518.3 0 0 1 1241.7 1445.5ZM1239.6 1458.9A528.8 528.8 0 0 0 1242.5 1457.2L1237.2 1448.2A518.3 518.3 0 0 1 1234.4 1449.8ZM1213.2 1461.5A518.3 518.3 0 0 0 1216.6 1459.7L1211.7 1450.4A507.8 507.8 0 0 1 1208.3 1452.2ZM1132.8 1461.8A486.8 486.8 0 0 0 1136.5 1460.5L1133.0 1450.6A476.3 476.3 0 0 1 1129.4 1451.8ZM1102.4 1471.1A486.8 486.8 0 0 0 1106.2 1470.1L1103.4 1460.0A476.3 476.3 0 0 1 1099.7 1461.0ZM1149.4 1478.2A507.8 507.8 0 0 0 1153.0 1476.8L1149.3 1467.0A497.3 497.3 0 0 1 1145.8 1468.3ZM1105.1 1492.2A507.8 507.8 0 0 0 1108.8 1491.2L1106.0 1481.0A497.3 497.3 0 0 1 1102.4 1482.0ZM1182.4 1487.6A528.8 528.8 0 0 0 1185.9 1486.1L1181.7 1476.5A518.3 518.3 0 0 1 1178.2 1478.0ZM1251.9 1488.2A560.3 560.3 0 0 0 1255.2 1486.3L1250.0 1477.2A549.8 549.8 0 0 1 1246.7 1479.1Z" fill="#ece04c"/>
<path d="M1433.4 1438.4A633.8 633.8 0 0 0 1438.2 1433.4L1430.5 1426.3A623.3 623.3 0 0 1 1425.8 1431.2Z" fill="#64b774"/>
<path d="M393.1 361.1A864.8 864.8 0 0 0 368.4 384.5L375.7 392.0A854.3 854.3 0 0 1 400.1 368.9ZM407.4 376.5A843.8 843.8 0 0 0 383.2 399.3L390.6 406.8A833.3 833.3 0 0 1 414.5 384.2ZM455.3 376.6A812.3 812.3 0 0 0 445.3 385.1L452.1 393.1A801.8 801.8 0 0 1 462.0 384.7ZM434.1 394.9A812.3 812.3 0 0 0 427.4 400.9L434.4 408.7A801.8 801.8 0 0 1 441.0 402.7Z" fill="#2d2a78"/>
<path d="M367.8 271.9A948.8 948.8 0 0 0 359.2 279.1L366.0 287.1A938.3 938.3 0 0 1 374.5 280.0ZM369.2 298.2A927.8 927.8 0 0 0 362.4 304.1L369.3 312.0A917.3 917.3 0 0 1 376.0 306.2ZM387.6 296.4A917.3 917.3 0 0 0 379.0 303.6L385.8 311.6A906.8 906.8 0 0 1 394.3 304.5ZM310.8 323.3A948.8 948.8 0 0 0 304.4 329.6L311.8 337.1A938.3 938.3 0 0 1 318.1 330.8ZM320.1 343.6A927.8 927.8 0 0 0 313.5 350.3L320.9 357.6A917.3 917.3 0 0 1 327.5 351.1ZM332.7 345.9A917.3 917.3 0 0 0 326.0 352.5L333.5 359.9A906.8 906.8 0 0 1 340.0 353.4ZM307.4 356.5A927.8 927.8 0 0 0 301.1 363.0L308.8 370.2A917.3 917.3 0 0 1 314.9 363.8ZM303.8 375.5A917.3 917.3 0 0 0 297.7 382.1L305.4 389.2A906.8 906.8 0 0 1 311.5 382.6ZM280.0 402.1A917.3 917.3 0 0 0 271.5 412.0L279.5 418.8A906.8 906.8 0 0 1 287.9 408.9Z" fill="#dda5c3"/>
<path d="M907.5 1000.6A66.8 66.8 0 0 0 907.5 1003.5L918.0 1003.2A56.3 56.3 0 0 1 918.0 1000.7ZM951.0 927.8A77.3 77.3 0 0 0 947.9 928.8L951.5 938.7A66.8 66.8 0 0 1 954.2 937.8ZM951.4 938.8A66.8 66.8 0 0 0 949.6 939.4L953.5 949.2A56.3 56.3 0 0 1 955.0 948.6ZM905.9 1037.5A77.3 77.3 0 0 0 907.3 1040.0L916.4 1034.7A66.8 66.8 0 0 1 915.2 1032.6ZM933.6 1067.2A77.3 77.3 0 0 0 937.8 1069.6L942.8 1060.4A66.8 66.8 0 0 1 939.2 1058.3ZM933.9 948.3A66.8 66.8 0 0 0 931.1 950.5L937.9 958.5A56.3 56.3 0 0 1 940.3 956.6ZM943.6 1072.4A77.3 77.3 0 0 0 947.3 1073.9L950.9 1064.1A66.8 66.8 0 0 1 947.7 1062.8ZM910.8 1022.3A66.8 66.8 0 0 0 911.4 1024.1L921.3 1020.5A56.3 56.3 0 0 1 920.8 1019.0ZM1016.3 1039.0A56.3 56.3 0 0 0 1017.9 1037.1L1009.8 1030.5A45.8 45.8 0 0 1 1008.4 1032.0ZM942.5 1047.9A56.3 56.3 0 0 0 944.9 1049.5L950.4 1040.5A45.8 45.8 0 0 1 948.4 1039.3ZM977.4 1078.7A77.3 77.3 0 0 0 981.4 1078.5L980.4 1068.0A66.8 66.8 0 0 1 977.0 1068.2ZM965.6 1057.1A56.3 56.3 0 0 0 967.3 1057.4L968.6 1046.9A45.8 45.8 0 0 1 967.2 1046.8ZM987.9 1077.6A77.3 77.3 0 0 0 991.9 1076.8L989.5 1066.5A66.8 66.8 0 0 1 986.1 1067.3ZM941.4 1033.4A45.8 45.8 0 0 0 943.4 1035.3L950.5 1027.5A35.3 35.3 0 0 1 948.9 1026.1ZM937.3 1028.5A45.8 45.8 0 0 0 938.4 1030.0L946.7 1023.5A35.3 35.3 0 0 1 945.8 1022.3ZM911.7 978.2A66.8 66.8 0 0 0 910.5 981.8L920.5 984.9A56.3 56.3 0 0 1 921.5 981.9ZM921.9 980.8A56.3 56.3 0 0 0 921.0 983.4L930.9 986.8A45.8 45.8 0 0 1 931.7 984.7ZM1010.7 1029.4A45.8 45.8 0 0 0 1011.7 1027.9L1003.1 1021.9A35.3 35.3 0 0 1 1002.3 1023.0ZM1050.4 1015.1A77.3 77.3 0 0 0 1051.0 1011.4L1040.5 1010.1A66.8 66.8 0 0 1 1040.1 1013.3ZM932.5 963.7A56.3 56.3 0 0 0 931.3 965.1L939.3 971.9A45.8 45.8 0 0 1 940.3 970.8ZM917.0 1053.4A77.3 77.3 0 0 0 920.6 1057.1L927.9 1049.6A66.8 66.8 0 0 1 924.8 1046.3ZM950.3 950.6A56.3 56.3 0 0 0 948.3 951.6L953.1 960.9A45.8 45.8 0 0 1 954.8 960.1ZM928.8 1006.3A45.8 45.8 0 0 0 929.1 1008.7L939.4 1007.0A35.3 35.3 0 0 1 939.2 1005.2ZM909.9 1044.3A77.3 77.3 0 0 0 913.0 1048.5L921.3 1042.1A66.8 66.8 0 0 1 918.7 1038.5ZM913.6 1049.4A77.3 77.3 0 0 0 915.0 1051.1L923.1 1044.4A66.8 66.8 0 0 1 921.9 1042.9ZM980.2 1046.9A45.8 45.8 0 0 0 981.9 1046.7L980.2 1036.3A35.3 35.3 0 0 1 978.8 1036.5ZM920.0 1016.4A56.3 56.3 0 0 0 920.4 1017.8L930.5 1014.8A45.8 45.8 0 0 1 930.1 1013.6ZM919.6 1039.9A66.8 66.8 0 0 0 921.7 1042.7L930.0 1036.2A56.3 56.3 0 0 1 928.2 1033.8ZM925.7 1047.4A66.8 66.8 0 0 0 928.6 1050.2L935.7 1042.5A56.3 56.3 0 0 1 933.4 1040.2ZM932.6 949.3A66.8 66.8 0 0 0 930.4 951.2L937.3 959.1A56.3 56.3 0 0 1 939.2 957.5ZM1015.2 1022.0A45.8 45.8 0 0 0 1015.8 1020.8L1006.3 1016.4A35.3 35.3 0 0 1 1005.9 1017.3ZM926.4 1031.2A56.3 56.3 0 0 0 928.5 1034.2L937.0 1028.1A45.8 45.8 0 0 1 935.4 1025.6ZM1009.0 1045.9A56.3 56.3 0 0 0 1011.4 1043.8L1004.5 1035.9A45.8 45.8 0 0 1 1002.5 1037.6ZM1019.6 1008.3A45.8 45.8 0 0 0 1020.0 1005.2L1009.5 1004.3A35.3 35.3 0 0 1 1009.2 1006.7ZM927.7 953.6A66.8 66.8 0 0 0 926.2 955.2L933.7 962.5A56.3 56.3 0 0 1 935.0 961.2ZM969.2 1078.6A77.3 77.3 0 0 0 972.9 1078.8L973.0 1068.3A66.8 66.8 0 0 1 969.9 1068.2ZM953.4 1053.8A56.3 56.3 0 0 0 955.4 1054.5L958.9 1044.6A45.8 45.8 0 0 1 957.3 1044.0ZM936.0 960.2A56.3 56.3 0 0 0 933.9 962.3L941.4 969.6A45.8 45.8 0 0 1 943.1 967.9ZM907.5 999.0A66.8 66.8 0 0 0 907.5 1002.7L918.0 1002.5A56.3 56.3 0 0 1 918.0 999.4ZM923.6 1059.9A77.3 77.3 0 0 0 926.4 1062.1L932.9 1053.9A66.8 66.8 0 0 1 930.5 1051.9ZM1010.1 1030.0A45.8 45.8 0 0 0 1011.3 1028.5L1002.8 1022.3A35.3 35.3 0 0 1 1001.9 1023.5ZM930.6 1015.3A45.8 45.8 0 0 0 931.4 1017.6L941.2 1013.9A35.3 35.3 0 0 1 940.6 1012.1ZM946.4 929.4A77.3 77.3 0 0 0 941.5 931.5L945.9 941.0A66.8 66.8 0 0 1 950.2 939.2ZM907.1 1039.6A77.3 77.3 0 0 0 908.7 1042.4L917.6 1036.8A66.8 66.8 0 0 1 916.2 1034.5ZM949.6 928.3A77.3 77.3 0 0 0 945.9 929.6L949.7 939.4A66.8 66.8 0 0 1 952.9 938.2ZM941.6 1047.3A56.3 56.3 0 0 0 944.1 1049.0L949.7 1040.2A45.8 45.8 0 0 1 947.7 1038.8ZM947.9 940.1A66.8 66.8 0 0 0 944.7 941.6L949.3 951.0A56.3 56.3 0 0 1 952.0 949.8ZM935.5 960.7A56.3 56.3 0 0 0 932.8 963.5L940.5 970.6A45.8 45.8 0 0 1 942.7 968.3ZM959.8 1045.0A45.8 45.8 0 0 0 961.2 1045.4L964.2 1035.3A35.3 35.3 0 0 1 963.2 1035.0ZM1007.1 1033.5A45.8 45.8 0 0 0 1008.6 1031.9L1000.7 1024.9A35.3 35.3 0 0 1 999.6 1026.1ZM907.7 996.9A66.8 66.8 0 0 0 907.5 999.0L918.0 999.4A56.3 56.3 0 0 1 918.1 997.7ZM918.1 1005.5A56.3 56.3 0 0 0 918.4 1008.1L928.8 1006.9A45.8 45.8 0 0 1 928.6 1004.8ZM980.9 1078.5A77.3 77.3 0 0 0 983.7 1078.2L982.4 1067.8A66.8 66.8 0 0 1 980.0 1068.1ZM1028.0 1018.4A56.3 56.3 0 0 0 1028.5 1016.6L1018.4 1013.8A45.8 45.8 0 0 1 1018.0 1015.3ZM931.3 1065.8A77.3 77.3 0 0 0 935.2 1068.2L940.5 1059.1A66.8 66.8 0 0 1 937.2 1057.0ZM897.7 991.4A77.3 77.3 0 0 0 897.2 995.8L907.7 996.5A66.8 66.8 0 0 1 908.1 992.8ZM920.5 984.9A56.3 56.3 0 0 0 919.5 988.5L929.7 990.9A45.8 45.8 0 0 1 930.5 988.0ZM908.1 1010.2A66.8 66.8 0 0 0 908.6 1013.5L918.9 1011.6A56.3 56.3 0 0 1 918.5 1008.8ZM1000.3 1051.4A56.3 56.3 0 0 0 1003.0 1049.9L997.6 1040.9A45.8 45.8 0 0 1 995.5 1042.1ZM956.4 1065.9A66.8 66.8 0 0 0 960.4 1066.8L962.6 1056.6A56.3 56.3 0 0 1 959.2 1055.7ZM1015.2 1054.3A66.8 66.8 0 0 0 1017.0 1052.8L1010.3 1044.8A56.3 56.3 0 0 1 1008.8 1046.0ZM917.9 1054.3A77.3 77.3 0 0 0 921.7 1058.1L928.8 1050.4A66.8 66.8 0 0 1 925.5 1047.2ZM997.5 1041.0A45.8 45.8 0 0 0 999.0 1040.1L993.3 1031.2A35.3 35.3 0 0 1 992.2 1031.9ZM979.3 1057.6A56.3 56.3 0 0 0 981.8 1057.3L980.4 1046.9A45.8 45.8 0 0 1 978.3 1047.1ZM1026.7 1022.0A56.3 56.3 0 0 0 1028.0 1018.4L1018.0 1015.3A45.8 45.8 0 0 1 1016.9 1018.2ZM908.5 1012.9A66.8 66.8 0 0 0 908.9 1014.9L919.1 1012.8A56.3 56.3 0 0 1 918.8 1011.1ZM929.5 1035.6A56.3 56.3 0 0 0 930.7 1037.1L938.8 1030.5A45.8 45.8 0 0 1 937.8 1029.2ZM957.2 1076.9A77.3 77.3 0 0 0 960.8 1077.6L962.6 1067.3A66.8 66.8 0 0 1 959.6 1066.7ZM967.3 1078.5A77.3 77.3 0 0 0 972.1 1078.8L972.4 1068.3A66.8 66.8 0 0 1 968.2 1068.0ZM947.3 964.5A45.8 45.8 0 0 0 945.1 966.2L951.8 974.3A35.3 35.3 0 0 1 953.5 973.0Z" fill="#cfe3f0"/>
<path d="M974.3 955.7A45.8 45.8 0 1 0 1020.1 1001.5M974.3 945.2A56.3 56.3 0 1 0 1030.6 1001.5M974.3 934.7A66.8 66.8 0 1 0 1041.1 1001.5M974.3 924.2A77.3 77.3 0 1 0 1051.6 1001.5M974.3 913.7A87.8 87.8 0 1 0 1062.1 1001.5M974.3 903.2A98.3 98.3 0 1 0 1072.6 1001.5M974.3 892.7A108.8 108.8 0 1 0 1083.1 1001.5M974.3 882.2A119.3 119.3 0 1 0 1093.6 1001.5M974.3 871.7A129.8 129.8 0 1 0 1104.1 1001.5M974.3 861.2A140.3 140.3 0 1 0 1114.6 1001.5M974.3 850.7A150.8 150.8 0 1 0 1125.1 1001.5M974.3 840.2A161.3 161.3 0 1 0 1135.6 1001.5M974.3 829.7A171.8 171.8 0 1 0 1146.1 1001.5M974.3 819.2A182.3 182.3 0 1 0 1156.6 1001.5M974.3 808.7A192.8 192.8 0 1 0 1167.1 1001.5M974.3 798.2A203.3 203.3 0 1 0 1177.6 1001.5M974.3 787.7A213.8 213.8 0 1 0 1188.1 1001.5M974.3 777.2A224.3 224.3 0 1 0 1198.6 1001.5M974.3 766.7A234.8 234.8 0 1 0 1209.1 1001.5M974.3 756.2A245.3 245.3 0 1 0 1219.6 1001.5M974.3 745.7A255.8 255.8 0 1 0 1230.1 1001.5M974.3 735.2A266.3 266.3 0 1 0 1240.6 1001.5M974.3 724.7A276.8 276.8 0 1 0 1251.1 1001.5M974.3 714.2A287.3 287.3 0 1 0 1261.6 1001.5M974.3 703.7A297.8 297.8 0 1 0 1272.1 1001.5M974.3 693.2A308.3 308.3 0 1 0 1282.6 1001.5M974.3 682.7A318.8 318.8 0 1 0 1293.1 1001.5M974.3 672.2A329.3 329.3 0 1 0 1303.6 1001.5M974.3 661.7A339.8 339.8 0 1 0 1314.1 1001.5M974.3 651.2A350.3 350.3 0 1 0 1324.6 1001.5M974.3 640.7A360.8 360.8 0 1 0 1335.1 1001.5M974.3 630.2A371.3 371.3 0 1 0 1345.6 1001.5M974.3 619.7A381.8 381.8 0 1 0 1356.1 1001.5M974.3 609.2A392.3 392.3 0 1 0 1366.6 1001.5M974.3 598.7A402.8 402.8 0 1 0 1377.1 1001.5M974.3 588.2A413.3 413.3 0 1 0 1387.6 1001.5M974.3 577.7A423.8 423.8 0 1 0 1398.1 1001.5M974.3 567.2A434.3 434.3 0 1 0 1408.6 1001.5M974.3 556.7A444.8 444.8 0 1 0 1419.1 1001.5M974.3 546.2A455.3 455.3 0 1 0 1429.6 1001.5M974.3 535.7A465.8 465.8 0 1 0 1440.1 1001.5M974.3 525.2A476.3 476.3 0 1 0 1450.6 1001.5M974.3 514.7A486.8 486.8 0 1 0 1461.1 1001.5M974.3 504.2A497.3 497.3 0 1 0 1471.6 1001.5M974.3 493.7A507.8 507.8 0 1 0 1482.1 1001.5M974.3 483.2A518.3 518.3 0 1 0 1492.6 1001.5M974.3 472.7A528.8 528.8 0 1 0 1503.1 1001.5M974.3 462.2A539.3 539.3 0 1 0 1513.6 1001.5M974.3 451.7A549.8 549.8 0 1 0 1524.1 1001.5M974.3 441.2A560.3 560.3 0 1 0 1534.6 1001.5M974.3 430.7A570.8 570.8 0 1 0 1545.1 1001.5M974.3 420.2A581.3 581.3 0 1 0 1555.6 1001.5M974.3 409.7A591.8 591.8 0 1 0 1566.1 1001.5M974.3 399.2A602.3 602.3 0 1 0 1576.6 1001.5M974.3 388.7A612.8 612.8 0 1 0 1587.1 1001.5M974.3 378.2A623.3 623.3 0 1 0 1597.6 1001.5M974.3 367.7A633.8 633.8 0 1 0 1608.1 1001.5M974.3 357.2A644.3 644.3 0 1 0 1618.6 1001.5M974.3 346.7A654.8 654.8 0 1 0 1629.1 1001.5M974.3 336.2A665.3 665.3 0 1 0 1639.6 1001.5M974.3 325.7A675.8 675.8 0 1 0 1650.1 1001.5M974.3 315.2A686.3 686.3 0 1 0 1660.6 1001.5M974.3 304.7A696.8 696.8 0 1 0 1671.1 1001.5M974.3 294.2A707.3 707.3 0 1 0 1681.6 1001.5M974.3 283.7A717.8 717.8 0 1 0 1692.1 1001.5M974.3 273.2A728.3 728.3 0 1 0 1702.6 1001.5M974.3 262.7A738.8 738.8 0 1 0 1713.1 1001.5M974.3 252.2A749.3 749.3 0 1 0 1723.6 1001.5M974.3 241.7A759.8 759.8 0 1 0 1734.1 1001.5M974.3 231.2A770.3 770.3 0 1 0 1744.6 1001.5M974.3 220.7A780.8 780.8 0 1 0 1755.1 1001.5M974.3 210.2A791.3 791.3 0 1 0 1765.6 1001.5M974.3 199.7A801.8 801.8 0 1 0 1776.1 1001.5M974.3 189.2A812.3 812.3 0 1 0 1786.6 1001.5M974.3 178.7A822.8 822.8 0 1 0 1797.1 1001.5M974.3 168.2A833.3 833.3 0 1 0 1807.6 1001.5M974.3 157.7A843.8 843.8 0 1 0 1818.1 1001.5M974.3 147.2A854.3 854.3 0 1 0 1828.6 1001.5M974.3 136.7A864.8 864.8 0 1 0 1839.1 1001.5M974.3 126.2A875.3 875.3 0 1 0 1849.6 1001.5M974.3 115.7A885.8 885.8 0 1 0 1860.1 1001.5M974.3 105.2A896.3 896.3 0 1 0 1870.6 1001.5M974.3 94.7A906.8 906.8 0 1 0 1881.1 1001.5M974.3 84.2A917.3 917.3 0 1 0 1891.6 1001.5M974.3 73.7A927.8 927.8 0 1 0 1902.1 1001.5M974.3 63.2A938.3 938.3 0 1 0 1912.6 1001.5" fill="none" stroke="#fff" stroke-opacity="0.45" stroke-width="1.6"/>
</g>
<circle cx="974.3" cy="1001.5" r="35.3" fill="#fff" stroke="#999" stroke-width="1.2"/>
<rect x="979.3" y="52" width="23.2" height="914" fill="#fff"/>
<rect x="979.3" y="924.2" width="23.2" height="41.8" fill="#c3dcec" stroke="#333" stroke-width="1.2"/>
<text x="990.9" y="959.4" font-size="40" fill="#111" text-anchor="middle" textLength="17" lengthAdjust="spacingAndGlyphs">S</text>
<rect x="979.3" y="745.7" width="23.2" height="178.5" fill="#e29a2b" stroke="#333" stroke-width="1.2"/>
<text x="990.9" y="849.2" font-size="40" fill="#111" text-anchor="middle" textLength="19" lengthAdjust="spacingAndGlyphs">A</text>
<rect x="979.3" y="661.7" width="23.2" height="84.0" fill="#5ba6d6" stroke="#333" stroke-width="1.2"/>
<text x="990.9" y="718.0" font-size="40" fill="#111" text-anchor="middle" textLength="17" lengthAdjust="spacingAndGlyphs">B</text>
<rect x="979.3" y="577.7" width="23.2" height="84.0" fill="#1b9b6b" stroke="#333" stroke-width="1.2"/>
<text x="990.9" y="634.0" font-size="40" fill="#111" text-anchor="middle" textLength="19" lengthAdjust="spacingAndGlyphs">C</text>
<rect x="979.3" y="441.2" width="23.2" height="136.5" fill="#ece04c" stroke="#333" stroke-width="1.2"/>
<text x="990.9" y="523.8" font-size="40" fill="#111" text-anchor="middle" textLength="18" lengthAdjust="spacingAndGlyphs">D</text>
<rect x="979.3" y="304.7" width="23.2" height="136.5" fill="#64b774" stroke="#333" stroke-width="1.2"/>
<text x="990.9" y="387.3" font-size="40" fill="#111" text-anchor="middle" textLength="16" lengthAdjust="spacingAndGlyphs">E</text>
<rect x="979.3" y="210.2" width="23.2" height="94.5" fill="#c56f9f" stroke="#333" stroke-width="1.2"/>
<text x="990.9" y="271.8" font-size="40" fill="#111" text-anchor="middle" textLength="15" lengthAdjust="spacingAndGlyphs">F</text>
<rect x="979.3" y="105.2" width="23.2" height="105.0" fill="#2d2a78" stroke="#333" stroke-width="1.2"/>
<text x="990.9" y="172.0" font-size="40" fill="#fff" text-anchor="middle" textLength="19.5" lengthAdjust="spacingAndGlyphs">G</text>
<rect x="979.3" y="52.5" width="23.2" height="52.7" fill="#dda5c3" stroke="#333" stroke-width="1.2"/>
<text x="990.9" y="93.2" font-size="40" fill="#111" text-anchor="middle" textLength="17" lengthAdjust="spacingAndGlyphs">H</text>
<rect x="1010.0" y="695" width="910.5" height="133.0" fill="#e6d8cf"/>
<rect x="1010.0" y="851.6" width="910.5" height="134.0" fill="#e6d8cf"/>
<path d="M1010.0 828v-54.3h10.47v54.3zM1020.5 828v-93.0h10.47v93.0zM1030.9 828v-94.5h10.47v94.5zM1041.4 828v-28.0h10.47v28.0zM1051.9 828v-40.2h10.47v40.2zM1062.3 828v-63.7h10.47v63.7zM1072.8 828v-41.9h10.47v41.9zM1083.3 828v-39.4h10.47v39.4zM1093.7 828v-41.9h10.47v41.9zM1104.2 828v-40.7h10.47v40.7zM1114.7 828v-91.8h10.47v91.8zM1125.1 828v-84.8h10.47v84.8zM1135.6 828v-96.5h10.47v96.5zM1146.1 828v-42.7h10.47v42.7zM1156.5 828v-76.9h10.47v76.9zM1167.0 828v-41.4h10.47v41.4zM1177.4 828v-96.5h10.47v96.5zM1187.9 828v-44.4h10.47v44.4zM1198.4 828v-52.6h10.47v52.6zM1208.8 828v-96.5h10.47v96.5zM1219.3 828v-43.9h10.47v43.9zM1229.8 828v-45.9h10.47v45.9zM1240.2 828v-24.6h10.47v24.6zM1250.7 828v-97.7h10.47v97.7zM1261.2 828v-66.2h10.47v66.2zM1271.6 828v-40.2h10.47v40.2zM1282.1 828v-52.6h10.47v52.6zM1292.6 828v-54.3h10.47v54.3zM1303.0 828v-24.6h10.47v24.6zM1313.5 828v-75.6h10.47v75.6zM1324.0 828v-29.5h10.47v29.5zM1334.4 828v-97.7h10.47v97.7zM1344.9 828v-40.2h10.47v40.2zM1355.4 828v-52.6h10.47v52.6zM1365.8 828v-44.4h10.47v44.4zM1376.3 828v-99.7h10.47v99.7zM1386.8 828v-78.1h10.47v78.1zM1397.2 828v-41.4h10.47v41.4zM1407.7 828v-63.7h10.47v63.7zM1418.2 828v-99.7h10.47v99.7zM1428.6 828v-99.7h10.47v99.7zM1439.1 828v-99.7h10.47v99.7zM1449.6 828v-105.4h10.47v105.4zM1460.0 828v-100.2h10.47v100.2zM1470.5 828v-102.9h10.47v102.9zM1480.9 828v-91.5h10.47v91.5zM1491.4 828v-93.0h10.47v93.0zM1501.9 828v-45.1h10.47v45.1zM1512.3 828v-45.1h10.47v45.1zM1522.8 828v-102.2h10.47v102.2zM1533.3 828v-105.4h10.47v105.4zM1543.7 828v-105.4h10.47v105.4zM1554.2 828v-81.1h10.47v81.1zM1564.7 828v-81.1h10.47v81.1zM1575.1 828v-97.7h10.47v97.7zM1585.6 828v-55.1h10.47v55.1zM1596.1 828v-109.6h10.47v109.6zM1606.5 828v-65.0h10.47v65.0zM1617.0 828v-105.4h10.47v105.4zM1627.5 828v-94.7h10.47v94.7zM1637.9 828v-105.4h10.47v105.4zM1648.4 828v-105.4h10.47v105.4zM1658.9 828v-66.2h10.47v66.2zM1669.3 828v-43.4h10.47v43.4zM1679.8 828v-98.5h10.47v98.5zM1690.3 828v-81.1h10.47v81.1zM1700.7 828v-134.4h10.47v134.4zM1711.2 828v-97.7h10.47v97.7zM1721.7 828v-105.4h10.47v105.4zM1732.1 828v-105.4h10.47v105.4zM1742.6 828v-105.4h10.47v105.4zM1753.1 828v-105.4h10.47v105.4zM1763.5 828v-53.1h10.47v53.1zM1774.0 828v-117.8h10.47v117.8zM1784.4 828v-53.1h10.47v53.1zM1794.9 828v-58.3h10.47v58.3zM1805.4 828v-73.2h10.47v73.2zM1815.8 828v-41.4h10.47v41.4zM1826.3 828v-73.2h10.47v73.2zM1836.8 828v-36.0h10.47v36.0zM1847.2 828v-36.0h10.47v36.0zM1857.7 828v-48.9h10.47v48.9zM1868.2 828v-56.3h10.47v56.3zM1878.6 828v-83.1h10.47v83.1zM1889.1 828v-117.8h10.47v117.8zM1899.6 828v-53.8h10.47v53.8zM1910.0 828v-56.3h10.47v56.3zM1020.5 985.6v-63.7h10.47v63.7zM1030.9 985.6v-23.3h10.47v23.3zM1062.3 985.6v-11.7h10.47v11.7zM1125.1 985.6v-34.7h10.47v34.7zM1376.3 985.6v-23.3h10.47v23.3zM1386.8 985.6v-17.9h10.47v17.9zM1449.6 985.6v-29.0h10.47v29.0zM1480.9 985.6v-40.7h10.47v40.7zM1596.1 985.6v-11.7h10.47v11.7zM1690.3 985.6v-29.0h10.47v29.0zM1700.7 985.6v-29.0h10.47v29.0zM1711.2 985.6v-29.0h10.47v29.0zM1774.0 985.6v-34.7h10.47v34.7zM1794.9 985.6v-34.7h10.47v34.7zM1805.4 985.6v-5.5h10.47v5.5zM1826.3 985.6v-52.1h10.47v52.1zM1878.6 985.6v-11.7h10.47v11.7zM1889.1 985.6v-133.2h10.47v133.2zM1899.6 985.6v-17.4h10.47v17.4z" fill="#5a1a1c" stroke="#8a4a40" stroke-width="0.7"/>
<text x="1923" y="716" font-size="26" fill="#1a1a1a" textLength="25.5" lengthAdjust="spacingAndGlyphs" >99</text>
<text x="1923" y="828" font-size="26" fill="#1a1a1a" textLength="12.5" lengthAdjust="spacingAndGlyphs" >0</text>
<text x="1923" y="872.8" font-size="26" fill="#1a1a1a" textLength="25.5" lengthAdjust="spacingAndGlyphs" >23</text>
<text x="1923" y="985.5" font-size="26" fill="#1a1a1a" textLength="12.5" lengthAdjust="spacingAndGlyphs" >0</text>
<text x="1931.8" y="772.2" font-size="32" fill="#1a1a1a" textLength="195" lengthAdjust="spacingAndGlyphs" ># Gene clusters</text>
<text x="1931.8" y="929.3" font-size="32" fill="#1a1a1a" textLength="223.5" lengthAdjust="spacingAndGlyphs" ># Singleton genes</text>
<text x="945.3" y="49.4" font-size="33" fill="#1a1a1a" textLength="88" lengthAdjust="spacingAndGlyphs" >Cluster</text>
<rect x="1612.3" y="48.8" width="302" height="585.2" fill="#fff" stroke="#444" stroke-width="1.6"/>
<text x="1622" y="86.7" font-size="36" fill="#1a1a1a" textLength="284" lengthAdjust="spacingAndGlyphs" font-weight="bold">Prophage Clusters</text>
<rect x="1618" y="88.3" width="291" height="2.6" fill="#1a1a1a"/>
<rect x="1621.4" y="111.3" width="41" height="39.4" fill="#dda5c3" stroke="#333" stroke-width="1.6"/>
<text x="1676.6" y="143.6" font-size="39" fill="#1a1a1a" textLength="141.5" lengthAdjust="spacingAndGlyphs" >H (Phieta)</text>
<rect x="1621.4" y="169.7" width="41" height="39.4" fill="#2d2a78" stroke="#333" stroke-width="1.6"/>
<text x="1676.6" y="202.0" font-size="39" fill="#1a1a1a" textLength="143.3" lengthAdjust="spacingAndGlyphs" >G (Phieta)</text>
<rect x="1621.4" y="228.1" width="41" height="39.4" fill="#c56f9f" stroke="#333" stroke-width="1.6"/>
<text x="1676.6" y="260.4" font-size="39" fill="#1a1a1a" textLength="102" lengthAdjust="spacingAndGlyphs" >F (Tria)</text>
<rect x="1621.4" y="286.5" width="41" height="39.4" fill="#64b774" stroke="#333" stroke-width="1.6"/>
<text x="1676.6" y="318.8" font-size="39" fill="#1a1a1a" textLength="103" lengthAdjust="spacingAndGlyphs" >E (Tria)</text>
<rect x="1621.4" y="344.9" width="41" height="39.4" fill="#ece04c" stroke="#333" stroke-width="1.6"/>
<text x="1676.6" y="377.2" font-size="39" fill="#1a1a1a" textLength="191.4" lengthAdjust="spacingAndGlyphs" >D (Biseptima)</text>
<rect x="1621.4" y="403.3" width="41" height="39.4" fill="#1b9b6b" stroke="#333" stroke-width="1.6"/>
<text x="1676.6" y="435.6" font-size="39" fill="#1a1a1a" textLength="141.5" lengthAdjust="spacingAndGlyphs" >C (Phieta)</text>
<rect x="1621.4" y="461.7" width="41" height="39.4" fill="#5ba6d6" stroke="#333" stroke-width="1.6"/>
<text x="1676.6" y="494.0" font-size="39" fill="#1a1a1a" textLength="139.4" lengthAdjust="spacingAndGlyphs" >B (Phieta)</text>
<rect x="1621.4" y="520.1" width="41" height="39.4" fill="#e29a2b" stroke="#333" stroke-width="1.6"/>
<text x="1676.6" y="552.4" font-size="39" fill="#1a1a1a" textLength="187.2" lengthAdjust="spacingAndGlyphs" >A (Biseptima)</text>
<rect x="1621.4" y="578.5" width="41" height="39.4" fill="#c3dcec" stroke="#333" stroke-width="1.6"/>
<text x="1676.6" y="610.8" font-size="39" fill="#1a1a1a" textLength="198.5" lengthAdjust="spacingAndGlyphs" >S (Singletons)</text>
</svg>
</body></html>
